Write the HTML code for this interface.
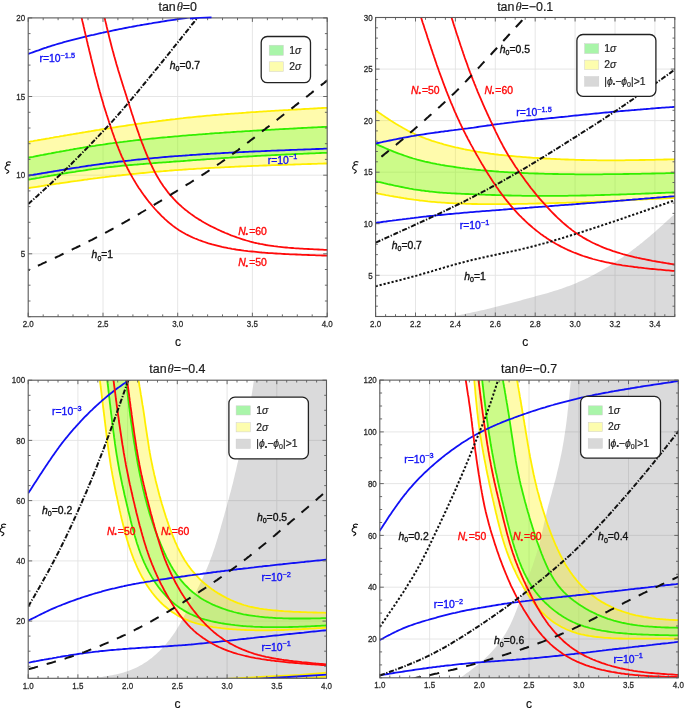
<!DOCTYPE html>
<html><head><meta charset="utf-8"><title>plot</title><style>
html,body{margin:0;padding:0;background:#fff;}
body{width:685px;height:708px;overflow:hidden;}
svg{display:block;filter:blur(0.35px);}
text{font-family:"Liberation Sans",sans-serif;}
.tk{font-size:9.3px;fill:#2a2a2a;}
.ti{font-size:12.4px;fill:#1a1a1a;stroke:#1a1a1a;stroke-width:0.2px;}
.th{font-family:"Liberation Serif",serif;font-style:italic;font-size:12.5px;}
.ax{font-size:12px;fill:#111;stroke:#111;stroke-width:0.2px;}
.xi{font-family:"Liberation Serif",serif;font-style:italic;font-size:14.5px;fill:#111;stroke:#111;stroke-width:0.25px;}
.pl{font-size:10.4px;}
.lg{font-size:10.4px;fill:#222;stroke:#222;stroke-width:0.2px;}
.it{font-style:italic;}
.sb{font-size:7px;}
.sp{font-size:7.3px;}
.st{font-size:7px;}
text{stroke-width:0.35px;paint-order:stroke;}
.tk{stroke:#2a2a2a;stroke-width:0.3px;}
</style></head>
<body><svg width="685" height="708" viewBox="0 0 685 708">
<defs><clipPath id="clip1"><rect x="28.2" y="17.9" width="299" height="298.8"/></clipPath>
<clipPath id="clip2"><rect x="375.6" y="17.5" width="299.2" height="299"/></clipPath>
<clipPath id="clip3"><rect x="28.2" y="380.2" width="298.3" height="298.1"/></clipPath>
<clipPath id="gcl1"><path d="M254.4,377 L254.1,379 L253.8,381 L253.5,383 L253.2,385 L252.9,387 L252.6,389 L252.3,390.9 L252,392.9 L251.7,394.9 L251.3,396.9 L251,398.9 L250.6,400.9 L250.3,402.8 L249.9,404.8 L249.6,406.8 L249.2,408.8 L248.8,410.7 L248.5,412.7 L248.1,414.7 L247.7,416.7 L247.3,418.6 L246.9,420.6 L246.5,422.6 L246.1,424.5 L245.7,426.5 L245.3,428.5 L244.9,430.4 L244.4,432.4 L244,434.4 L243.6,436.3 L243.2,438.3 L242.7,440.3 L242.3,442.2 L241.9,444.2 L241.4,446.2 L241,448.1 L240.5,450.1 L240.1,452.1 L239.7,454 L239.2,456 L238.8,457.9 L238.3,459.9 L237.9,461.9 L237.4,463.8 L237,465.8 L236.5,467.7 L236.1,469.7 L235.6,471.7 L235.1,473.6 L234.7,475.6 L234.2,477.5 L233.7,479.5 L233.3,481.4 L232.8,483.4 L232.3,485.3 L231.8,487.3 L231.3,489.2 L230.8,491.2 L230.3,493.1 L229.7,495.1 L229.2,497 L228.7,498.9 L228.2,500.9 L227.6,502.8 L227.1,504.8 L226.6,506.7 L226,508.6 L225.5,510.6 L224.9,512.5 L224.4,514.5 L223.9,516.4 L223.3,518.3 L222.8,520.3 L222.2,522.2 L221.7,524.1 L221.1,526.1 L220.6,528 L220,529.9 L219.5,531.9 L218.9,533.8 L218.3,535.7 L217.8,537.7 L217.2,539.6 L216.6,541.5 L216,543.4 L215.4,545.3 L214.8,547.3 L214.1,549.2 L213.5,551.1 L212.8,553 L212.2,554.9 L211.5,556.7 L210.8,558.6 L210.1,560.5 L209.4,562.4 L208.6,564.2 L207.9,566.1 L207.1,568 L206.3,569.8 L205.5,571.7 L204.7,573.5 L203.9,575.3 L203.1,577.2 L202.3,579 L201.4,580.8 L200.5,582.6 L199.7,584.5 L198.8,586.3 L197.9,588.1 L197,589.9 L196.2,591.7 L195.3,593.5 L194.4,595.3 L193.5,597.1 L192.6,598.9 L191.7,600.7 L190.8,602.5 L190,604.4 L189.1,606.2 L188.2,608 L187.3,609.8 L186.4,611.6 L185.5,613.4 L184.6,615.2 L183.7,617 L182.7,618.8 L181.8,620.6 L180.8,622.3 L179.9,624.1 L178.9,625.8 L177.8,627.6 L176.8,629.3 L175.7,631 L174.6,632.7 L173.5,634.3 L172.3,636 L171.1,637.6 L169.9,639.2 L168.7,640.8 L167.4,642.3 L166.1,643.9 L164.8,645.4 L163.4,646.9 L162.1,648.4 L160.7,649.8 L159.3,651.2 L157.8,652.6 L156.3,654 L154.8,655.3 L153.3,656.6 L151.8,657.9 L150.2,659.1 L148.6,660.3 L147,661.5 L145.3,662.6 L143.6,663.6 L141.9,664.7 L140.2,665.6 L138.5,666.6 L136.7,667.5 L134.9,668.3 L133.1,669.1 L131.3,669.8 L129.4,670.5 L127.5,671.2 L125.6,671.8 L123.7,672.4 L121.8,673 L119.9,673.5 L117.9,674 L115.9,674.4 L114,674.8 L112,675.2 L110,675.6 L108,676 L106,676.3 L104,676.6 L102.1,676.9 L100,677.2 L98,677.5 L96,677.8 L94,678.1 L92,678.3 L90,678.6 L88,678.8 L86,679.1 L84,679.4 L82,679.6 L80,679.9 L330,680 L330,377 Z"/></clipPath>
<clipPath id="clip4"><rect x="379.8" y="380.1" width="298.5" height="297.7"/></clipPath>
<clipPath id="gcl2"><path d="M571.1,377 L570.9,379 L570.8,381 L570.6,383 L570.4,385 L570.2,387 L570,389 L569.8,391 L569.6,393.1 L569.4,395.1 L569.2,397.1 L569,399.1 L568.8,401.1 L568.6,403.1 L568.4,405.1 L568.2,407.1 L568,409.1 L567.7,411.1 L567.5,413.1 L567.3,415.1 L567.1,417.1 L566.8,419.1 L566.6,421.1 L566.3,423.1 L566.1,425.1 L565.8,427.1 L565.5,429.1 L565.2,431.1 L564.9,433.1 L564.6,435.1 L564.3,437.1 L564,439 L563.7,441 L563.3,443 L563,445 L562.6,447 L562.3,448.9 L561.9,450.9 L561.5,452.9 L561.1,454.9 L560.7,456.8 L560.3,458.8 L559.9,460.8 L559.4,462.7 L559,464.7 L558.5,466.7 L558.1,468.6 L557.6,470.6 L557.1,472.5 L556.7,474.5 L556.2,476.5 L555.7,478.4 L555.2,480.4 L554.6,482.3 L554.1,484.2 L553.6,486.2 L553.1,488.1 L552.5,490.1 L552,492 L551.5,494 L550.9,495.9 L550.4,497.8 L549.9,499.8 L549.4,501.7 L548.8,503.7 L548.3,505.6 L547.8,507.6 L547.3,509.5 L546.8,511.5 L546.4,513.4 L545.9,515.4 L545.4,517.3 L545,519.3 L544.6,521.3 L544.1,523.2 L543.7,525.2 L543.3,527.2 L542.8,529.1 L542.4,531.1 L541.9,533.1 L541.5,535 L541,537 L540.6,538.9 L540.1,540.9 L539.6,542.8 L539.1,544.8 L538.6,546.7 L538.1,548.6 L537.5,550.6 L536.9,552.5 L536.4,554.4 L535.8,556.3 L535.1,558.2 L534.5,560.1 L533.9,562.1 L533.2,564 L532.6,565.9 L531.9,567.8 L531.2,569.7 L530.5,571.6 L529.9,573.5 L529.2,575.4 L528.5,577.2 L527.8,579.1 L527.1,581 L526.4,582.9 L525.8,584.8 L525.1,586.7 L524.4,588.6 L523.7,590.5 L523,592.4 L522.3,594.4 L521.6,596.3 L520.9,598.2 L520.2,600.1 L519.5,602 L518.8,603.9 L518.1,605.8 L517.4,607.7 L516.7,609.5 L516,611.4 L515.2,613.3 L514.5,615.2 L513.7,617 L512.9,618.9 L512.1,620.7 L511.3,622.5 L510.4,624.4 L509.5,626.2 L508.6,627.9 L507.7,629.7 L506.7,631.4 L505.7,633.2 L504.6,634.9 L503.6,636.6 L502.5,638.2 L501.3,639.9 L500.2,641.5 L499,643.1 L497.8,644.7 L496.5,646.2 L495.3,647.8 L494,649.3 L492.6,650.8 L491.3,652.3 L489.9,653.7 L488.5,655.2 L487.1,656.6 L485.6,657.9 L484.2,659.3 L482.7,660.6 L481.2,662 L479.6,663.3 L478.1,664.5 L476.5,665.8 L474.9,667.1 L473.3,668.3 L471.7,669.5 L470.1,670.7 L468.5,671.9 L466.8,673.1 L465.2,674.3 L463.6,675.5 L461.9,676.7 L460.2,677.8 L458.6,679 L456.9,680.2 L455.2,681.3 L682,681 L682,377 Z"/></clipPath></defs>
<rect x="0" y="0" width="685" height="708" fill="#fff"/>
<line x1="103" y1="17.9" x2="103" y2="316.7" stroke="#e3e3e3" stroke-width="0.9"/>
<line x1="177.7" y1="17.9" x2="177.7" y2="316.7" stroke="#e3e3e3" stroke-width="0.9"/>
<line x1="252.4" y1="17.9" x2="252.4" y2="316.7" stroke="#e3e3e3" stroke-width="0.9"/>
<line x1="28.2" y1="253.8" x2="327.2" y2="253.8" stroke="#e3e3e3" stroke-width="0.9"/>
<line x1="28.2" y1="175.2" x2="327.2" y2="175.2" stroke="#e3e3e3" stroke-width="0.9"/>
<line x1="28.2" y1="96.5" x2="327.2" y2="96.5" stroke="#e3e3e3" stroke-width="0.9"/>
<g clip-path="url(#clip1)">
<path d="M27,142.1 L29,141.8 L31,141.4 L33,141.1 L35,140.7 L37,140.4 L39,140 L41,139.7 L43,139.3 L45,139 L46.9,138.6 L48.9,138.3 L50.9,137.9 L52.9,137.6 L54.9,137.2 L56.9,136.9 L58.9,136.6 L60.9,136.2 L62.9,135.9 L64.9,135.5 L66.9,135.2 L68.9,134.8 L70.9,134.5 L72.9,134.2 L74.9,133.8 L76.9,133.5 L78.9,133.2 L80.9,132.8 L82.9,132.5 L84.9,132.2 L86.9,131.8 L88.9,131.5 L90.9,131.2 L92.9,130.8 L94.9,130.5 L96.9,130.2 L98.9,129.9 L100.9,129.5 L102.9,129.2 L104.9,128.9 L106.9,128.6 L108.9,128.3 L110.9,127.9 L112.9,127.6 L114.9,127.3 L116.9,127 L118.9,126.7 L120.9,126.4 L122.9,126.1 L124.9,125.8 L126.9,125.5 L128.9,125.2 L130.9,124.9 L132.9,124.6 L134.9,124.3 L136.9,124 L138.9,123.7 L140.9,123.5 L142.9,123.2 L144.9,122.9 L146.9,122.6 L148.9,122.4 L150.9,122.1 L152.9,121.8 L155,121.6 L157,121.3 L159,121 L161,120.8 L163,120.5 L165,120.3 L167,120 L169,119.8 L171,119.5 L173,119.3 L175,119.1 L177.1,118.8 L179.1,118.6 L181.1,118.4 L183.1,118.2 L185.1,117.9 L187.1,117.7 L189.1,117.5 L191.1,117.3 L193.2,117.1 L195.2,116.9 L197.2,116.7 L199.2,116.5 L201.2,116.3 L203.2,116.1 L205.3,115.9 L207.3,115.7 L209.3,115.6 L211.3,115.4 L213.3,115.2 L215.3,115 L217.4,114.9 L219.4,114.7 L221.4,114.5 L223.4,114.4 L225.4,114.2 L227.5,114 L229.5,113.9 L231.5,113.7 L233.5,113.6 L235.5,113.4 L237.5,113.3 L239.6,113.1 L241.6,113 L243.6,112.8 L245.6,112.7 L247.6,112.5 L249.7,112.4 L251.7,112.2 L253.7,112.1 L255.7,112 L257.7,111.8 L259.8,111.7 L261.8,111.6 L263.8,111.4 L265.8,111.3 L267.9,111.2 L269.9,111.1 L271.9,110.9 L273.9,110.8 L275.9,110.7 L278,110.6 L280,110.4 L282,110.3 L284,110.2 L286,110.1 L288.1,110 L290.1,109.8 L292.1,109.7 L294.1,109.6 L296.2,109.5 L298.2,109.4 L300.2,109.3 L302.2,109.1 L304.2,109 L306.3,108.9 L308.3,108.8 L310.3,108.7 L312.3,108.6 L314.3,108.5 L316.4,108.4 L318.4,108.2 L320.4,108.1 L322.4,108 L324.5,107.9 L326.5,107.8 L328.5,107.7 L328.5,163.4 L326.5,163.5 L324.5,163.5 L322.4,163.6 L320.4,163.6 L318.4,163.7 L316.4,163.8 L314.4,163.8 L312.4,163.9 L310.3,164 L308.3,164 L306.3,164.1 L304.3,164.2 L302.3,164.2 L300.3,164.3 L298.2,164.4 L296.2,164.4 L294.2,164.5 L292.2,164.6 L290.2,164.6 L288.1,164.7 L286.1,164.8 L284.1,164.8 L282.1,164.9 L280.1,165 L278.1,165 L276,165.1 L274,165.2 L272,165.2 L270,165.3 L268,165.4 L266,165.5 L263.9,165.5 L261.9,165.6 L259.9,165.7 L257.9,165.8 L255.9,165.9 L253.9,165.9 L251.8,166 L249.8,166.1 L247.8,166.2 L245.8,166.3 L243.8,166.3 L241.8,166.4 L239.7,166.5 L237.7,166.6 L235.7,166.7 L233.7,166.8 L231.7,166.9 L229.7,167 L227.6,167.1 L225.6,167.2 L223.6,167.3 L221.6,167.4 L219.6,167.5 L217.6,167.6 L215.5,167.7 L213.5,167.8 L211.5,167.9 L209.5,168 L207.5,168.1 L205.5,168.2 L203.4,168.3 L201.4,168.5 L199.4,168.6 L197.4,168.7 L195.4,168.8 L193.4,169 L191.4,169.1 L189.3,169.2 L187.3,169.4 L185.3,169.5 L183.3,169.6 L181.3,169.8 L179.3,169.9 L177.3,170.1 L175.2,170.2 L173.2,170.4 L171.2,170.5 L169.2,170.7 L167.2,170.8 L165.2,171 L163.2,171.2 L161.2,171.3 L159.1,171.5 L157.1,171.7 L155.1,171.9 L153.1,172 L151.1,172.2 L149.1,172.4 L147.1,172.6 L145.1,172.8 L143.1,173 L141.1,173.2 L139,173.4 L137,173.6 L135,173.8 L133,174 L131,174.2 L129,174.4 L127,174.6 L125,174.8 L123,175 L121,175.3 L119,175.5 L117,175.7 L115,176 L112.9,176.2 L110.9,176.4 L108.9,176.7 L106.9,176.9 L104.9,177.2 L102.9,177.4 L100.9,177.6 L98.9,177.9 L96.9,178.2 L94.9,178.4 L92.9,178.7 L90.9,178.9 L88.9,179.2 L86.9,179.5 L84.9,179.7 L82.9,180 L80.9,180.3 L78.9,180.6 L76.9,180.9 L74.9,181.1 L72.9,181.4 L70.9,181.7 L68.9,182 L66.9,182.3 L64.9,182.6 L62.9,182.9 L60.9,183.2 L58.9,183.5 L56.9,183.7 L54.9,184 L52.9,184.3 L50.9,184.6 L49,184.9 L47,185.2 L45,185.5 L43,185.8 L41,186.2 L39,186.5 L37,186.8 L35,187.1 L33,187.4 L31,187.7 L29,188 L27,188.3 Z" fill="rgba(255,243,0,0.325)" stroke="none"/>
<path d="M27,157.9 L29,157.5 L31,157.1 L33,156.8 L35,156.4 L36.9,156 L38.9,155.6 L40.9,155.2 L42.9,154.9 L44.9,154.5 L46.9,154.1 L48.9,153.7 L50.9,153.4 L52.8,153 L54.8,152.6 L56.8,152.2 L58.8,151.9 L60.8,151.5 L62.8,151.2 L64.8,150.8 L66.8,150.4 L68.8,150.1 L70.8,149.7 L72.8,149.4 L74.7,149 L76.7,148.7 L78.7,148.3 L80.7,148 L82.7,147.7 L84.7,147.3 L86.7,147 L88.7,146.7 L90.7,146.4 L92.7,146.1 L94.7,145.8 L96.7,145.4 L98.7,145.1 L100.7,144.8 L102.7,144.6 L104.7,144.3 L106.7,144 L108.7,143.7 L110.7,143.4 L112.7,143.2 L114.7,142.9 L116.7,142.6 L118.7,142.4 L120.7,142.1 L122.7,141.9 L124.8,141.6 L126.8,141.4 L128.8,141.1 L130.8,140.9 L132.8,140.7 L134.8,140.4 L136.8,140.2 L138.8,140 L140.8,139.8 L142.8,139.6 L144.9,139.3 L146.9,139.1 L148.9,138.9 L150.9,138.7 L152.9,138.5 L154.9,138.3 L156.9,138.1 L158.9,137.9 L161,137.7 L163,137.5 L165,137.3 L167,137.2 L169,137 L171,136.8 L173.1,136.6 L175.1,136.4 L177.1,136.3 L179.1,136.1 L181.1,135.9 L183.1,135.7 L185.2,135.6 L187.2,135.4 L189.2,135.2 L191.2,135.1 L193.2,134.9 L195.2,134.8 L197.3,134.6 L199.3,134.4 L201.3,134.3 L203.3,134.1 L205.3,134 L207.3,133.8 L209.4,133.7 L211.4,133.5 L213.4,133.4 L215.4,133.2 L217.4,133.1 L219.4,133 L221.5,132.8 L223.5,132.7 L225.5,132.5 L227.5,132.4 L229.5,132.3 L231.6,132.1 L233.6,132 L235.6,131.9 L237.6,131.7 L239.6,131.6 L241.6,131.5 L243.7,131.3 L245.7,131.2 L247.7,131.1 L249.7,131 L251.7,130.8 L253.8,130.7 L255.8,130.6 L257.8,130.5 L259.8,130.4 L261.8,130.2 L263.9,130.1 L265.9,130 L267.9,129.9 L269.9,129.8 L271.9,129.7 L274,129.6 L276,129.4 L278,129.3 L280,129.2 L282,129.1 L284.1,129 L286.1,128.9 L288.1,128.8 L290.1,128.7 L292.1,128.6 L294.2,128.5 L296.2,128.4 L298.2,128.2 L300.2,128.1 L302.2,128 L304.3,127.9 L306.3,127.8 L308.3,127.7 L310.3,127.6 L312.3,127.5 L314.4,127.4 L316.4,127.3 L318.4,127.2 L320.4,127.1 L322.4,127 L324.5,126.9 L326.5,126.8 L328.5,126.7 L328.5,152.7 L326.5,152.8 L324.5,152.9 L322.4,152.9 L320.4,153 L318.4,153.1 L316.4,153.2 L314.4,153.3 L312.4,153.3 L310.3,153.4 L308.3,153.5 L306.3,153.6 L304.3,153.7 L302.3,153.8 L300.2,153.9 L298.2,153.9 L296.2,154 L294.2,154.1 L292.2,154.2 L290.2,154.3 L288.1,154.4 L286.1,154.5 L284.1,154.6 L282.1,154.7 L280.1,154.8 L278,154.9 L276,155 L274,155.1 L272,155.2 L270,155.3 L268,155.4 L265.9,155.5 L263.9,155.6 L261.9,155.7 L259.9,155.8 L257.9,155.9 L255.9,156 L253.8,156.1 L251.8,156.3 L249.8,156.4 L247.8,156.5 L245.8,156.6 L243.8,156.7 L241.7,156.9 L239.7,157 L237.7,157.1 L235.7,157.3 L233.7,157.4 L231.7,157.5 L229.7,157.7 L227.6,157.8 L225.6,157.9 L223.6,158.1 L221.6,158.2 L219.6,158.3 L217.6,158.5 L215.5,158.6 L213.5,158.8 L211.5,158.9 L209.5,159.1 L207.5,159.2 L205.5,159.4 L203.5,159.5 L201.4,159.6 L199.4,159.8 L197.4,159.9 L195.4,160.1 L193.4,160.2 L191.4,160.4 L189.4,160.5 L187.3,160.7 L185.3,160.8 L183.3,161 L181.3,161.1 L179.3,161.3 L177.3,161.4 L175.2,161.5 L173.2,161.7 L171.2,161.8 L169.2,162 L167.2,162.1 L165.2,162.3 L163.2,162.4 L161.1,162.6 L159.1,162.7 L157.1,162.9 L155.1,163 L153.1,163.2 L151.1,163.3 L149,163.5 L147,163.6 L145,163.8 L143,164 L141,164.1 L139,164.3 L137,164.5 L134.9,164.6 L132.9,164.8 L130.9,165 L128.9,165.2 L126.9,165.4 L124.9,165.5 L122.9,165.7 L120.9,165.9 L118.9,166.1 L116.9,166.3 L114.8,166.5 L112.8,166.8 L110.8,167 L108.8,167.2 L106.8,167.4 L104.8,167.7 L102.8,167.9 L100.8,168.1 L98.8,168.4 L96.8,168.6 L94.8,168.9 L92.8,169.2 L90.8,169.4 L88.8,169.7 L86.8,170 L84.8,170.3 L82.8,170.6 L80.8,170.8 L78.8,171.1 L76.8,171.4 L74.8,171.8 L72.8,172.1 L70.8,172.4 L68.8,172.7 L66.8,173 L64.8,173.3 L62.8,173.7 L60.8,174 L58.9,174.3 L56.9,174.7 L54.9,175 L52.9,175.3 L50.9,175.7 L48.9,176 L46.9,176.4 L44.9,176.7 L42.9,177.1 L40.9,177.4 L38.9,177.8 L36.9,178.1 L35,178.5 L33,178.8 L31,179.2 L29,179.5 L27,179.9 Z" fill="rgba(0,255,0,0.2)" stroke="none"/>
<path d="M27,142.1 L29,141.8 L31,141.4 L33,141.1 L35,140.7 L37,140.4 L39,140 L41,139.7 L43,139.3 L45,139 L46.9,138.6 L48.9,138.3 L50.9,137.9 L52.9,137.6 L54.9,137.2 L56.9,136.9 L58.9,136.6 L60.9,136.2 L62.9,135.9 L64.9,135.5 L66.9,135.2 L68.9,134.8 L70.9,134.5 L72.9,134.2 L74.9,133.8 L76.9,133.5 L78.9,133.2 L80.9,132.8 L82.9,132.5 L84.9,132.2 L86.9,131.8 L88.9,131.5 L90.9,131.2 L92.9,130.8 L94.9,130.5 L96.9,130.2 L98.9,129.9 L100.9,129.5 L102.9,129.2 L104.9,128.9 L106.9,128.6 L108.9,128.3 L110.9,127.9 L112.9,127.6 L114.9,127.3 L116.9,127 L118.9,126.7 L120.9,126.4 L122.9,126.1 L124.9,125.8 L126.9,125.5 L128.9,125.2 L130.9,124.9 L132.9,124.6 L134.9,124.3 L136.9,124 L138.9,123.7 L140.9,123.5 L142.9,123.2 L144.9,122.9 L146.9,122.6 L148.9,122.4 L150.9,122.1 L152.9,121.8 L155,121.6 L157,121.3 L159,121 L161,120.8 L163,120.5 L165,120.3 L167,120 L169,119.8 L171,119.5 L173,119.3 L175,119.1 L177.1,118.8 L179.1,118.6 L181.1,118.4 L183.1,118.2 L185.1,117.9 L187.1,117.7 L189.1,117.5 L191.1,117.3 L193.2,117.1 L195.2,116.9 L197.2,116.7 L199.2,116.5 L201.2,116.3 L203.2,116.1 L205.3,115.9 L207.3,115.7 L209.3,115.6 L211.3,115.4 L213.3,115.2 L215.3,115 L217.4,114.9 L219.4,114.7 L221.4,114.5 L223.4,114.4 L225.4,114.2 L227.5,114 L229.5,113.9 L231.5,113.7 L233.5,113.6 L235.5,113.4 L237.5,113.3 L239.6,113.1 L241.6,113 L243.6,112.8 L245.6,112.7 L247.6,112.5 L249.7,112.4 L251.7,112.2 L253.7,112.1 L255.7,112 L257.7,111.8 L259.8,111.7 L261.8,111.6 L263.8,111.4 L265.8,111.3 L267.9,111.2 L269.9,111.1 L271.9,110.9 L273.9,110.8 L275.9,110.7 L278,110.6 L280,110.4 L282,110.3 L284,110.2 L286,110.1 L288.1,110 L290.1,109.8 L292.1,109.7 L294.1,109.6 L296.2,109.5 L298.2,109.4 L300.2,109.3 L302.2,109.1 L304.2,109 L306.3,108.9 L308.3,108.8 L310.3,108.7 L312.3,108.6 L314.3,108.5 L316.4,108.4 L318.4,108.2 L320.4,108.1 L322.4,108 L324.5,107.9 L326.5,107.8 L328.5,107.7" fill="none" stroke="#ffee00" stroke-width="1.8" stroke-linejoin="round"/>
<path d="M27,188.3 L29,188 L31,187.7 L33,187.4 L35,187.1 L37,186.8 L39,186.5 L41,186.2 L43,185.8 L45,185.5 L47,185.2 L49,184.9 L50.9,184.6 L52.9,184.3 L54.9,184 L56.9,183.7 L58.9,183.5 L60.9,183.2 L62.9,182.9 L64.9,182.6 L66.9,182.3 L68.9,182 L70.9,181.7 L72.9,181.4 L74.9,181.1 L76.9,180.9 L78.9,180.6 L80.9,180.3 L82.9,180 L84.9,179.7 L86.9,179.5 L88.9,179.2 L90.9,178.9 L92.9,178.7 L94.9,178.4 L96.9,178.2 L98.9,177.9 L100.9,177.6 L102.9,177.4 L104.9,177.2 L106.9,176.9 L108.9,176.7 L110.9,176.4 L112.9,176.2 L115,176 L117,175.7 L119,175.5 L121,175.3 L123,175 L125,174.8 L127,174.6 L129,174.4 L131,174.2 L133,174 L135,173.8 L137,173.6 L139,173.4 L141.1,173.2 L143.1,173 L145.1,172.8 L147.1,172.6 L149.1,172.4 L151.1,172.2 L153.1,172 L155.1,171.9 L157.1,171.7 L159.1,171.5 L161.2,171.3 L163.2,171.2 L165.2,171 L167.2,170.8 L169.2,170.7 L171.2,170.5 L173.2,170.4 L175.2,170.2 L177.3,170.1 L179.3,169.9 L181.3,169.8 L183.3,169.6 L185.3,169.5 L187.3,169.4 L189.3,169.2 L191.4,169.1 L193.4,169 L195.4,168.8 L197.4,168.7 L199.4,168.6 L201.4,168.5 L203.4,168.3 L205.5,168.2 L207.5,168.1 L209.5,168 L211.5,167.9 L213.5,167.8 L215.5,167.7 L217.6,167.6 L219.6,167.5 L221.6,167.4 L223.6,167.3 L225.6,167.2 L227.6,167.1 L229.7,167 L231.7,166.9 L233.7,166.8 L235.7,166.7 L237.7,166.6 L239.7,166.5 L241.8,166.4 L243.8,166.3 L245.8,166.3 L247.8,166.2 L249.8,166.1 L251.8,166 L253.9,165.9 L255.9,165.9 L257.9,165.8 L259.9,165.7 L261.9,165.6 L263.9,165.5 L266,165.5 L268,165.4 L270,165.3 L272,165.2 L274,165.2 L276,165.1 L278.1,165 L280.1,165 L282.1,164.9 L284.1,164.8 L286.1,164.8 L288.1,164.7 L290.2,164.6 L292.2,164.6 L294.2,164.5 L296.2,164.4 L298.2,164.4 L300.3,164.3 L302.3,164.2 L304.3,164.2 L306.3,164.1 L308.3,164 L310.3,164 L312.4,163.9 L314.4,163.8 L316.4,163.8 L318.4,163.7 L320.4,163.6 L322.4,163.6 L324.5,163.5 L326.5,163.5 L328.5,163.4" fill="none" stroke="#ffee00" stroke-width="1.8" stroke-linejoin="round"/>
<path d="M27,157.9 L29,157.5 L31,157.1 L33,156.8 L35,156.4 L36.9,156 L38.9,155.6 L40.9,155.2 L42.9,154.9 L44.9,154.5 L46.9,154.1 L48.9,153.7 L50.9,153.4 L52.8,153 L54.8,152.6 L56.8,152.2 L58.8,151.9 L60.8,151.5 L62.8,151.2 L64.8,150.8 L66.8,150.4 L68.8,150.1 L70.8,149.7 L72.8,149.4 L74.7,149 L76.7,148.7 L78.7,148.3 L80.7,148 L82.7,147.7 L84.7,147.3 L86.7,147 L88.7,146.7 L90.7,146.4 L92.7,146.1 L94.7,145.8 L96.7,145.4 L98.7,145.1 L100.7,144.8 L102.7,144.6 L104.7,144.3 L106.7,144 L108.7,143.7 L110.7,143.4 L112.7,143.2 L114.7,142.9 L116.7,142.6 L118.7,142.4 L120.7,142.1 L122.7,141.9 L124.8,141.6 L126.8,141.4 L128.8,141.1 L130.8,140.9 L132.8,140.7 L134.8,140.4 L136.8,140.2 L138.8,140 L140.8,139.8 L142.8,139.6 L144.9,139.3 L146.9,139.1 L148.9,138.9 L150.9,138.7 L152.9,138.5 L154.9,138.3 L156.9,138.1 L158.9,137.9 L161,137.7 L163,137.5 L165,137.3 L167,137.2 L169,137 L171,136.8 L173.1,136.6 L175.1,136.4 L177.1,136.3 L179.1,136.1 L181.1,135.9 L183.1,135.7 L185.2,135.6 L187.2,135.4 L189.2,135.2 L191.2,135.1 L193.2,134.9 L195.2,134.8 L197.3,134.6 L199.3,134.4 L201.3,134.3 L203.3,134.1 L205.3,134 L207.3,133.8 L209.4,133.7 L211.4,133.5 L213.4,133.4 L215.4,133.2 L217.4,133.1 L219.4,133 L221.5,132.8 L223.5,132.7 L225.5,132.5 L227.5,132.4 L229.5,132.3 L231.6,132.1 L233.6,132 L235.6,131.9 L237.6,131.7 L239.6,131.6 L241.6,131.5 L243.7,131.3 L245.7,131.2 L247.7,131.1 L249.7,131 L251.7,130.8 L253.8,130.7 L255.8,130.6 L257.8,130.5 L259.8,130.4 L261.8,130.2 L263.9,130.1 L265.9,130 L267.9,129.9 L269.9,129.8 L271.9,129.7 L274,129.6 L276,129.4 L278,129.3 L280,129.2 L282,129.1 L284.1,129 L286.1,128.9 L288.1,128.8 L290.1,128.7 L292.1,128.6 L294.2,128.5 L296.2,128.4 L298.2,128.2 L300.2,128.1 L302.2,128 L304.3,127.9 L306.3,127.8 L308.3,127.7 L310.3,127.6 L312.3,127.5 L314.4,127.4 L316.4,127.3 L318.4,127.2 L320.4,127.1 L322.4,127 L324.5,126.9 L326.5,126.8 L328.5,126.7" fill="none" stroke="#33ee00" stroke-width="1.8" stroke-linejoin="round"/>
<path d="M27,179.9 L29,179.5 L31,179.2 L33,178.8 L35,178.5 L36.9,178.1 L38.9,177.8 L40.9,177.4 L42.9,177.1 L44.9,176.7 L46.9,176.4 L48.9,176 L50.9,175.7 L52.9,175.3 L54.9,175 L56.9,174.7 L58.9,174.3 L60.8,174 L62.8,173.7 L64.8,173.3 L66.8,173 L68.8,172.7 L70.8,172.4 L72.8,172.1 L74.8,171.8 L76.8,171.4 L78.8,171.1 L80.8,170.8 L82.8,170.6 L84.8,170.3 L86.8,170 L88.8,169.7 L90.8,169.4 L92.8,169.2 L94.8,168.9 L96.8,168.6 L98.8,168.4 L100.8,168.1 L102.8,167.9 L104.8,167.7 L106.8,167.4 L108.8,167.2 L110.8,167 L112.8,166.8 L114.8,166.5 L116.9,166.3 L118.9,166.1 L120.9,165.9 L122.9,165.7 L124.9,165.5 L126.9,165.4 L128.9,165.2 L130.9,165 L132.9,164.8 L134.9,164.6 L137,164.5 L139,164.3 L141,164.1 L143,164 L145,163.8 L147,163.6 L149,163.5 L151.1,163.3 L153.1,163.2 L155.1,163 L157.1,162.9 L159.1,162.7 L161.1,162.6 L163.2,162.4 L165.2,162.3 L167.2,162.1 L169.2,162 L171.2,161.8 L173.2,161.7 L175.2,161.5 L177.3,161.4 L179.3,161.3 L181.3,161.1 L183.3,161 L185.3,160.8 L187.3,160.7 L189.4,160.5 L191.4,160.4 L193.4,160.2 L195.4,160.1 L197.4,159.9 L199.4,159.8 L201.4,159.6 L203.5,159.5 L205.5,159.4 L207.5,159.2 L209.5,159.1 L211.5,158.9 L213.5,158.8 L215.5,158.6 L217.6,158.5 L219.6,158.3 L221.6,158.2 L223.6,158.1 L225.6,157.9 L227.6,157.8 L229.7,157.7 L231.7,157.5 L233.7,157.4 L235.7,157.3 L237.7,157.1 L239.7,157 L241.7,156.9 L243.8,156.7 L245.8,156.6 L247.8,156.5 L249.8,156.4 L251.8,156.3 L253.8,156.1 L255.9,156 L257.9,155.9 L259.9,155.8 L261.9,155.7 L263.9,155.6 L265.9,155.5 L268,155.4 L270,155.3 L272,155.2 L274,155.1 L276,155 L278,154.9 L280.1,154.8 L282.1,154.7 L284.1,154.6 L286.1,154.5 L288.1,154.4 L290.2,154.3 L292.2,154.2 L294.2,154.1 L296.2,154 L298.2,153.9 L300.2,153.9 L302.3,153.8 L304.3,153.7 L306.3,153.6 L308.3,153.5 L310.3,153.4 L312.4,153.3 L314.4,153.3 L316.4,153.2 L318.4,153.1 L320.4,153 L322.4,152.9 L324.5,152.9 L326.5,152.8 L328.5,152.7" fill="none" stroke="#33ee00" stroke-width="1.8" stroke-linejoin="round"/>
<path d="M27,175.9 L29,175.5 L31,175.2 L33,174.9 L35,174.5 L37,174.2 L38.9,173.8 L40.9,173.5 L42.9,173.1 L44.9,172.8 L46.9,172.5 L48.9,172.1 L50.9,171.8 L52.9,171.5 L54.9,171.1 L56.9,170.8 L58.9,170.5 L60.9,170.1 L62.9,169.8 L64.9,169.5 L66.8,169.2 L68.8,168.8 L70.8,168.5 L72.8,168.2 L74.8,167.9 L76.8,167.6 L78.8,167.3 L80.8,166.9 L82.8,166.6 L84.8,166.3 L86.8,166 L88.8,165.7 L90.8,165.5 L92.8,165.2 L94.8,164.9 L96.8,164.6 L98.8,164.3 L100.8,164 L102.8,163.8 L104.8,163.5 L106.8,163.2 L108.8,163 L110.8,162.7 L112.8,162.5 L114.8,162.2 L116.8,162 L118.8,161.7 L120.8,161.5 L122.9,161.3 L124.9,161 L126.9,160.8 L128.9,160.6 L130.9,160.4 L132.9,160.1 L134.9,159.9 L136.9,159.7 L138.9,159.5 L140.9,159.3 L142.9,159.1 L145,158.9 L147,158.7 L149,158.5 L151,158.3 L153,158.1 L155,157.9 L157,157.8 L159,157.6 L161.1,157.4 L163.1,157.2 L165.1,157 L167.1,156.9 L169.1,156.7 L171.1,156.5 L173.1,156.4 L175.1,156.2 L177.2,156.1 L179.2,155.9 L181.2,155.8 L183.2,155.6 L185.2,155.5 L187.2,155.3 L189.3,155.2 L191.3,155 L193.3,154.9 L195.3,154.8 L197.3,154.6 L199.3,154.5 L201.3,154.4 L203.4,154.2 L205.4,154.1 L207.4,154 L209.4,153.9 L211.4,153.7 L213.4,153.6 L215.5,153.5 L217.5,153.4 L219.5,153.3 L221.5,153.1 L223.5,153 L225.6,152.9 L227.6,152.8 L229.6,152.7 L231.6,152.6 L233.6,152.5 L235.6,152.4 L237.7,152.3 L239.7,152.2 L241.7,152.1 L243.7,152 L245.7,151.9 L247.7,151.8 L249.8,151.7 L251.8,151.6 L253.8,151.5 L255.8,151.4 L257.8,151.4 L259.9,151.3 L261.9,151.2 L263.9,151.1 L265.9,151 L267.9,150.9 L270,150.8 L272,150.7 L274,150.7 L276,150.6 L278,150.5 L280,150.4 L282.1,150.3 L284.1,150.3 L286.1,150.2 L288.1,150.1 L290.1,150 L292.2,149.9 L294.2,149.9 L296.2,149.8 L298.2,149.7 L300.2,149.6 L302.3,149.6 L304.3,149.5 L306.3,149.4 L308.3,149.3 L310.3,149.3 L312.3,149.2 L314.4,149.1 L316.4,149 L318.4,149 L320.4,148.9 L322.4,148.8 L324.5,148.7 L326.5,148.7 L328.5,148.6" fill="none" stroke="#1010f5" stroke-width="1.8" stroke-linejoin="round"/>
<path d="M27,54.4 L28.9,53.7 L30.8,53 L32.7,52.3 L34.6,51.6 L36.6,50.9 L38.5,50.3 L40.4,49.6 L42.3,48.9 L44.3,48.2 L46.2,47.6 L48.1,46.9 L50.1,46.3 L52,45.7 L54,45.1 L55.9,44.5 L57.9,43.9 L59.8,43.3 L61.8,42.8 L63.8,42.2 L65.7,41.7 L67.7,41.1 L69.7,40.6 L71.6,40.1 L73.6,39.6 L75.6,39.1 L77.6,38.6 L79.6,38.1 L81.5,37.6 L83.5,37.1 L85.5,36.6 L87.5,36.2 L89.5,35.7 L91.5,35.2 L93.5,34.8 L95.5,34.3 L97.4,33.9 L99.4,33.4 L101.4,33 L103.4,32.5 L105.4,32.1 L107.4,31.7 L109.4,31.3 L111.4,30.8 L113.4,30.4 L115.4,30 L117.4,29.6 L119.4,29.2 L121.4,28.8 L123.4,28.4 L125.4,28 L127.4,27.6 L129.4,27.2 L131.4,26.9 L133.4,26.5 L135.5,26.1 L137.5,25.7 L139.5,25.4 L141.5,25 L143.5,24.7 L145.5,24.3 L147.5,24 L149.5,23.6 L151.5,23.3 L153.6,22.9 L155.6,22.6 L157.6,22.3 L159.6,22 L161.6,21.6 L163.6,21.3 L165.7,21 L167.7,20.7 L169.7,20.4 L171.7,20.1 L173.7,19.8 L175.7,19.5 L177.8,19.2 L179.8,18.9 L181.8,18.6 L183.8,18.3 L185.8,18 L187.9,17.7 L189.9,17.4 L191.9,17.1 L193.9,16.8 L195.9,16.5 L198,16.2 L200,16" fill="none" stroke="#1010f5" stroke-width="1.8" stroke-linejoin="round"/>
<path d="M81,15 L81.4,17 L81.9,18.9 L82.3,20.9 L82.8,22.9 L83.3,24.8 L83.7,26.8 L84.2,28.8 L84.6,30.7 L85.1,32.7 L85.5,34.6 L86,36.6 L86.5,38.6 L86.9,40.5 L87.4,42.5 L87.8,44.5 L88.3,46.4 L88.8,48.4 L89.2,50.3 L89.7,52.3 L90.2,54.3 L90.7,56.2 L91.1,58.2 L91.6,60.1 L92.1,62.1 L92.6,64.1 L93.1,66 L93.6,68 L94.1,69.9 L94.5,71.9 L95,73.8 L95.5,75.8 L96.1,77.7 L96.6,79.7 L97.1,81.6 L97.6,83.6 L98.1,85.5 L98.6,87.5 L99.2,89.4 L99.7,91.4 L100.3,93.3 L100.8,95.2 L101.4,97.2 L101.9,99.1 L102.5,101.1 L103.1,103 L103.6,104.9 L104.2,106.9 L104.8,108.8 L105.4,110.7 L106,112.6 L106.6,114.6 L107.3,116.5 L107.9,118.4 L108.5,120.3 L109.1,122.2 L109.8,124.1 L110.4,126.1 L111,128 L111.7,129.9 L112.3,131.8 L113,133.7 L113.7,135.6 L114.3,137.5 L115,139.4 L115.7,141.3 L116.4,143.2 L117.1,145.1 L117.9,146.9 L118.6,148.8 L119.4,150.7 L120.1,152.5 L120.9,154.4 L121.7,156.3 L122.6,158.1 L123.4,159.9 L124.2,161.8 L125.1,163.6 L126,165.4 L126.9,167.2 L127.8,169 L128.8,170.8 L129.7,172.6 L130.7,174.3 L131.7,176.1 L132.7,177.9 L133.7,179.6 L134.7,181.3 L135.8,183.1 L136.8,184.8 L137.9,186.5 L139,188.2 L140.2,189.8 L141.3,191.5 L142.5,193.2 L143.6,194.8 L144.8,196.4 L146.1,198.1 L147.3,199.7 L148.5,201.3 L149.8,202.8 L151.1,204.4 L152.4,206 L153.7,207.5 L155,209 L156.4,210.5 L157.8,212 L159.2,213.4 L160.6,214.9 L162,216.3 L163.5,217.7 L164.9,219.1 L166.4,220.4 L167.9,221.8 L169.5,223.1 L171,224.3 L172.6,225.6 L174.2,226.8 L175.8,227.9 L177.4,229.1 L179.1,230.2 L180.8,231.2 L182.5,232.3 L184.3,233.3 L186,234.2 L187.8,235.1 L189.6,236 L191.4,236.9 L193.2,237.7 L195.1,238.5 L197,239.2 L198.8,240 L200.7,240.7 L202.6,241.4 L204.5,242 L206.4,242.7 L208.4,243.3 L210.3,243.8 L212.2,244.4 L214.2,244.9 L216.1,245.4 L218.1,245.9 L220.1,246.4 L222,246.9 L224,247.3 L226,247.7 L228,248.1 L229.9,248.4 L231.9,248.8 L233.9,249.1 L235.9,249.5 L237.9,249.8 L239.9,250 L241.9,250.3 L243.9,250.6 L245.9,250.8 L247.9,251.1 L250,251.3 L252,251.5 L254,251.7 L256,251.9 L258,252.1 L260,252.3 L262,252.5 L264,252.6 L266,252.8 L268.1,253 L270.1,253.1 L272.1,253.2 L274.1,253.4 L276.1,253.5 L278.1,253.6 L280.1,253.7 L282.2,253.9 L284.2,254 L286.2,254.1 L288.2,254.2 L290.2,254.3 L292.2,254.4 L294.2,254.4 L296.3,254.5 L298.3,254.6 L300.3,254.7 L302.3,254.8 L304.3,254.8 L306.3,254.9 L308.3,255 L310.4,255.1 L312.4,255.1 L314.4,255.2 L316.4,255.3 L318.4,255.3 L320.4,255.4 L322.5,255.5 L324.5,255.5 L326.5,255.6 L328.5,255.6" fill="none" stroke="#ff0a0a" stroke-width="1.8" stroke-linejoin="round"/>
<path d="M103.9,15 L104.4,17 L104.9,19 L105.3,20.9 L105.8,22.9 L106.3,24.8 L106.7,26.8 L107.2,28.8 L107.7,30.7 L108.2,32.7 L108.7,34.7 L109.1,36.6 L109.6,38.6 L110.1,40.5 L110.6,42.5 L111.1,44.5 L111.6,46.4 L112.1,48.4 L112.6,50.3 L113.2,52.3 L113.7,54.2 L114.2,56.2 L114.8,58.1 L115.3,60.1 L115.9,62 L116.4,64 L117,65.9 L117.6,67.8 L118.1,69.8 L118.7,71.7 L119.3,73.6 L119.9,75.6 L120.5,77.5 L121.1,79.4 L121.7,81.3 L122.3,83.3 L122.9,85.2 L123.5,87.1 L124.1,89 L124.8,91 L125.4,92.9 L126,94.8 L126.6,96.7 L127.2,98.7 L127.8,100.6 L128.5,102.5 L129.1,104.5 L129.7,106.4 L130.3,108.3 L130.9,110.2 L131.5,112.2 L132.1,114.1 L132.8,116 L133.4,117.9 L134,119.9 L134.6,121.8 L135.3,123.7 L135.9,125.6 L136.6,127.5 L137.2,129.4 L137.9,131.4 L138.6,133.3 L139.2,135.2 L139.9,137.1 L140.6,139 L141.3,140.9 L142,142.8 L142.8,144.7 L143.5,146.5 L144.2,148.4 L145,150.3 L145.7,152.2 L146.5,154.1 L147.3,155.9 L148.1,157.8 L148.9,159.7 L149.7,161.5 L150.5,163.4 L151.4,165.2 L152.3,167 L153.2,168.8 L154.1,170.6 L155,172.4 L156,174.2 L157,176 L158,177.7 L159,179.4 L160.1,181.2 L161.1,182.8 L162.3,184.5 L163.4,186.2 L164.6,187.8 L165.8,189.4 L167,191 L168.2,192.6 L169.5,194.2 L170.8,195.7 L172.2,197.2 L173.5,198.7 L174.9,200.1 L176.3,201.6 L177.7,203 L179.2,204.4 L180.7,205.7 L182.2,207.1 L183.7,208.4 L185.3,209.7 L186.9,210.9 L188.5,212.2 L190.1,213.4 L191.7,214.6 L193.4,215.7 L195,216.9 L196.7,218 L198.4,219.1 L200.2,220.1 L201.9,221.2 L203.6,222.2 L205.4,223.2 L207.2,224.2 L209,225.2 L210.7,226.1 L212.6,227 L214.4,227.9 L216.2,228.8 L218,229.7 L219.9,230.5 L221.7,231.4 L223.6,232.2 L225.4,233 L227.3,233.7 L229.2,234.5 L231.1,235.3 L233,236 L234.9,236.7 L236.8,237.4 L238.7,238 L240.6,238.7 L242.5,239.3 L244.4,239.9 L246.4,240.5 L248.3,241 L250.3,241.6 L252.2,242.1 L254.2,242.6 L256.1,243 L258.1,243.5 L260.1,243.9 L262,244.2 L264,244.6 L266,245 L268,245.3 L270,245.6 L272,245.9 L274,246.2 L276,246.4 L278,246.7 L280,246.9 L282,247.1 L284.1,247.3 L286.1,247.5 L288.1,247.7 L290.1,247.8 L292.1,248 L294.1,248.2 L296.2,248.3 L298.2,248.4 L300.2,248.6 L302.2,248.7 L304.2,248.8 L306.3,248.9 L308.3,249 L310.3,249.1 L312.3,249.2 L314.3,249.3 L316.4,249.4 L318.4,249.5 L320.4,249.6 L322.4,249.7 L324.4,249.8 L326.5,249.8 L328.5,249.9" fill="none" stroke="#ff0a0a" stroke-width="1.8" stroke-linejoin="round"/>
<path d="M28.2,204 L29.7,202.7 L31.3,201.3 L32.8,200 L34.3,198.6 L35.8,197.2 L37.3,195.9 L38.8,194.5 L40.3,193.2 L41.8,191.8 L43.3,190.4 L44.8,189.1 L46.3,187.7 L47.8,186.3 L49.3,184.9 L50.8,183.6 L52.2,182.2 L53.7,180.8 L55.2,179.4 L56.7,178 L58.2,176.6 L59.6,175.3 L61.1,173.9 L62.6,172.5 L64,171.1 L65.5,169.6 L67,168.2 L68.4,166.8 L69.9,165.4 L71.3,164 L72.7,162.5 L74.2,161.1 L75.6,159.7 L77,158.2 L78.5,156.8 L79.9,155.3 L81.3,153.9 L82.7,152.4 L84.1,151 L85.6,149.5 L87,148.1 L88.4,146.6 L89.8,145.2 L91.2,143.7 L92.6,142.2 L94,140.8 L95.4,139.3 L96.8,137.8 L98.2,136.4 L99.6,134.9 L101,133.4 L102.4,132 L103.8,130.5 L105.2,129 L106.6,127.5 L107.9,126.1 L109.3,124.6 L110.7,123.1 L112.1,121.6 L113.4,120.1 L114.8,118.6 L116.1,117 L117.5,115.5 L118.8,114 L120.1,112.5 L121.4,110.9 L122.8,109.4 L124.1,107.9 L125.4,106.3 L126.7,104.8 L128,103.2 L129.3,101.7 L130.7,100.1 L132,98.6 L133.3,97 L134.6,95.5 L135.9,93.9 L137.2,92.4 L138.5,90.8 L139.8,89.2 L141.1,87.7 L142.4,86.1 L143.6,84.5 L144.9,83 L146.2,81.4 L147.5,79.8 L148.8,78.3 L150.1,76.7 L151.4,75.1 L152.6,73.6 L153.9,72 L155.2,70.4 L156.5,68.8 L157.8,67.3 L159,65.7 L160.3,64.1 L161.6,62.5 L162.9,61 L164.1,59.4 L165.4,57.8 L166.7,56.2 L168,54.6 L169.2,53.1 L170.5,51.5 L171.8,49.9 L173,48.3 L174.3,46.7 L175.6,45.1 L176.8,43.6 L178.1,42 L179.4,40.4 L180.7,38.8 L181.9,37.2 L183.2,35.6 L184.5,34.1 L185.7,32.5 L187,30.9 L188.3,29.3 L189.5,27.7 L190.8,26.1 L192,24.5 L193.3,23 L194.6,21.4 L195.8,19.8 L197.1,18.2 L198.4,16.6 L199.6,15" fill="none" stroke="#111111" stroke-width="2.0" stroke-linejoin="round" stroke-dasharray="5.2 1.6 1.3 1.6" stroke-dashoffset="0"/>
<path d="M28.2,270.2 L30,269.3 L31.9,268.5 L33.7,267.7 L35.5,266.8 L37.4,266 L39.2,265.1 L41,264.3 L42.8,263.4 L44.7,262.6 L46.5,261.7 L48.3,260.9 L50.2,260 L52,259.2 L53.8,258.3 L55.7,257.5 L57.5,256.6 L59.3,255.8 L61.1,254.9 L62.9,254 L64.8,253.2 L66.6,252.3 L68.4,251.4 L70.2,250.5 L72,249.6 L73.8,248.7 L75.6,247.9 L77.4,247 L79.3,246.1 L81.1,245.2 L82.9,244.3 L84.7,243.4 L86.5,242.5 L88.3,241.6 L90.1,240.7 L91.9,239.8 L93.7,238.8 L95.5,237.9 L97.3,237 L99.1,236.1 L100.9,235.2 L102.6,234.2 L104.4,233.3 L106.2,232.3 L108,231.4 L109.8,230.4 L111.5,229.5 L113.3,228.5 L115.1,227.5 L116.8,226.6 L118.6,225.6 L120.4,224.6 L122.1,223.6 L123.9,222.6 L125.6,221.6 L127.4,220.6 L129.1,219.6 L130.9,218.6 L132.6,217.6 L134.4,216.6 L136.1,215.6 L137.9,214.6 L139.6,213.6 L141.3,212.5 L143.1,211.5 L144.8,210.5 L146.5,209.4 L148.3,208.4 L150,207.4 L151.7,206.3 L153.5,205.3 L155.2,204.2 L156.9,203.2 L158.6,202.1 L160.4,201.1 L162.1,200 L163.8,199 L165.5,197.9 L167.2,196.9 L169,195.8 L170.7,194.8 L172.4,193.7 L174.1,192.6 L175.8,191.6 L177.5,190.5 L179.3,189.4 L181,188.4 L182.7,187.3 L184.4,186.3 L186.1,185.2 L187.8,184.1 L189.6,183.1 L191.3,182 L193,180.9 L194.7,179.8 L196.4,178.8 L198.1,177.7 L199.8,176.6 L201.5,175.5 L203.2,174.4 L204.9,173.3 L206.6,172.2 L208.2,171.1 L209.9,170 L211.6,168.9 L213.3,167.7 L214.9,166.6 L216.6,165.5 L218.3,164.3 L219.9,163.2 L221.6,162 L223.2,160.9 L224.9,159.7 L226.5,158.5 L228.1,157.3 L229.8,156.2 L231.4,155 L233,153.8 L234.6,152.6 L236.2,151.4 L237.9,150.2 L239.5,148.9 L241.1,147.7 L242.7,146.5 L244.3,145.3 L245.9,144 L247.5,142.8 L249.1,141.6 L250.7,140.3 L252.3,139.1 L253.9,137.9 L255.5,136.6 L257.1,135.4 L258.6,134.2 L260.2,132.9 L261.8,131.7 L263.4,130.4 L265,129.2 L266.6,127.9 L268.2,126.7 L269.8,125.5 L271.4,124.2 L273,123 L274.6,121.7 L276.1,120.5 L277.7,119.3 L279.3,118 L280.9,116.8 L282.5,115.5 L284.1,114.3 L285.7,113.1 L287.3,111.8 L288.9,110.6 L290.5,109.4 L292.1,108.1 L293.7,106.9 L295.2,105.6 L296.8,104.4 L298.4,103.1 L300,101.9 L301.6,100.7 L303.2,99.4 L304.8,98.2 L306.4,96.9 L308,95.7 L309.5,94.4 L311.1,93.2 L312.7,91.9 L314.3,90.7 L315.9,89.4 L317.5,88.2 L319,86.9 L320.6,85.7 L322.2,84.4 L323.8,83.2 L325.4,81.9 L326.9,80.7 L328.5,79.4" fill="none" stroke="#111111" stroke-width="2.0" stroke-linejoin="round" stroke-dasharray="9.6 9.1" stroke-dashoffset="8.0"/>
</g>
<text x="39.5" y="61.9" class="pl" style="fill:#1010f5;stroke:#1010f5">r=10<tspan class="sp" dy="-4.2">&#8722;1.5</tspan></text>
<text x="169.8" y="68.5" class="pl" style="fill:#111111;stroke:#111111"><tspan class="it">h</tspan><tspan class="sb" dy="2.2">0</tspan><tspan dy="-2.2">=0.7</tspan></text>
<text x="267.8" y="163.6" class="pl" style="fill:#1010f5;stroke:#1010f5">r=10<tspan class="sp" dy="-4.2">&#8722;1</tspan></text>
<text x="238.3" y="234.8" class="pl" style="fill:#ff0a0a;stroke:#ff0a0a"><tspan class="it">N</tspan><tspan class="st" dx="-0.2" dy="1.6">&#8226;</tspan><tspan dx="1.1" dy="-1.6">=60</tspan></text>
<text x="238.3" y="266" class="pl" style="fill:#ff0a0a;stroke:#ff0a0a"><tspan class="it">N</tspan><tspan class="st" dx="-0.2" dy="1.6">&#8226;</tspan><tspan dx="1.1" dy="-1.6">=50</tspan></text>
<text x="91.6" y="258.3" class="pl" style="fill:#111111;stroke:#111111"><tspan class="it">h</tspan><tspan class="sb" dy="2.2">0</tspan><tspan dy="-2.2">=1</tspan></text>
<rect x="261.2" y="36.5" width="49.3" height="46.2" rx="6" ry="6" fill="#fff" stroke="#222" stroke-width="1.3"/>
<rect x="269.2" y="45.2" width="14.2" height="10.2" fill="#a9f5a9" stroke="#cfcfcf" stroke-width="0.5"/>
<text x="289.2" y="53.5" class="lg">1<tspan class="it">&#963;</tspan></text>
<rect x="269.2" y="61.8" width="14.2" height="9.8" fill="#fdfdae" stroke="#cfcfcf" stroke-width="0.5"/>
<text x="289.2" y="69.9" class="lg">2<tspan class="it">&#963;</tspan></text>
<rect x="28.2" y="17.9" width="299" height="298.8" fill="none" stroke="#5a5a5a" stroke-width="1.1"/>
<path d="M28.2,316.7 v-4 M28.2,17.9 v4 M103,316.7 v-4 M103,17.9 v4 M177.7,316.7 v-4 M177.7,17.9 v4 M252.4,316.7 v-4 M252.4,17.9 v4 M327.2,316.7 v-4 M327.2,17.9 v4 M43.2,316.7 v-2.3 M43.2,17.9 v2.3 M58.1,316.7 v-2.3 M58.1,17.9 v2.3 M73,316.7 v-2.3 M73,17.9 v2.3 M88,316.7 v-2.3 M88,17.9 v2.3 M117.9,316.7 v-2.3 M117.9,17.9 v2.3 M132.9,316.7 v-2.3 M132.9,17.9 v2.3 M147.8,316.7 v-2.3 M147.8,17.9 v2.3 M162.7,316.7 v-2.3 M162.7,17.9 v2.3 M192.7,316.7 v-2.3 M192.7,17.9 v2.3 M207.6,316.7 v-2.3 M207.6,17.9 v2.3 M222.5,316.7 v-2.3 M222.5,17.9 v2.3 M237.5,316.7 v-2.3 M237.5,17.9 v2.3 M267.4,316.7 v-2.3 M267.4,17.9 v2.3 M282.4,316.7 v-2.3 M282.4,17.9 v2.3 M297.3,316.7 v-2.3 M297.3,17.9 v2.3 M312.2,316.7 v-2.3 M312.2,17.9 v2.3 M28.2,253.8 h4 M327.2,253.8 h-4 M28.2,175.2 h4 M327.2,175.2 h-4 M28.2,96.5 h4 M327.2,96.5 h-4 M28.2,17.9 h4 M327.2,17.9 h-4 M28.2,316.7 h2.3 M327.2,316.7 h-2.3 M28.2,301 h2.3 M327.2,301 h-2.3 M28.2,285.2 h2.3 M327.2,285.2 h-2.3 M28.2,269.5 h2.3 M327.2,269.5 h-2.3 M28.2,238.1 h2.3 M327.2,238.1 h-2.3 M28.2,222.3 h2.3 M327.2,222.3 h-2.3 M28.2,206.6 h2.3 M327.2,206.6 h-2.3 M28.2,190.9 h2.3 M327.2,190.9 h-2.3 M28.2,159.4 h2.3 M327.2,159.4 h-2.3 M28.2,143.7 h2.3 M327.2,143.7 h-2.3 M28.2,128 h2.3 M327.2,128 h-2.3 M28.2,112.3 h2.3 M327.2,112.3 h-2.3 M28.2,80.8 h2.3 M327.2,80.8 h-2.3 M28.2,65.1 h2.3 M327.2,65.1 h-2.3 M28.2,49.4 h2.3 M327.2,49.4 h-2.3 M28.2,33.6 h2.3 M327.2,33.6 h-2.3" stroke="#5a5a5a" stroke-width="0.9" fill="none"/>
<text transform="translate(28.2,327.1) scale(0.86,1)" class="tk" text-anchor="middle">2.0</text>
<text transform="translate(103,327.1) scale(0.86,1)" class="tk" text-anchor="middle">2.5</text>
<text transform="translate(177.7,327.1) scale(0.86,1)" class="tk" text-anchor="middle">3.0</text>
<text transform="translate(252.4,327.1) scale(0.86,1)" class="tk" text-anchor="middle">3.5</text>
<text transform="translate(327.2,327.1) scale(0.86,1)" class="tk" text-anchor="middle">4.0</text>
<text transform="translate(25.2,257) scale(0.86,1)" class="tk" text-anchor="end">5</text>
<text transform="translate(25.2,178.4) scale(0.86,1)" class="tk" text-anchor="end">10</text>
<text transform="translate(25.2,99.7) scale(0.86,1)" class="tk" text-anchor="end">15</text>
<text transform="translate(25.2,21.1) scale(0.86,1)" class="tk" text-anchor="end">20</text>
<path d="M190,18.6 Q200,17.4 211.5,17.3" fill="none" stroke="#1010f5" stroke-width="1.7"/>
<line x1="415.5" y1="17.5" x2="415.5" y2="316.5" stroke="#e3e3e3" stroke-width="0.9"/>
<line x1="455.4" y1="17.5" x2="455.4" y2="316.5" stroke="#e3e3e3" stroke-width="0.9"/>
<line x1="495.3" y1="17.5" x2="495.3" y2="316.5" stroke="#e3e3e3" stroke-width="0.9"/>
<line x1="535.2" y1="17.5" x2="535.2" y2="316.5" stroke="#e3e3e3" stroke-width="0.9"/>
<line x1="575.1" y1="17.5" x2="575.1" y2="316.5" stroke="#e3e3e3" stroke-width="0.9"/>
<line x1="615" y1="17.5" x2="615" y2="316.5" stroke="#e3e3e3" stroke-width="0.9"/>
<line x1="654.9" y1="17.5" x2="654.9" y2="316.5" stroke="#e3e3e3" stroke-width="0.9"/>
<line x1="375.6" y1="275.3" x2="674.8" y2="275.3" stroke="#e3e3e3" stroke-width="0.9"/>
<line x1="375.6" y1="223.7" x2="674.8" y2="223.7" stroke="#e3e3e3" stroke-width="0.9"/>
<line x1="375.6" y1="172.2" x2="674.8" y2="172.2" stroke="#e3e3e3" stroke-width="0.9"/>
<line x1="375.6" y1="120.6" x2="674.8" y2="120.6" stroke="#e3e3e3" stroke-width="0.9"/>
<line x1="375.6" y1="69.1" x2="674.8" y2="69.1" stroke="#e3e3e3" stroke-width="0.9"/>
<g clip-path="url(#clip2)">
<path d="M440,318.6 L442,318.3 L444,317.9 L446,317.6 L448,317.2 L450,316.8 L451.9,316.5 L453.9,316.1 L455.9,315.7 L457.9,315.3 L459.9,314.9 L461.9,314.5 L463.8,314.2 L465.8,313.8 L467.8,313.3 L469.8,312.9 L471.7,312.5 L473.7,312.1 L475.7,311.7 L477.7,311.2 L479.6,310.8 L481.6,310.3 L483.6,309.9 L485.5,309.4 L487.5,309 L489.5,308.5 L491.4,308 L493.4,307.5 L495.3,307 L497.3,306.5 L499.3,306 L501.2,305.5 L503.2,305 L505.1,304.5 L507.1,304 L509,303.5 L511,303 L512.9,302.5 L514.9,301.9 L516.8,301.4 L518.8,300.9 L520.7,300.4 L522.7,299.8 L524.6,299.3 L526.6,298.8 L528.5,298.2 L530.5,297.7 L532.4,297.2 L534.4,296.7 L536.3,296.1 L538.3,295.6 L540.3,295.1 L542.2,294.5 L544.1,294 L546.1,293.4 L548,292.9 L550,292.3 L551.9,291.7 L553.8,291.1 L555.8,290.5 L557.7,289.9 L559.6,289.3 L561.5,288.7 L563.4,288 L565.3,287.3 L567.2,286.6 L569.1,285.9 L571,285.2 L572.9,284.5 L574.7,283.7 L576.6,282.9 L578.4,282.1 L580.3,281.3 L582.1,280.5 L584,279.7 L585.8,278.8 L587.6,277.9 L589.4,277 L591.2,276.1 L593,275.2 L594.8,274.2 L596.6,273.3 L598.3,272.3 L600.1,271.3 L601.9,270.3 L603.6,269.3 L605.3,268.3 L607.1,267.2 L608.8,266.2 L610.5,265.1 L612.2,264.1 L613.9,263 L615.6,261.9 L617.3,260.8 L619,259.6 L620.7,258.5 L622.4,257.4 L624,256.2 L625.7,255 L627.3,253.9 L629,252.7 L630.6,251.5 L632.2,250.3 L633.8,249.1 L635.4,247.9 L637,246.6 L638.6,245.4 L640.2,244.1 L641.8,242.9 L643.4,241.6 L644.9,240.3 L646.5,239 L648,237.8 L649.6,236.5 L651.1,235.1 L652.7,233.8 L654.2,232.5 L655.7,231.2 L657.2,229.8 L658.7,228.5 L660.2,227.1 L661.7,225.8 L663.2,224.4 L664.7,223.1 L666.2,221.7 L667.7,220.3 L669.2,219 L670.7,217.6 L672.1,216.2 L673.6,214.9 L675.1,213.5 L676.6,212.1 L680,212 L680,320 Z" fill="rgba(100,102,104,0.24)" stroke="none"/>
<path d="M373.9,109.2 L375.6,110.4 L377.3,111.5 L378.9,112.7 L380.6,113.8 L382.3,114.9 L383.9,116.1 L385.6,117.2 L387.3,118.3 L389,119.4 L390.6,120.5 L392.3,121.6 L394.1,122.7 L395.8,123.8 L397.5,124.8 L399.2,125.8 L401,126.8 L402.7,127.8 L404.5,128.8 L406.3,129.7 L408,130.7 L409.8,131.6 L411.6,132.5 L413.4,133.3 L415.3,134.2 L417.1,135 L418.9,135.8 L420.8,136.6 L422.7,137.3 L424.5,138 L426.4,138.8 L428.3,139.4 L430.2,140.1 L432.1,140.8 L434,141.4 L436,142 L437.9,142.6 L439.8,143.2 L441.8,143.7 L443.7,144.3 L445.7,144.8 L447.6,145.3 L449.6,145.8 L451.5,146.3 L453.5,146.8 L455.5,147.3 L457.4,147.7 L459.4,148.2 L461.4,148.6 L463.3,149 L465.3,149.5 L467.3,149.8 L469.3,150.2 L471.3,150.6 L473.3,151 L475.2,151.3 L477.2,151.7 L479.2,152 L481.2,152.3 L483.2,152.6 L485.2,152.9 L487.2,153.2 L489.2,153.5 L491.2,153.8 L493.2,154 L495.2,154.3 L497.2,154.5 L499.2,154.8 L501.2,155 L503.2,155.2 L505.2,155.4 L507.2,155.6 L509.2,155.8 L511.2,156 L513.2,156.2 L515.3,156.4 L517.3,156.6 L519.3,156.7 L521.3,156.9 L523.3,157.1 L525.3,157.2 L527.3,157.4 L529.3,157.5 L531.3,157.6 L533.4,157.8 L535.4,157.9 L537.4,158 L539.4,158.1 L541.4,158.3 L543.4,158.4 L545.4,158.5 L547.5,158.6 L549.5,158.7 L551.5,158.8 L553.5,158.9 L555.5,159 L557.5,159.1 L559.5,159.2 L561.6,159.3 L563.6,159.4 L565.6,159.5 L567.6,159.5 L569.6,159.6 L571.6,159.7 L573.7,159.7 L575.7,159.8 L577.7,159.9 L579.7,159.9 L581.7,160 L583.7,160 L585.8,160.1 L587.8,160.1 L589.8,160.2 L591.8,160.2 L593.8,160.2 L595.8,160.2 L597.9,160.3 L599.9,160.3 L601.9,160.3 L603.9,160.3 L605.9,160.3 L607.9,160.3 L610,160.3 L612,160.3 L614,160.3 L616,160.3 L618,160.3 L620,160.3 L622.1,160.3 L624.1,160.3 L626.1,160.2 L628.1,160.2 L630.1,160.2 L632.1,160.2 L634.2,160.1 L636.2,160.1 L638.2,160.1 L640.2,160 L642.2,160 L644.2,160 L646.3,159.9 L648.3,159.9 L650.3,159.8 L652.3,159.8 L654.3,159.8 L656.3,159.7 L658.4,159.7 L660.4,159.6 L662.4,159.6 L664.4,159.5 L666.4,159.5 L668.4,159.4 L670.5,159.4 L672.5,159.3 L674.5,159.3 L676.5,159.2 L676.5,197.8 L674.5,197.9 L672.5,198 L670.4,198.1 L668.4,198.2 L666.4,198.3 L664.4,198.4 L662.4,198.5 L660.3,198.6 L658.3,198.7 L656.3,198.8 L654.3,198.9 L652.3,199 L650.2,199.1 L648.2,199.2 L646.2,199.3 L644.2,199.4 L642.2,199.5 L640.1,199.6 L638.1,199.7 L636.1,199.8 L634.1,199.9 L632.1,200 L630,200.1 L628,200.2 L626,200.3 L624,200.4 L622,200.5 L619.9,200.6 L617.9,200.7 L615.9,200.8 L613.9,200.9 L611.9,201 L609.8,201 L607.8,201.1 L605.8,201.2 L603.8,201.3 L601.7,201.4 L599.7,201.5 L597.7,201.6 L595.7,201.6 L593.7,201.7 L591.6,201.8 L589.6,201.9 L587.6,202 L585.6,202 L583.6,202.1 L581.5,202.2 L579.5,202.3 L577.5,202.3 L575.5,202.4 L573.5,202.5 L571.4,202.6 L569.4,202.6 L567.4,202.7 L565.4,202.8 L563.3,202.8 L561.3,202.9 L559.3,202.9 L557.3,203 L555.3,203.1 L553.2,203.1 L551.2,203.2 L549.2,203.2 L547.2,203.3 L545.2,203.3 L543.1,203.4 L541.1,203.4 L539.1,203.5 L537.1,203.5 L535,203.6 L533,203.6 L531,203.7 L529,203.7 L526.9,203.8 L524.9,203.8 L522.9,203.8 L520.9,203.9 L518.9,203.9 L516.8,203.9 L514.8,204 L512.8,204 L510.8,204 L508.7,204.1 L506.7,204.1 L504.7,204.1 L502.7,204.1 L500.6,204.1 L498.6,204.1 L496.6,204.2 L494.6,204.2 L492.5,204.2 L490.5,204.2 L488.5,204.2 L486.5,204.1 L484.5,204.1 L482.4,204.1 L480.4,204.1 L478.4,204.1 L476.4,204 L474.3,204 L472.3,204 L470.3,203.9 L468.3,203.9 L466.2,203.8 L464.2,203.7 L462.2,203.7 L460.2,203.6 L458.2,203.5 L456.1,203.4 L454.1,203.3 L452.1,203.2 L450.1,203.1 L448.1,203 L446,202.9 L444,202.7 L442,202.6 L440,202.4 L438,202.3 L436,202.1 L434,201.9 L431.9,201.8 L429.9,201.6 L427.9,201.4 L425.9,201.1 L423.9,200.9 L421.9,200.7 L419.9,200.5 L417.9,200.2 L415.9,199.9 L413.9,199.7 L411.9,199.4 L409.9,199.1 L407.9,198.8 L405.9,198.5 L403.9,198.2 L401.9,197.8 L399.9,197.5 L397.9,197.2 L395.9,196.8 L393.9,196.5 L391.9,196.1 L389.9,195.8 L387.9,195.4 L385.9,195.1 L383.9,194.7 L382,194.3 L380,193.9 L378,193.6 L376,193.2 L374,192.8 Z" fill="rgba(255,243,0,0.325)" stroke="none"/>
<path d="M373.9,143.1 L375.8,143.9 L377.6,144.7 L379.5,145.6 L381.3,146.4 L383.2,147.2 L385,148 L386.9,148.8 L388.7,149.6 L390.6,150.3 L392.4,151.1 L394.3,151.9 L396.2,152.6 L398.1,153.3 L400,154 L401.9,154.7 L403.8,155.4 L405.7,156 L407.6,156.7 L409.5,157.3 L411.4,157.9 L413.3,158.5 L415.3,159 L417.2,159.6 L419.2,160.1 L421.1,160.6 L423.1,161.1 L425,161.6 L427,162 L429,162.4 L430.9,162.9 L432.9,163.3 L434.9,163.7 L436.9,164.1 L438.8,164.4 L440.8,164.8 L442.8,165.1 L444.8,165.5 L446.8,165.8 L448.8,166.1 L450.8,166.4 L452.8,166.7 L454.8,167 L456.8,167.3 L458.8,167.6 L460.8,167.9 L462.8,168.1 L464.8,168.4 L466.8,168.6 L468.8,168.9 L470.8,169.1 L472.8,169.3 L474.8,169.5 L476.8,169.8 L478.9,170 L480.9,170.2 L482.9,170.3 L484.9,170.5 L486.9,170.7 L488.9,170.9 L490.9,171 L492.9,171.2 L494.9,171.4 L497,171.5 L499,171.7 L501,171.8 L503,171.9 L505,172.1 L507,172.2 L509,172.3 L511.1,172.4 L513.1,172.5 L515.1,172.6 L517.1,172.7 L519.1,172.8 L521.1,172.9 L523.1,173 L525.2,173.1 L527.2,173.2 L529.2,173.3 L531.2,173.3 L533.2,173.4 L535.2,173.5 L537.3,173.5 L539.3,173.6 L541.3,173.7 L543.3,173.7 L545.3,173.8 L547.4,173.8 L549.4,173.9 L551.4,173.9 L553.4,174 L555.4,174 L557.4,174 L559.5,174.1 L561.5,174.1 L563.5,174.1 L565.5,174.2 L567.5,174.2 L569.6,174.2 L571.6,174.2 L573.6,174.2 L575.6,174.3 L577.6,174.3 L579.6,174.3 L581.7,174.3 L583.7,174.3 L585.7,174.3 L587.7,174.3 L589.7,174.3 L591.7,174.3 L593.8,174.3 L595.8,174.3 L597.8,174.3 L599.8,174.3 L601.8,174.3 L603.9,174.2 L605.9,174.2 L607.9,174.2 L609.9,174.2 L611.9,174.2 L613.9,174.2 L616,174.1 L618,174.1 L620,174.1 L622,174.1 L624,174 L626.1,174 L628.1,174 L630.1,173.9 L632.1,173.9 L634.1,173.9 L636.1,173.8 L638.2,173.8 L640.2,173.8 L642.2,173.7 L644.2,173.7 L646.2,173.7 L648.3,173.6 L650.3,173.6 L652.3,173.5 L654.3,173.5 L656.3,173.4 L658.3,173.4 L660.4,173.4 L662.4,173.3 L664.4,173.3 L666.4,173.2 L668.4,173.2 L670.4,173.1 L672.5,173.1 L674.5,173.1 L676.5,173 L676.5,192.3 L674.5,192.4 L672.5,192.5 L670.4,192.6 L668.4,192.6 L666.4,192.7 L664.4,192.8 L662.3,192.9 L660.3,193 L658.3,193 L656.3,193.1 L654.2,193.2 L652.2,193.3 L650.2,193.4 L648.2,193.5 L646.1,193.5 L644.1,193.6 L642.1,193.7 L640.1,193.8 L638.1,193.8 L636,193.9 L634,194 L632,194.1 L630,194.1 L627.9,194.2 L625.9,194.3 L623.9,194.3 L621.9,194.4 L619.8,194.5 L617.8,194.6 L615.8,194.6 L613.8,194.7 L611.7,194.7 L609.7,194.8 L607.7,194.9 L605.7,194.9 L603.6,195 L601.6,195 L599.6,195.1 L597.6,195.2 L595.6,195.2 L593.5,195.3 L591.5,195.3 L589.5,195.4 L587.5,195.4 L585.4,195.5 L583.4,195.5 L581.4,195.5 L579.4,195.6 L577.3,195.6 L575.3,195.7 L573.3,195.7 L571.3,195.7 L569.2,195.7 L567.2,195.8 L565.2,195.8 L563.2,195.8 L561.1,195.8 L559.1,195.9 L557.1,195.9 L555.1,195.9 L553,195.9 L551,195.9 L549,195.9 L547,195.9 L544.9,195.9 L542.9,195.9 L540.9,195.9 L538.9,195.9 L536.8,195.9 L534.8,195.9 L532.8,195.9 L530.8,195.9 L528.7,195.8 L526.7,195.8 L524.7,195.8 L522.7,195.8 L520.6,195.7 L518.6,195.7 L516.6,195.7 L514.6,195.6 L512.5,195.6 L510.5,195.5 L508.5,195.5 L506.5,195.4 L504.4,195.4 L502.4,195.3 L500.4,195.2 L498.4,195.2 L496.3,195.1 L494.3,195 L492.3,195 L490.3,194.9 L488.2,194.8 L486.2,194.8 L484.2,194.7 L482.2,194.6 L480.1,194.5 L478.1,194.4 L476.1,194.4 L474.1,194.3 L472,194.2 L470,194.1 L468,194 L466,194 L464,193.9 L461.9,193.8 L459.9,193.7 L457.9,193.6 L455.9,193.5 L453.8,193.4 L451.8,193.3 L449.8,193.2 L447.8,193.1 L445.7,192.9 L443.7,192.8 L441.7,192.6 L439.7,192.5 L437.7,192.3 L435.7,192.1 L433.6,191.9 L431.6,191.7 L429.6,191.5 L427.6,191.2 L425.6,191 L423.6,190.7 L421.6,190.5 L419.6,190.2 L417.6,189.9 L415.6,189.6 L413.6,189.3 L411.6,188.9 L409.6,188.6 L407.6,188.2 L405.6,187.8 L403.6,187.4 L401.7,187 L399.7,186.6 L397.7,186.2 L395.7,185.8 L393.7,185.4 L391.8,184.9 L389.8,184.5 L387.8,184.1 L385.8,183.6 L383.9,183.2 L381.9,182.7 L379.9,182.2 L377.9,181.8 L376,181.3 L374,180.9 Z" fill="rgba(0,255,0,0.2)" stroke="none"/>
<path d="M373.9,109.2 L375.6,110.4 L377.3,111.5 L378.9,112.7 L380.6,113.8 L382.3,114.9 L383.9,116.1 L385.6,117.2 L387.3,118.3 L389,119.4 L390.6,120.5 L392.3,121.6 L394.1,122.7 L395.8,123.8 L397.5,124.8 L399.2,125.8 L401,126.8 L402.7,127.8 L404.5,128.8 L406.3,129.7 L408,130.7 L409.8,131.6 L411.6,132.5 L413.4,133.3 L415.3,134.2 L417.1,135 L418.9,135.8 L420.8,136.6 L422.7,137.3 L424.5,138 L426.4,138.8 L428.3,139.4 L430.2,140.1 L432.1,140.8 L434,141.4 L436,142 L437.9,142.6 L439.8,143.2 L441.8,143.7 L443.7,144.3 L445.7,144.8 L447.6,145.3 L449.6,145.8 L451.5,146.3 L453.5,146.8 L455.5,147.3 L457.4,147.7 L459.4,148.2 L461.4,148.6 L463.3,149 L465.3,149.5 L467.3,149.8 L469.3,150.2 L471.3,150.6 L473.3,151 L475.2,151.3 L477.2,151.7 L479.2,152 L481.2,152.3 L483.2,152.6 L485.2,152.9 L487.2,153.2 L489.2,153.5 L491.2,153.8 L493.2,154 L495.2,154.3 L497.2,154.5 L499.2,154.8 L501.2,155 L503.2,155.2 L505.2,155.4 L507.2,155.6 L509.2,155.8 L511.2,156 L513.2,156.2 L515.3,156.4 L517.3,156.6 L519.3,156.7 L521.3,156.9 L523.3,157.1 L525.3,157.2 L527.3,157.4 L529.3,157.5 L531.3,157.6 L533.4,157.8 L535.4,157.9 L537.4,158 L539.4,158.1 L541.4,158.3 L543.4,158.4 L545.4,158.5 L547.5,158.6 L549.5,158.7 L551.5,158.8 L553.5,158.9 L555.5,159 L557.5,159.1 L559.5,159.2 L561.6,159.3 L563.6,159.4 L565.6,159.5 L567.6,159.5 L569.6,159.6 L571.6,159.7 L573.7,159.7 L575.7,159.8 L577.7,159.9 L579.7,159.9 L581.7,160 L583.7,160 L585.8,160.1 L587.8,160.1 L589.8,160.2 L591.8,160.2 L593.8,160.2 L595.8,160.2 L597.9,160.3 L599.9,160.3 L601.9,160.3 L603.9,160.3 L605.9,160.3 L607.9,160.3 L610,160.3 L612,160.3 L614,160.3 L616,160.3 L618,160.3 L620,160.3 L622.1,160.3 L624.1,160.3 L626.1,160.2 L628.1,160.2 L630.1,160.2 L632.1,160.2 L634.2,160.1 L636.2,160.1 L638.2,160.1 L640.2,160 L642.2,160 L644.2,160 L646.3,159.9 L648.3,159.9 L650.3,159.8 L652.3,159.8 L654.3,159.8 L656.3,159.7 L658.4,159.7 L660.4,159.6 L662.4,159.6 L664.4,159.5 L666.4,159.5 L668.4,159.4 L670.5,159.4 L672.5,159.3 L674.5,159.3 L676.5,159.2" fill="none" stroke="#ffee00" stroke-width="1.8" stroke-linejoin="round"/>
<path d="M374,192.8 L376,193.2 L378,193.6 L380,193.9 L382,194.3 L383.9,194.7 L385.9,195.1 L387.9,195.4 L389.9,195.8 L391.9,196.1 L393.9,196.5 L395.9,196.8 L397.9,197.2 L399.9,197.5 L401.9,197.8 L403.9,198.2 L405.9,198.5 L407.9,198.8 L409.9,199.1 L411.9,199.4 L413.9,199.7 L415.9,199.9 L417.9,200.2 L419.9,200.5 L421.9,200.7 L423.9,200.9 L425.9,201.1 L427.9,201.4 L429.9,201.6 L431.9,201.8 L434,201.9 L436,202.1 L438,202.3 L440,202.4 L442,202.6 L444,202.7 L446,202.9 L448.1,203 L450.1,203.1 L452.1,203.2 L454.1,203.3 L456.1,203.4 L458.2,203.5 L460.2,203.6 L462.2,203.7 L464.2,203.7 L466.2,203.8 L468.3,203.9 L470.3,203.9 L472.3,204 L474.3,204 L476.4,204 L478.4,204.1 L480.4,204.1 L482.4,204.1 L484.5,204.1 L486.5,204.1 L488.5,204.2 L490.5,204.2 L492.5,204.2 L494.6,204.2 L496.6,204.2 L498.6,204.1 L500.6,204.1 L502.7,204.1 L504.7,204.1 L506.7,204.1 L508.7,204.1 L510.8,204 L512.8,204 L514.8,204 L516.8,203.9 L518.9,203.9 L520.9,203.9 L522.9,203.8 L524.9,203.8 L526.9,203.8 L529,203.7 L531,203.7 L533,203.6 L535,203.6 L537.1,203.5 L539.1,203.5 L541.1,203.4 L543.1,203.4 L545.2,203.3 L547.2,203.3 L549.2,203.2 L551.2,203.2 L553.2,203.1 L555.3,203.1 L557.3,203 L559.3,202.9 L561.3,202.9 L563.3,202.8 L565.4,202.8 L567.4,202.7 L569.4,202.6 L571.4,202.6 L573.5,202.5 L575.5,202.4 L577.5,202.3 L579.5,202.3 L581.5,202.2 L583.6,202.1 L585.6,202 L587.6,202 L589.6,201.9 L591.6,201.8 L593.7,201.7 L595.7,201.6 L597.7,201.6 L599.7,201.5 L601.7,201.4 L603.8,201.3 L605.8,201.2 L607.8,201.1 L609.8,201 L611.9,201 L613.9,200.9 L615.9,200.8 L617.9,200.7 L619.9,200.6 L622,200.5 L624,200.4 L626,200.3 L628,200.2 L630,200.1 L632.1,200 L634.1,199.9 L636.1,199.8 L638.1,199.7 L640.1,199.6 L642.2,199.5 L644.2,199.4 L646.2,199.3 L648.2,199.2 L650.2,199.1 L652.3,199 L654.3,198.9 L656.3,198.8 L658.3,198.7 L660.3,198.6 L662.4,198.5 L664.4,198.4 L666.4,198.3 L668.4,198.2 L670.4,198.1 L672.5,198 L674.5,197.9 L676.5,197.8" fill="none" stroke="#ffee00" stroke-width="1.8" stroke-linejoin="round"/>
<path d="M373.9,143.1 L375.8,143.9 L377.6,144.7 L379.5,145.6 L381.3,146.4 L383.2,147.2 L385,148 L386.9,148.8 L388.7,149.6 L390.6,150.3 L392.4,151.1 L394.3,151.9 L396.2,152.6 L398.1,153.3 L400,154 L401.9,154.7 L403.8,155.4 L405.7,156 L407.6,156.7 L409.5,157.3 L411.4,157.9 L413.3,158.5 L415.3,159 L417.2,159.6 L419.2,160.1 L421.1,160.6 L423.1,161.1 L425,161.6 L427,162 L429,162.4 L430.9,162.9 L432.9,163.3 L434.9,163.7 L436.9,164.1 L438.8,164.4 L440.8,164.8 L442.8,165.1 L444.8,165.5 L446.8,165.8 L448.8,166.1 L450.8,166.4 L452.8,166.7 L454.8,167 L456.8,167.3 L458.8,167.6 L460.8,167.9 L462.8,168.1 L464.8,168.4 L466.8,168.6 L468.8,168.9 L470.8,169.1 L472.8,169.3 L474.8,169.5 L476.8,169.8 L478.9,170 L480.9,170.2 L482.9,170.3 L484.9,170.5 L486.9,170.7 L488.9,170.9 L490.9,171 L492.9,171.2 L494.9,171.4 L497,171.5 L499,171.7 L501,171.8 L503,171.9 L505,172.1 L507,172.2 L509,172.3 L511.1,172.4 L513.1,172.5 L515.1,172.6 L517.1,172.7 L519.1,172.8 L521.1,172.9 L523.1,173 L525.2,173.1 L527.2,173.2 L529.2,173.3 L531.2,173.3 L533.2,173.4 L535.2,173.5 L537.3,173.5 L539.3,173.6 L541.3,173.7 L543.3,173.7 L545.3,173.8 L547.4,173.8 L549.4,173.9 L551.4,173.9 L553.4,174 L555.4,174 L557.4,174 L559.5,174.1 L561.5,174.1 L563.5,174.1 L565.5,174.2 L567.5,174.2 L569.6,174.2 L571.6,174.2 L573.6,174.2 L575.6,174.3 L577.6,174.3 L579.6,174.3 L581.7,174.3 L583.7,174.3 L585.7,174.3 L587.7,174.3 L589.7,174.3 L591.7,174.3 L593.8,174.3 L595.8,174.3 L597.8,174.3 L599.8,174.3 L601.8,174.3 L603.9,174.2 L605.9,174.2 L607.9,174.2 L609.9,174.2 L611.9,174.2 L613.9,174.2 L616,174.1 L618,174.1 L620,174.1 L622,174.1 L624,174 L626.1,174 L628.1,174 L630.1,173.9 L632.1,173.9 L634.1,173.9 L636.1,173.8 L638.2,173.8 L640.2,173.8 L642.2,173.7 L644.2,173.7 L646.2,173.7 L648.3,173.6 L650.3,173.6 L652.3,173.5 L654.3,173.5 L656.3,173.4 L658.3,173.4 L660.4,173.4 L662.4,173.3 L664.4,173.3 L666.4,173.2 L668.4,173.2 L670.4,173.1 L672.5,173.1 L674.5,173.1 L676.5,173" fill="none" stroke="#33ee00" stroke-width="1.8" stroke-linejoin="round"/>
<path d="M374,180.9 L376,181.3 L377.9,181.8 L379.9,182.2 L381.9,182.7 L383.9,183.2 L385.8,183.6 L387.8,184.1 L389.8,184.5 L391.8,184.9 L393.7,185.4 L395.7,185.8 L397.7,186.2 L399.7,186.6 L401.7,187 L403.6,187.4 L405.6,187.8 L407.6,188.2 L409.6,188.6 L411.6,188.9 L413.6,189.3 L415.6,189.6 L417.6,189.9 L419.6,190.2 L421.6,190.5 L423.6,190.7 L425.6,191 L427.6,191.2 L429.6,191.5 L431.6,191.7 L433.6,191.9 L435.7,192.1 L437.7,192.3 L439.7,192.5 L441.7,192.6 L443.7,192.8 L445.7,192.9 L447.8,193.1 L449.8,193.2 L451.8,193.3 L453.8,193.4 L455.9,193.5 L457.9,193.6 L459.9,193.7 L461.9,193.8 L464,193.9 L466,194 L468,194 L470,194.1 L472,194.2 L474.1,194.3 L476.1,194.4 L478.1,194.4 L480.1,194.5 L482.2,194.6 L484.2,194.7 L486.2,194.8 L488.2,194.8 L490.3,194.9 L492.3,195 L494.3,195 L496.3,195.1 L498.4,195.2 L500.4,195.2 L502.4,195.3 L504.4,195.4 L506.5,195.4 L508.5,195.5 L510.5,195.5 L512.5,195.6 L514.6,195.6 L516.6,195.7 L518.6,195.7 L520.6,195.7 L522.7,195.8 L524.7,195.8 L526.7,195.8 L528.7,195.8 L530.8,195.9 L532.8,195.9 L534.8,195.9 L536.8,195.9 L538.9,195.9 L540.9,195.9 L542.9,195.9 L544.9,195.9 L547,195.9 L549,195.9 L551,195.9 L553,195.9 L555.1,195.9 L557.1,195.9 L559.1,195.9 L561.1,195.8 L563.2,195.8 L565.2,195.8 L567.2,195.8 L569.2,195.7 L571.3,195.7 L573.3,195.7 L575.3,195.7 L577.3,195.6 L579.4,195.6 L581.4,195.5 L583.4,195.5 L585.4,195.5 L587.5,195.4 L589.5,195.4 L591.5,195.3 L593.5,195.3 L595.6,195.2 L597.6,195.2 L599.6,195.1 L601.6,195 L603.6,195 L605.7,194.9 L607.7,194.9 L609.7,194.8 L611.7,194.7 L613.8,194.7 L615.8,194.6 L617.8,194.6 L619.8,194.5 L621.9,194.4 L623.9,194.3 L625.9,194.3 L627.9,194.2 L630,194.1 L632,194.1 L634,194 L636,193.9 L638.1,193.8 L640.1,193.8 L642.1,193.7 L644.1,193.6 L646.1,193.5 L648.2,193.5 L650.2,193.4 L652.2,193.3 L654.2,193.2 L656.3,193.1 L658.3,193 L660.3,193 L662.3,192.9 L664.4,192.8 L666.4,192.7 L668.4,192.6 L670.4,192.6 L672.5,192.5 L674.5,192.4 L676.5,192.3" fill="none" stroke="#33ee00" stroke-width="1.8" stroke-linejoin="round"/>
<path d="M374,223.1 L376,222.8 L378,222.5 L380,222.3 L382,222 L384,221.7 L386,221.5 L388.1,221.2 L390.1,220.9 L392.1,220.7 L394.1,220.4 L396.1,220.2 L398.1,219.9 L400.1,219.6 L402.1,219.4 L404.1,219.1 L406.1,218.9 L408.1,218.6 L410.1,218.4 L412.2,218.1 L414.2,217.9 L416.2,217.6 L418.2,217.4 L420.2,217.1 L422.2,216.9 L424.2,216.7 L426.2,216.5 L428.2,216.2 L430.3,216 L432.3,215.8 L434.3,215.6 L436.3,215.4 L438.3,215.2 L440.3,215 L442.3,214.8 L444.4,214.6 L446.4,214.4 L448.4,214.2 L450.4,214 L452.4,213.8 L454.4,213.6 L456.5,213.4 L458.5,213.3 L460.5,213.1 L462.5,212.9 L464.5,212.7 L466.5,212.6 L468.6,212.4 L470.6,212.2 L472.6,212.1 L474.6,211.9 L476.6,211.7 L478.7,211.6 L480.7,211.4 L482.7,211.2 L484.7,211.1 L486.7,210.9 L488.7,210.8 L490.8,210.6 L492.8,210.4 L494.8,210.3 L496.8,210.1 L498.8,210 L500.9,209.8 L502.9,209.7 L504.9,209.5 L506.9,209.4 L508.9,209.2 L511,209 L513,208.9 L515,208.7 L517,208.6 L519,208.4 L521.1,208.3 L523.1,208.1 L525.1,208 L527.1,207.8 L529.1,207.7 L531.2,207.5 L533.2,207.4 L535.2,207.2 L537.2,207.1 L539.2,206.9 L541.2,206.8 L543.3,206.6 L545.3,206.5 L547.3,206.3 L549.3,206.2 L551.3,206 L553.4,205.9 L555.4,205.7 L557.4,205.6 L559.4,205.4 L561.4,205.2 L563.5,205.1 L565.5,204.9 L567.5,204.8 L569.5,204.6 L571.5,204.5 L573.6,204.3 L575.6,204.2 L577.6,204 L579.6,203.9 L581.6,203.7 L583.7,203.5 L585.7,203.4 L587.7,203.2 L589.7,203.1 L591.7,202.9 L593.7,202.8 L595.8,202.6 L597.8,202.4 L599.8,202.3 L601.8,202.1 L603.8,202 L605.9,201.8 L607.9,201.6 L609.9,201.5 L611.9,201.3 L613.9,201.1 L616,201 L618,200.8 L620,200.7 L622,200.5 L624,200.3 L626,200.2 L628.1,200 L630.1,199.8 L632.1,199.7 L634.1,199.5 L636.1,199.3 L638.2,199.2 L640.2,199 L642.2,198.8 L644.2,198.7 L646.2,198.5 L648.2,198.3 L650.3,198.2 L652.3,198 L654.3,197.8 L656.3,197.7 L658.3,197.5 L660.4,197.3 L662.4,197.2 L664.4,197 L666.4,196.8 L668.4,196.7 L670.4,196.5 L672.5,196.3 L674.5,196.2 L676.5,196" fill="none" stroke="#1010f5" stroke-width="1.8" stroke-linejoin="round"/>
<path d="M374,143.9 L376,143.4 L377.9,143 L379.9,142.6 L381.9,142.2 L383.9,141.7 L385.8,141.3 L387.8,140.9 L389.8,140.5 L391.8,140.1 L393.8,139.7 L395.7,139.3 L397.7,138.9 L399.7,138.5 L401.7,138.1 L403.7,137.7 L405.6,137.3 L407.6,137 L409.6,136.6 L411.6,136.2 L413.6,135.9 L415.6,135.5 L417.6,135.2 L419.6,134.9 L421.6,134.6 L423.6,134.3 L425.6,134 L427.6,133.7 L429.5,133.4 L431.5,133.1 L433.5,132.8 L435.5,132.5 L437.5,132.3 L439.6,132 L441.6,131.7 L443.6,131.5 L445.6,131.2 L447.6,131 L449.6,130.7 L451.6,130.4 L453.6,130.2 L455.6,129.9 L457.6,129.7 L459.6,129.4 L461.6,129.2 L463.6,128.9 L465.6,128.6 L467.6,128.4 L469.6,128.1 L471.6,127.8 L473.6,127.6 L475.6,127.3 L477.6,127 L479.6,126.7 L481.6,126.4 L483.6,126.1 L485.6,125.8 L487.6,125.5 L489.6,125.3 L491.6,125 L493.6,124.7 L495.6,124.4 L497.6,124.1 L499.6,123.9 L501.6,123.6 L503.6,123.4 L505.6,123.1 L507.6,122.8 L509.6,122.6 L511.6,122.4 L513.6,122.1 L515.6,121.9 L517.6,121.6 L519.6,121.4 L521.6,121.2 L523.7,121 L525.7,120.7 L527.7,120.5 L529.7,120.3 L531.7,120.1 L533.7,119.9 L535.7,119.6 L537.7,119.4 L539.7,119.2 L541.7,119 L543.7,118.8 L545.7,118.6 L547.8,118.4 L549.8,118.2 L551.8,118 L553.8,117.8 L555.8,117.6 L557.8,117.4 L559.8,117.2 L561.8,117 L563.8,116.8 L565.8,116.6 L567.9,116.4 L569.9,116.1 L571.9,115.9 L573.9,115.7 L575.9,115.5 L577.9,115.3 L579.9,115.1 L581.9,114.9 L583.9,114.7 L585.9,114.5 L587.9,114.3 L590,114.1 L592,113.9 L594,113.7 L596,113.5 L598,113.3 L600,113.1 L602,112.9 L604,112.7 L606,112.5 L608,112.3 L610.1,112.1 L612.1,111.9 L614.1,111.7 L616.1,111.5 L618.1,111.3 L620.1,111.2 L622.1,111 L624.1,110.8 L626.2,110.6 L628.2,110.5 L630.2,110.3 L632.2,110.1 L634.2,110 L636.2,109.8 L638.2,109.6 L640.2,109.5 L642.3,109.3 L644.3,109.1 L646.3,109 L648.3,108.8 L650.3,108.7 L652.3,108.5 L654.3,108.4 L656.4,108.2 L658.4,108 L660.4,107.9 L662.4,107.7 L664.4,107.6 L666.4,107.4 L668.4,107.3 L670.5,107.1 L672.5,107 L674.5,106.8 L676.5,106.7" fill="none" stroke="#1010f5" stroke-width="1.8" stroke-linejoin="round"/>
<path d="M420.3,15 L420.9,16.9 L421.5,18.8 L422.1,20.8 L422.7,22.7 L423.4,24.6 L424,26.5 L424.6,28.4 L425.2,30.3 L425.9,32.2 L426.5,34.1 L427.1,36.1 L427.7,38 L428.4,39.9 L429,41.8 L429.6,43.7 L430.3,45.6 L430.9,47.5 L431.5,49.4 L432.2,51.3 L432.8,53.2 L433.5,55.1 L434.1,57 L434.8,58.9 L435.4,60.9 L436.1,62.8 L436.7,64.7 L437.4,66.6 L438.1,68.5 L438.7,70.3 L439.4,72.2 L440.1,74.1 L440.8,76 L441.5,77.9 L442.2,79.8 L442.9,81.7 L443.6,83.6 L444.3,85.5 L445,87.4 L445.7,89.2 L446.4,91.1 L447.2,93 L447.9,94.9 L448.7,96.7 L449.4,98.6 L450.2,100.5 L450.9,102.3 L451.7,104.2 L452.5,106 L453.3,107.9 L454,109.7 L454.8,111.6 L455.7,113.4 L456.5,115.3 L457.3,117.1 L458.1,118.9 L459,120.7 L459.8,122.6 L460.7,124.4 L461.5,126.2 L462.4,128 L463.3,129.8 L464.2,131.6 L465.1,133.4 L466,135.2 L467,137 L467.9,138.8 L468.8,140.5 L469.8,142.3 L470.7,144.1 L471.7,145.9 L472.7,147.6 L473.6,149.4 L474.6,151.1 L475.6,152.9 L476.6,154.7 L477.6,156.4 L478.6,158.1 L479.6,159.9 L480.6,161.6 L481.6,163.4 L482.7,165.1 L483.7,166.8 L484.7,168.5 L485.8,170.3 L486.8,172 L487.9,173.7 L489,175.4 L490,177.1 L491.1,178.8 L492.2,180.5 L493.3,182.2 L494.4,183.8 L495.6,185.5 L496.7,187.2 L497.9,188.8 L499,190.5 L500.2,192.1 L501.4,193.7 L502.6,195.3 L503.8,196.9 L505,198.5 L506.3,200.1 L507.5,201.7 L508.8,203.2 L510.1,204.8 L511.4,206.3 L512.7,207.8 L514,209.4 L515.4,210.9 L516.7,212.3 L518.1,213.8 L519.5,215.3 L520.9,216.7 L522.3,218.1 L523.8,219.5 L525.2,220.9 L526.7,222.3 L528.2,223.7 L529.7,225 L531.2,226.3 L532.7,227.6 L534.3,228.9 L535.9,230.2 L537.4,231.4 L539,232.6 L540.6,233.9 L542.3,235 L543.9,236.2 L545.6,237.3 L547.2,238.5 L548.9,239.6 L550.6,240.6 L552.3,241.7 L554.1,242.7 L555.8,243.7 L557.6,244.7 L559.3,245.6 L561.1,246.6 L562.9,247.5 L564.7,248.4 L566.5,249.2 L568.3,250.1 L570.2,250.9 L572,251.7 L573.9,252.5 L575.8,253.2 L577.6,253.9 L579.5,254.6 L581.4,255.3 L583.3,256 L585.2,256.6 L587.1,257.2 L589.1,257.8 L591,258.4 L592.9,259 L594.9,259.5 L596.8,260 L598.7,260.5 L600.7,261 L602.7,261.4 L604.6,261.9 L606.6,262.3 L608.6,262.7 L610.5,263.1 L612.5,263.5 L614.5,263.9 L616.5,264.3 L618.5,264.6 L620.4,264.9 L622.4,265.3 L624.4,265.6 L626.4,265.9 L628.4,266.2 L630.4,266.4 L632.4,266.7 L634.4,267 L636.4,267.2 L638.4,267.5 L640.4,267.7 L642.4,267.9 L644.4,268.2 L646.4,268.4 L648.4,268.6 L650.4,268.8 L652.4,269 L654.4,269.2 L656.4,269.4 L658.4,269.6 L660.4,269.7 L662.4,269.9 L664.4,270.1 L666.4,270.3 L668.4,270.4 L670.5,270.6 L672.5,270.8 L674.5,270.9 L676.5,271.1" fill="none" stroke="#ff0a0a" stroke-width="1.8" stroke-linejoin="round"/>
<path d="M450.7,15 L451.4,16.9 L452,18.9 L452.6,20.8 L453.2,22.7 L453.8,24.7 L454.4,26.6 L455.1,28.5 L455.7,30.4 L456.3,32.4 L456.9,34.3 L457.6,36.2 L458.2,38.1 L458.8,40 L459.5,42 L460.1,43.9 L460.7,45.8 L461.4,47.7 L462,49.6 L462.7,51.5 L463.3,53.5 L464,55.4 L464.6,57.3 L465.3,59.2 L466,61.1 L466.7,63 L467.4,64.9 L468,66.8 L468.7,68.7 L469.4,70.6 L470.1,72.5 L470.9,74.4 L471.6,76.3 L472.3,78.1 L473,80 L473.8,81.9 L474.5,83.8 L475.3,85.7 L476,87.5 L476.8,89.4 L477.5,91.3 L478.3,93.1 L479.1,95 L479.9,96.9 L480.7,98.7 L481.5,100.6 L482.3,102.4 L483.1,104.3 L483.9,106.1 L484.7,108 L485.6,109.8 L486.4,111.7 L487.2,113.5 L488.1,115.4 L488.9,117.2 L489.8,119 L490.6,120.9 L491.5,122.7 L492.4,124.5 L493.2,126.3 L494.1,128.2 L495,130 L495.8,131.8 L496.7,133.6 L497.6,135.4 L498.5,137.3 L499.4,139.1 L500.3,140.9 L501.3,142.7 L502.2,144.4 L503.1,146.2 L504.1,148 L505.1,149.8 L506.1,151.5 L507.1,153.3 L508.1,155 L509.2,156.7 L510.2,158.4 L511.3,160.1 L512.4,161.8 L513.5,163.5 L514.6,165.2 L515.7,166.9 L516.9,168.6 L518,170.2 L519.2,171.9 L520.3,173.5 L521.5,175.2 L522.7,176.8 L523.9,178.5 L525,180.1 L526.2,181.7 L527.5,183.4 L528.7,185 L529.9,186.6 L531.1,188.2 L532.4,189.8 L533.7,191.4 L534.9,192.9 L536.2,194.5 L537.5,196.1 L538.8,197.6 L540.1,199.2 L541.4,200.7 L542.8,202.2 L544.1,203.7 L545.5,205.2 L546.8,206.7 L548.2,208.2 L549.6,209.7 L551,211.2 L552.4,212.6 L553.8,214 L555.3,215.5 L556.7,216.9 L558.2,218.3 L559.7,219.7 L561.1,221 L562.6,222.4 L564.2,223.7 L565.7,225 L567.2,226.3 L568.8,227.6 L570.4,228.8 L572,230.1 L573.6,231.3 L575.3,232.4 L576.9,233.6 L578.6,234.7 L580.3,235.8 L582,236.8 L583.7,237.9 L585.5,238.9 L587.2,239.9 L589,240.8 L590.8,241.8 L592.6,242.7 L594.4,243.5 L596.2,244.4 L598.1,245.2 L599.9,246 L601.8,246.8 L603.6,247.6 L605.5,248.3 L607.4,249.1 L609.3,249.7 L611.2,250.4 L613.1,251.1 L615,251.7 L617,252.3 L618.9,252.9 L620.8,253.5 L622.8,254.1 L624.7,254.6 L626.7,255.1 L628.6,255.7 L630.6,256.1 L632.6,256.6 L634.5,257.1 L636.5,257.5 L638.5,258 L640.4,258.4 L642.4,258.8 L644.4,259.2 L646.4,259.6 L648.4,260 L650.4,260.4 L652.4,260.8 L654.4,261.1 L656.4,261.5 L658.4,261.8 L660.4,262.2 L662.4,262.5 L664.4,262.8 L666.4,263.2 L668.4,263.5 L670.4,263.8 L672.4,264.1 L674.4,264.4 L676.5,264.8" fill="none" stroke="#ff0a0a" stroke-width="1.8" stroke-linejoin="round"/>
<path d="M375.6,242.6 L377.4,241.8 L379.3,241 L381.1,240.1 L383,239.3 L384.8,238.5 L386.6,237.7 L388.5,236.8 L390.3,236 L392.1,235.2 L394,234.4 L395.8,233.5 L397.7,232.7 L399.5,231.9 L401.3,231.1 L403.2,230.2 L405,229.4 L406.8,228.6 L408.7,227.7 L410.5,226.9 L412.3,226.1 L414.2,225.2 L416,224.4 L417.8,223.5 L419.7,222.7 L421.5,221.8 L423.3,221 L425.1,220.2 L427,219.3 L428.8,218.5 L430.6,217.6 L432.4,216.8 L434.3,215.9 L436.1,215 L437.9,214.2 L439.7,213.3 L441.6,212.5 L443.4,211.6 L445.2,210.7 L447,209.8 L448.8,209 L450.6,208.1 L452.4,207.2 L454.3,206.3 L456.1,205.4 L457.9,204.5 L459.7,203.7 L461.5,202.8 L463.3,201.9 L465.1,201 L466.9,200 L468.7,199.1 L470.5,198.2 L472.3,197.3 L474,196.4 L475.8,195.4 L477.6,194.5 L479.4,193.6 L481.2,192.6 L483,191.7 L484.7,190.8 L486.5,189.8 L488.3,188.9 L490.1,187.9 L491.8,186.9 L493.6,186 L495.4,185 L497.1,184 L498.9,183.1 L500.7,182.1 L502.4,181.1 L504.2,180.1 L505.9,179.1 L507.7,178.2 L509.5,177.2 L511.2,176.2 L512.9,175.2 L514.7,174.2 L516.4,173.1 L518.2,172.1 L519.9,171.1 L521.7,170.1 L523.4,169.1 L525.1,168.1 L526.9,167 L528.6,166 L530.3,165 L532,163.9 L533.8,162.9 L535.5,161.8 L537.2,160.8 L538.9,159.7 L540.6,158.7 L542.4,157.6 L544.1,156.6 L545.8,155.5 L547.5,154.5 L549.2,153.4 L550.9,152.3 L552.6,151.3 L554.3,150.2 L556.1,149.1 L557.8,148.1 L559.5,147 L561.2,145.9 L562.9,144.9 L564.6,143.8 L566.3,142.7 L568,141.6 L569.7,140.6 L571.4,139.5 L573.1,138.4 L574.8,137.3 L576.5,136.3 L578.2,135.2 L579.9,134.1 L581.6,133 L583.3,131.9 L585,130.9 L586.7,129.8 L588.4,128.7 L590.1,127.6 L591.8,126.5 L593.5,125.4 L595.2,124.4 L596.9,123.3 L598.6,122.2 L600.3,121.1 L602,120 L603.7,118.9 L605.3,117.8 L607,116.7 L608.7,115.6 L610.4,114.5 L612.1,113.3 L613.8,112.2 L615.4,111.1 L617.1,110 L618.8,108.9 L620.4,107.7 L622.1,106.6 L623.8,105.5 L625.4,104.4 L627.1,103.2 L628.8,102.1 L630.4,100.9 L632.1,99.8 L633.7,98.7 L635.4,97.5 L637.1,96.4 L638.7,95.2 L640.4,94.1 L642,92.9 L643.7,91.8 L645.3,90.6 L647,89.4 L648.6,88.3 L650.3,87.1 L651.9,86 L653.5,84.8 L655.2,83.6 L656.8,82.5 L658.5,81.3 L660.1,80.1 L661.8,79 L663.4,77.8 L665,76.6 L666.7,75.4 L668.3,74.3 L670,73.1 L671.6,71.9 L673.2,70.8 L674.9,69.6 L676.5,68.4" fill="none" stroke="#111111" stroke-width="2.0" stroke-linejoin="round" stroke-dasharray="5.2 1.6 1.3 1.6" stroke-dashoffset="0"/>
<path d="M375.5,161.5 L377.1,160.2 L378.7,158.9 L380.2,157.7 L381.8,156.4 L383.4,155.1 L385,153.8 L386.5,152.6 L388.1,151.3 L389.7,150 L391.3,148.7 L392.8,147.4 L394.4,146.1 L396,144.9 L397.5,143.6 L399.1,142.3 L400.6,141 L402.2,139.7 L403.7,138.3 L405.3,137 L406.8,135.7 L408.4,134.4 L409.9,133.1 L411.4,131.7 L413,130.4 L414.5,129.1 L416,127.7 L417.6,126.4 L419.1,125.1 L420.6,123.7 L422.1,122.4 L423.7,121 L425.2,119.7 L426.7,118.3 L428.2,117 L429.7,115.6 L431.3,114.3 L432.8,112.9 L434.3,111.6 L435.8,110.2 L437.3,108.9 L438.8,107.5 L440.3,106.2 L441.8,104.8 L443.3,103.4 L444.8,102.1 L446.3,100.7 L447.8,99.3 L449.3,97.9 L450.8,96.5 L452.2,95.1 L453.7,93.7 L455.2,92.3 L456.6,90.9 L458,89.5 L459.5,88 L460.9,86.6 L462.3,85.1 L463.7,83.7 L465.1,82.2 L466.5,80.8 L467.9,79.3 L469.3,77.8 L470.7,76.3 L472.1,74.8 L473.5,73.3 L474.9,71.9 L476.2,70.4 L477.6,68.9 L479,67.4 L480.4,65.9 L481.7,64.4 L483.1,62.9 L484.5,61.4 L485.9,59.9 L487.3,58.4 L488.6,56.9 L490,55.4 L491.4,54 L492.7,52.5 L494.1,51 L495.5,49.5 L496.9,48 L498.2,46.5 L499.6,45 L501,43.5 L502.3,42 L503.7,40.5 L505.1,39 L506.5,37.5 L507.8,36 L509.2,34.5 L510.6,33 L511.9,31.5 L513.3,30 L514.7,28.5 L516,27 L517.4,25.5 L518.8,24 L520.2,22.5 L521.5,21 L522.9,19.5 L524.3,18 L525.6,16.5 L527,15" fill="none" stroke="#111111" stroke-width="2.0" stroke-linejoin="round" stroke-dasharray="9.6 9.1" stroke-dashoffset="11.1"/>
<path d="M375.6,286.2 L377.6,285.7 L379.5,285.2 L381.5,284.7 L383.5,284.2 L385.4,283.7 L387.4,283.2 L389.4,282.7 L391.3,282.3 L393.3,281.8 L395.2,281.3 L397.2,280.8 L399.2,280.3 L401.1,279.8 L403.1,279.2 L405,278.7 L407,278.2 L408.9,277.7 L410.9,277.2 L412.8,276.6 L414.8,276.1 L416.7,275.6 L418.7,275 L420.6,274.5 L422.6,273.9 L424.5,273.3 L426.4,272.8 L428.4,272.2 L430.3,271.6 L432.3,271.1 L434.2,270.5 L436.1,269.9 L438.1,269.3 L440,268.8 L442,268.2 L443.9,267.6 L445.8,267.1 L447.8,266.5 L449.7,265.9 L451.7,265.4 L453.6,264.8 L455.5,264.3 L457.5,263.7 L459.4,263.2 L461.4,262.7 L463.4,262.2 L465.3,261.7 L467.3,261.2 L469.2,260.7 L471.2,260.2 L473.2,259.7 L475.1,259.3 L477.1,258.8 L479.1,258.4 L481,257.9 L483,257.5 L485,257.1 L487,256.6 L488.9,256.2 L490.9,255.8 L492.9,255.4 L494.9,254.9 L496.8,254.5 L498.8,254.1 L500.8,253.7 L502.8,253.3 L504.8,252.8 L506.7,252.4 L508.7,252 L510.7,251.6 L512.7,251.1 L514.6,250.7 L516.6,250.3 L518.6,249.8 L520.5,249.4 L522.5,248.9 L524.5,248.4 L526.4,248 L528.4,247.5 L530.4,247 L532.3,246.5 L534.3,246 L536.2,245.5 L538.2,245 L540.1,244.4 L542.1,243.9 L544,243.4 L546,242.8 L547.9,242.3 L549.9,241.7 L551.8,241.2 L553.8,240.6 L555.7,240 L557.7,239.5 L559.6,238.9 L561.5,238.3 L563.5,237.7 L565.4,237.1 L567.3,236.5 L569.3,235.9 L571.2,235.3 L573.1,234.7 L575.1,234.1 L577,233.5 L578.9,232.9 L580.8,232.3 L582.8,231.7 L584.7,231.1 L586.6,230.4 L588.5,229.8 L590.5,229.2 L592.4,228.6 L594.3,227.9 L596.2,227.3 L598.1,226.7 L600.1,226 L602,225.4 L603.9,224.8 L605.8,224.1 L607.7,223.5 L609.7,222.8 L611.6,222.2 L613.5,221.6 L615.4,220.9 L617.3,220.3 L619.2,219.6 L621.1,219 L623.1,218.3 L625,217.6 L626.9,217 L628.8,216.3 L630.7,215.7 L632.6,215 L634.5,214.3 L636.4,213.7 L638.4,213 L640.3,212.4 L642.2,211.7 L644.1,211 L646,210.4 L647.9,209.7 L649.8,209 L651.7,208.4 L653.6,207.7 L655.5,207 L657.4,206.3 L659.3,205.7 L661.2,205 L663.2,204.3 L665.1,203.7 L667,203 L668.9,202.3 L670.8,201.6 L672.7,201 L674.6,200.3 L676.5,199.6" fill="none" stroke="#111111" stroke-width="2.0" stroke-linejoin="round" stroke-dasharray="2.2 1.9" stroke-dashoffset="0"/>
</g>
<text x="411.1" y="93.6" class="pl" style="fill:#ff0a0a;stroke:#ff0a0a"><tspan class="it">N</tspan><tspan class="st" dx="-0.2" dy="1.6">&#8226;</tspan><tspan dx="1.1" dy="-1.6">=50</tspan></text>
<text x="484.5" y="93.6" class="pl" style="fill:#ff0a0a;stroke:#ff0a0a"><tspan class="it">N</tspan><tspan class="st" dx="-0.2" dy="1.6">&#8226;</tspan><tspan dx="1.1" dy="-1.6">=60</tspan></text>
<text x="499.8" y="53.2" class="pl" style="fill:#111111;stroke:#111111"><tspan class="it">h</tspan><tspan class="sb" dy="2.2">0</tspan><tspan dy="-2.2">=0.5</tspan></text>
<text x="516.2" y="115.9" class="pl" style="fill:#1010f5;stroke:#1010f5">r=10<tspan class="sp" dy="-4.2">&#8722;1.5</tspan></text>
<text x="391.7" y="249.2" class="pl" style="fill:#111111;stroke:#111111"><tspan class="it">h</tspan><tspan class="sb" dy="2.2">0</tspan><tspan dy="-2.2">=0.7</tspan></text>
<text x="459.8" y="229.1" class="pl" style="fill:#1010f5;stroke:#1010f5">r=10<tspan class="sp" dy="-4.2">&#8722;1</tspan></text>
<text x="464.3" y="279.8" class="pl" style="fill:#111111;stroke:#111111"><tspan class="it">h</tspan><tspan class="sb" dy="2.2">0</tspan><tspan dy="-2.2">=1</tspan></text>
<rect x="576.9" y="34.5" width="79" height="61.8" rx="6" ry="6" fill="#fff" stroke="#222" stroke-width="1.3"/>
<rect x="584.6" y="43.7" width="14.2" height="9.9" fill="#a9f5a9" stroke="#cfcfcf" stroke-width="0.5"/>
<text x="604.3" y="51.9" class="lg">1<tspan class="it">&#963;</tspan></text>
<rect x="584.6" y="60.1" width="14.2" height="9.5" fill="#fdfdae" stroke="#cfcfcf" stroke-width="0.5"/>
<text x="604.3" y="68" class="lg">2<tspan class="it">&#963;</tspan></text>
<rect x="584.6" y="76.6" width="14.2" height="9.6" fill="#d8d8d8" stroke="#cfcfcf" stroke-width="0.5"/>
<text x="604.3" y="84.6" class="lg">|<tspan class="it">&#981;</tspan><tspan class="st" dy="1.6">&#8226;</tspan><tspan dy="-1.6">&#8722;</tspan><tspan class="it">&#981;</tspan><tspan class="sb" dy="2">0</tspan><tspan dy="-2">|&gt;1</tspan></text>
<rect x="375.6" y="17.5" width="299.2" height="299" fill="none" stroke="#5a5a5a" stroke-width="1.1"/>
<path d="M375.6,316.5 v-4 M375.6,17.5 v4 M415.5,316.5 v-4 M415.5,17.5 v4 M455.4,316.5 v-4 M455.4,17.5 v4 M495.3,316.5 v-4 M495.3,17.5 v4 M535.2,316.5 v-4 M535.2,17.5 v4 M575.1,316.5 v-4 M575.1,17.5 v4 M615,316.5 v-4 M615,17.5 v4 M654.9,316.5 v-4 M654.9,17.5 v4 M385.6,316.5 v-2.3 M385.6,17.5 v2.3 M395.5,316.5 v-2.3 M395.5,17.5 v2.3 M405.5,316.5 v-2.3 M405.5,17.5 v2.3 M425.5,316.5 v-2.3 M425.5,17.5 v2.3 M435.4,316.5 v-2.3 M435.4,17.5 v2.3 M445.4,316.5 v-2.3 M445.4,17.5 v2.3 M465.4,316.5 v-2.3 M465.4,17.5 v2.3 M475.3,316.5 v-2.3 M475.3,17.5 v2.3 M485.3,316.5 v-2.3 M485.3,17.5 v2.3 M505.3,316.5 v-2.3 M505.3,17.5 v2.3 M515.2,316.5 v-2.3 M515.2,17.5 v2.3 M525.2,316.5 v-2.3 M525.2,17.5 v2.3 M545.1,316.5 v-2.3 M545.1,17.5 v2.3 M555.1,316.5 v-2.3 M555.1,17.5 v2.3 M565.1,316.5 v-2.3 M565.1,17.5 v2.3 M585,316.5 v-2.3 M585,17.5 v2.3 M595,316.5 v-2.3 M595,17.5 v2.3 M605,316.5 v-2.3 M605,17.5 v2.3 M624.9,316.5 v-2.3 M624.9,17.5 v2.3 M634.9,316.5 v-2.3 M634.9,17.5 v2.3 M644.9,316.5 v-2.3 M644.9,17.5 v2.3 M664.8,316.5 v-2.3 M664.8,17.5 v2.3 M674.8,316.5 v-2.3 M674.8,17.5 v2.3 M375.6,275.3 h4 M674.8,275.3 h-4 M375.6,223.7 h4 M674.8,223.7 h-4 M375.6,172.2 h4 M674.8,172.2 h-4 M375.6,120.6 h4 M674.8,120.6 h-4 M375.6,69.1 h4 M674.8,69.1 h-4 M375.6,17.5 h4 M674.8,17.5 h-4 M375.6,316.5 h2.3 M674.8,316.5 h-2.3 M375.6,306.2 h2.3 M674.8,306.2 h-2.3 M375.6,295.9 h2.3 M674.8,295.9 h-2.3 M375.6,285.6 h2.3 M674.8,285.6 h-2.3 M375.6,264.9 h2.3 M674.8,264.9 h-2.3 M375.6,254.6 h2.3 M674.8,254.6 h-2.3 M375.6,244.3 h2.3 M674.8,244.3 h-2.3 M375.6,234 h2.3 M674.8,234 h-2.3 M375.6,213.4 h2.3 M674.8,213.4 h-2.3 M375.6,203.1 h2.3 M674.8,203.1 h-2.3 M375.6,192.8 h2.3 M674.8,192.8 h-2.3 M375.6,182.5 h2.3 M674.8,182.5 h-2.3 M375.6,161.8 h2.3 M674.8,161.8 h-2.3 M375.6,151.5 h2.3 M674.8,151.5 h-2.3 M375.6,141.2 h2.3 M674.8,141.2 h-2.3 M375.6,130.9 h2.3 M674.8,130.9 h-2.3 M375.6,110.3 h2.3 M674.8,110.3 h-2.3 M375.6,100 h2.3 M674.8,100 h-2.3 M375.6,89.7 h2.3 M674.8,89.7 h-2.3 M375.6,79.4 h2.3 M674.8,79.4 h-2.3 M375.6,58.7 h2.3 M674.8,58.7 h-2.3 M375.6,48.4 h2.3 M674.8,48.4 h-2.3 M375.6,38.1 h2.3 M674.8,38.1 h-2.3 M375.6,27.8 h2.3 M674.8,27.8 h-2.3" stroke="#5a5a5a" stroke-width="0.9" fill="none"/>
<text transform="translate(375.6,326.9) scale(0.86,1)" class="tk" text-anchor="middle">2.0</text>
<text transform="translate(415.5,326.9) scale(0.86,1)" class="tk" text-anchor="middle">2.2</text>
<text transform="translate(455.4,326.9) scale(0.86,1)" class="tk" text-anchor="middle">2.4</text>
<text transform="translate(495.3,326.9) scale(0.86,1)" class="tk" text-anchor="middle">2.6</text>
<text transform="translate(535.2,326.9) scale(0.86,1)" class="tk" text-anchor="middle">2.8</text>
<text transform="translate(575.1,326.9) scale(0.86,1)" class="tk" text-anchor="middle">3.0</text>
<text transform="translate(615,326.9) scale(0.86,1)" class="tk" text-anchor="middle">3.2</text>
<text transform="translate(654.9,326.9) scale(0.86,1)" class="tk" text-anchor="middle">3.4</text>
<text transform="translate(372.6,278.5) scale(0.86,1)" class="tk" text-anchor="end">5</text>
<text transform="translate(372.6,226.9) scale(0.86,1)" class="tk" text-anchor="end">10</text>
<text transform="translate(372.6,175.4) scale(0.86,1)" class="tk" text-anchor="end">15</text>
<text transform="translate(372.6,123.8) scale(0.86,1)" class="tk" text-anchor="end">20</text>
<text transform="translate(372.6,72.3) scale(0.86,1)" class="tk" text-anchor="end">25</text>
<text transform="translate(372.6,20.7) scale(0.86,1)" class="tk" text-anchor="end">30</text>
<line x1="77.9" y1="380.2" x2="77.9" y2="678.3" stroke="#e3e3e3" stroke-width="0.9"/>
<line x1="127.6" y1="380.2" x2="127.6" y2="678.3" stroke="#e3e3e3" stroke-width="0.9"/>
<line x1="177.3" y1="380.2" x2="177.3" y2="678.3" stroke="#e3e3e3" stroke-width="0.9"/>
<line x1="227.1" y1="380.2" x2="227.1" y2="678.3" stroke="#e3e3e3" stroke-width="0.9"/>
<line x1="276.8" y1="380.2" x2="276.8" y2="678.3" stroke="#e3e3e3" stroke-width="0.9"/>
<line x1="28.2" y1="621.1" x2="326.5" y2="621.1" stroke="#e3e3e3" stroke-width="0.9"/>
<line x1="28.2" y1="560.9" x2="326.5" y2="560.9" stroke="#e3e3e3" stroke-width="0.9"/>
<line x1="28.2" y1="500.6" x2="326.5" y2="500.6" stroke="#e3e3e3" stroke-width="0.9"/>
<line x1="28.2" y1="440.4" x2="326.5" y2="440.4" stroke="#e3e3e3" stroke-width="0.9"/>
<g clip-path="url(#clip3)">
<path d="M254.4,377 L254.1,379 L253.8,381 L253.5,383 L253.2,385 L252.9,387 L252.6,389 L252.3,390.9 L252,392.9 L251.7,394.9 L251.3,396.9 L251,398.9 L250.6,400.9 L250.3,402.8 L249.9,404.8 L249.6,406.8 L249.2,408.8 L248.8,410.7 L248.5,412.7 L248.1,414.7 L247.7,416.7 L247.3,418.6 L246.9,420.6 L246.5,422.6 L246.1,424.5 L245.7,426.5 L245.3,428.5 L244.9,430.4 L244.4,432.4 L244,434.4 L243.6,436.3 L243.2,438.3 L242.7,440.3 L242.3,442.2 L241.9,444.2 L241.4,446.2 L241,448.1 L240.5,450.1 L240.1,452.1 L239.7,454 L239.2,456 L238.8,457.9 L238.3,459.9 L237.9,461.9 L237.4,463.8 L237,465.8 L236.5,467.7 L236.1,469.7 L235.6,471.7 L235.1,473.6 L234.7,475.6 L234.2,477.5 L233.7,479.5 L233.3,481.4 L232.8,483.4 L232.3,485.3 L231.8,487.3 L231.3,489.2 L230.8,491.2 L230.3,493.1 L229.7,495.1 L229.2,497 L228.7,498.9 L228.2,500.9 L227.6,502.8 L227.1,504.8 L226.6,506.7 L226,508.6 L225.5,510.6 L224.9,512.5 L224.4,514.5 L223.9,516.4 L223.3,518.3 L222.8,520.3 L222.2,522.2 L221.7,524.1 L221.1,526.1 L220.6,528 L220,529.9 L219.5,531.9 L218.9,533.8 L218.3,535.7 L217.8,537.7 L217.2,539.6 L216.6,541.5 L216,543.4 L215.4,545.3 L214.8,547.3 L214.1,549.2 L213.5,551.1 L212.8,553 L212.2,554.9 L211.5,556.7 L210.8,558.6 L210.1,560.5 L209.4,562.4 L208.6,564.2 L207.9,566.1 L207.1,568 L206.3,569.8 L205.5,571.7 L204.7,573.5 L203.9,575.3 L203.1,577.2 L202.3,579 L201.4,580.8 L200.5,582.6 L199.7,584.5 L198.8,586.3 L197.9,588.1 L197,589.9 L196.2,591.7 L195.3,593.5 L194.4,595.3 L193.5,597.1 L192.6,598.9 L191.7,600.7 L190.8,602.5 L190,604.4 L189.1,606.2 L188.2,608 L187.3,609.8 L186.4,611.6 L185.5,613.4 L184.6,615.2 L183.7,617 L182.7,618.8 L181.8,620.6 L180.8,622.3 L179.9,624.1 L178.9,625.8 L177.8,627.6 L176.8,629.3 L175.7,631 L174.6,632.7 L173.5,634.3 L172.3,636 L171.1,637.6 L169.9,639.2 L168.7,640.8 L167.4,642.3 L166.1,643.9 L164.8,645.4 L163.4,646.9 L162.1,648.4 L160.7,649.8 L159.3,651.2 L157.8,652.6 L156.3,654 L154.8,655.3 L153.3,656.6 L151.8,657.9 L150.2,659.1 L148.6,660.3 L147,661.5 L145.3,662.6 L143.6,663.6 L141.9,664.7 L140.2,665.6 L138.5,666.6 L136.7,667.5 L134.9,668.3 L133.1,669.1 L131.3,669.8 L129.4,670.5 L127.5,671.2 L125.6,671.8 L123.7,672.4 L121.8,673 L119.9,673.5 L117.9,674 L115.9,674.4 L114,674.8 L112,675.2 L110,675.6 L108,676 L106,676.3 L104,676.6 L102.1,676.9 L100,677.2 L98,677.5 L96,677.8 L94,678.1 L92,678.3 L90,678.6 L88,678.8 L86,679.1 L84,679.4 L82,679.6 L80,679.9 L330,680 L330,377 Z" fill="rgba(100,102,104,0.24)" stroke="none"/>
<path d="M99.5,377 L99.8,379 L100,381 L100.2,383 L100.5,385 L100.7,387 L101,389 L101.2,391 L101.5,393 L101.7,395 L101.9,397 L102.2,399 L102.4,401 L102.7,403 L102.9,405 L103.1,407 L103.4,409 L103.6,411 L103.9,413 L104.1,415 L104.4,417 L104.6,419 L104.8,421 L105.1,423 L105.3,425 L105.6,427 L105.8,429 L106,431 L106.3,433 L106.5,435 L106.8,437 L107,439 L107.3,441 L107.5,443 L107.8,445 L108.1,447 L108.3,449 L108.6,451 L108.9,453 L109.2,455 L109.5,457 L109.8,459 L110.1,461 L110.4,463 L110.7,465 L111,467 L111.4,469 L111.7,470.9 L112.1,472.9 L112.4,474.9 L112.8,476.9 L113.2,478.9 L113.5,480.8 L113.9,482.8 L114.3,484.8 L114.7,486.8 L115.1,488.8 L115.5,490.7 L115.9,492.7 L116.3,494.7 L116.8,496.7 L117.2,498.6 L117.6,500.6 L118,502.6 L118.4,504.5 L118.9,506.5 L119.3,508.5 L119.7,510.5 L120.2,512.4 L120.6,514.4 L121.1,516.4 L121.5,518.3 L122,520.3 L122.5,522.3 L123,524.2 L123.5,526.2 L123.9,528.1 L124.5,530.1 L125,532 L125.5,534 L126,535.9 L126.6,537.9 L127.1,539.8 L127.7,541.7 L128.3,543.7 L128.9,545.6 L129.5,547.5 L130.2,549.4 L130.8,551.3 L131.5,553.2 L132.2,555.1 L132.9,557 L133.6,558.9 L134.4,560.8 L135.2,562.6 L136,564.5 L136.8,566.3 L137.6,568.1 L138.5,570 L139.4,571.8 L140.3,573.6 L141.2,575.4 L142.2,577.2 L143.2,578.9 L144.2,580.7 L145.2,582.4 L146.3,584.2 L147.3,585.9 L148.5,587.5 L149.6,589.2 L150.8,590.8 L152,592.5 L153.2,594 L154.5,595.6 L155.8,597.1 L157.1,598.7 L158.5,600.1 L159.9,601.6 L161.3,603 L162.7,604.4 L164.2,605.7 L165.8,607 L167.3,608.3 L168.9,609.6 L170.5,610.8 L172.1,611.9 L173.8,613 L175.4,614.1 L177.2,615.2 L178.9,616.1 L180.7,617.1 L182.4,618 L184.2,618.9 L186.1,619.7 L187.9,620.4 L189.8,621.2 L191.7,621.9 L193.6,622.5 L195.5,623.1 L197.4,623.7 L199.3,624.2 L201.3,624.7 L203.2,625.2 L205.2,625.6 L207.2,626 L209.2,626.4 L211.2,626.7 L213.1,627.1 L215.1,627.4 L217.2,627.7 L219.2,627.9 L221.2,628.2 L223.2,628.4 L225.2,628.6 L227.2,628.8 L229.2,629 L231.3,629.1 L233.3,629.3 L235.3,629.4 L237.3,629.6 L239.3,629.7 L241.3,629.8 L243.4,629.9 L245.4,630 L247.4,630.1 L249.4,630.1 L251.4,630.2 L253.5,630.2 L255.5,630.3 L257.5,630.3 L259.5,630.3 L261.5,630.3 L263.6,630.3 L265.6,630.3 L267.6,630.3 L269.6,630.3 L271.6,630.3 L273.6,630.2 L275.7,630.2 L277.7,630.2 L279.7,630.1 L281.7,630 L283.7,630 L285.7,629.9 L287.7,629.8 L289.8,629.7 L291.8,629.7 L293.8,629.6 L295.8,629.5 L297.8,629.4 L299.8,629.3 L301.8,629.2 L303.9,629 L305.9,628.9 L307.9,628.8 L309.9,628.7 L311.9,628.6 L313.9,628.5 L315.9,628.3 L317.9,628.2 L320,628.1 L322,628 L324,627.8 L326,627.7 L328,627.6 L328,612.8 L326,612.8 L324,612.7 L321.9,612.7 L319.9,612.6 L317.9,612.6 L315.9,612.5 L313.9,612.5 L311.9,612.4 L309.8,612.4 L307.8,612.3 L305.8,612.2 L303.8,612.2 L301.8,612.1 L299.8,612 L297.7,611.9 L295.7,611.8 L293.7,611.8 L291.7,611.6 L289.7,611.5 L287.7,611.4 L285.6,611.3 L283.6,611.2 L281.6,611 L279.6,610.9 L277.6,610.7 L275.6,610.5 L273.6,610.4 L271.5,610.1 L269.5,609.9 L267.5,609.7 L265.5,609.4 L263.5,609.2 L261.5,608.9 L259.6,608.6 L257.6,608.2 L255.6,607.8 L253.6,607.4 L251.7,607 L249.7,606.6 L247.8,606.1 L245.8,605.5 L243.9,605 L242,604.4 L240.1,603.7 L238.2,603.1 L236.3,602.3 L234.5,601.6 L232.6,600.8 L230.8,600 L228.9,599.1 L227.1,598.3 L225.3,597.3 L223.6,596.4 L221.8,595.4 L220.1,594.4 L218.3,593.4 L216.6,592.3 L214.9,591.2 L213.3,590.1 L211.6,588.9 L210,587.7 L208.4,586.5 L206.8,585.3 L205.2,584 L203.7,582.7 L202.2,581.4 L200.7,580 L199.3,578.6 L197.9,577.2 L196.5,575.7 L195.2,574.2 L193.9,572.7 L192.6,571.2 L191.3,569.6 L190.1,568 L188.9,566.4 L187.7,564.8 L186.6,563.1 L185.5,561.4 L184.4,559.7 L183.4,558 L182.4,556.3 L181.4,554.5 L180.5,552.7 L179.5,550.9 L178.6,549.1 L177.7,547.3 L176.9,545.5 L176.1,543.7 L175.2,541.8 L174.5,540 L173.7,538.1 L172.9,536.2 L172.2,534.3 L171.4,532.4 L170.7,530.5 L170,528.6 L169.3,526.7 L168.6,524.8 L168,522.9 L167.3,521 L166.7,519.1 L166,517.2 L165.4,515.3 L164.8,513.3 L164.2,511.4 L163.6,509.5 L163,507.5 L162.4,505.6 L161.8,503.7 L161.3,501.7 L160.7,499.8 L160.2,497.8 L159.6,495.9 L159.1,493.9 L158.6,492 L158.1,490 L157.6,488.1 L157.1,486.1 L156.6,484.2 L156.1,482.2 L155.6,480.3 L155.2,478.3 L154.7,476.3 L154.2,474.4 L153.8,472.4 L153.4,470.4 L152.9,468.5 L152.5,466.5 L152.1,464.5 L151.7,462.6 L151.3,460.6 L150.9,458.6 L150.5,456.6 L150.2,454.6 L149.8,452.7 L149.5,450.7 L149.1,448.7 L148.8,446.7 L148.5,444.7 L148.2,442.7 L147.9,440.7 L147.6,438.7 L147.3,436.8 L147,434.8 L146.7,432.8 L146.4,430.8 L146.1,428.8 L145.8,426.8 L145.5,424.8 L145.2,422.8 L144.9,420.8 L144.7,418.8 L144.4,416.8 L144.1,414.8 L143.8,412.8 L143.5,410.8 L143.2,408.8 L142.9,406.8 L142.5,404.9 L142.2,402.9 L141.9,400.9 L141.6,398.9 L141.3,396.9 L140.9,394.9 L140.6,392.9 L140.3,390.9 L140,388.9 L139.6,386.9 L139.3,385 L139,383 L138.6,381 L138.3,379 L138,377 Z" fill="rgba(255,243,0,0.325)" stroke="none"/>
<path d="M106.9,377 L107.1,379 L107.4,381 L107.6,383 L107.8,385 L108.1,387 L108.3,389 L108.5,391 L108.8,393 L109,395.1 L109.2,397.1 L109.5,399.1 L109.7,401.1 L109.9,403.1 L110.2,405.1 L110.4,407.1 L110.6,409.1 L110.9,411.1 L111.1,413.1 L111.4,415.1 L111.6,417.1 L111.8,419.1 L112.1,421.1 L112.3,423.1 L112.6,425.1 L112.8,427.1 L113.1,429.1 L113.3,431.1 L113.6,433.1 L113.9,435.1 L114.1,437.2 L114.4,439.2 L114.7,441.2 L114.9,443.2 L115.2,445.2 L115.5,447.1 L115.8,449.1 L116.1,451.1 L116.4,453.1 L116.7,455.1 L117.1,457.1 L117.4,459.1 L117.7,461.1 L118.1,463.1 L118.4,465.1 L118.8,467.1 L119.1,469.1 L119.5,471 L119.9,473 L120.3,475 L120.7,477 L121.1,479 L121.5,480.9 L121.9,482.9 L122.3,484.9 L122.8,486.8 L123.2,488.8 L123.7,490.8 L124.1,492.8 L124.5,494.7 L125,496.7 L125.5,498.7 L125.9,500.6 L126.4,502.6 L126.8,504.6 L127.3,506.5 L127.8,508.5 L128.2,510.5 L128.7,512.4 L129.2,514.4 L129.7,516.4 L130.2,518.3 L130.6,520.3 L131.1,522.3 L131.6,524.2 L132.2,526.2 L132.7,528.1 L133.2,530.1 L133.7,532 L134.3,534 L134.8,535.9 L135.4,537.9 L136,539.8 L136.5,541.8 L137.1,543.7 L137.8,545.6 L138.4,547.5 L139,549.4 L139.7,551.3 L140.4,553.2 L141.1,555.1 L141.9,557 L142.6,558.9 L143.4,560.7 L144.2,562.6 L145.1,564.4 L145.9,566.2 L146.8,568 L147.8,569.8 L148.7,571.6 L149.7,573.4 L150.7,575.1 L151.7,576.9 L152.7,578.6 L153.8,580.3 L154.9,582 L156.1,583.7 L157.2,585.3 L158.4,587 L159.7,588.6 L160.9,590.1 L162.2,591.7 L163.5,593.2 L164.9,594.7 L166.2,596.2 L167.6,597.6 L169.1,599.1 L170.5,600.4 L172,601.8 L173.6,603.1 L175.1,604.4 L176.7,605.6 L178.3,606.8 L179.9,607.9 L181.6,609 L183.3,610.1 L185,611.1 L186.7,612.1 L188.5,613.1 L190.3,614 L192.1,614.8 L193.9,615.6 L195.8,616.4 L197.6,617.1 L199.5,617.8 L201.4,618.5 L203.4,619.1 L205.3,619.7 L207.2,620.2 L209.2,620.7 L211.1,621.2 L213.1,621.6 L215.1,622 L217.1,622.4 L219.1,622.8 L221.1,623.2 L223.1,623.5 L225.1,623.8 L227.1,624.1 L229.1,624.4 L231.1,624.7 L233.1,624.9 L235.1,625.2 L237.1,625.4 L239.2,625.6 L241.2,625.8 L243.2,626 L245.2,626.1 L247.2,626.3 L249.3,626.4 L251.3,626.5 L253.3,626.7 L255.3,626.8 L257.3,626.9 L259.4,626.9 L261.4,627 L263.4,627.1 L265.4,627.1 L267.4,627.2 L269.5,627.2 L271.5,627.2 L273.5,627.2 L275.5,627.2 L277.5,627.2 L279.6,627.2 L281.6,627.2 L283.6,627.2 L285.6,627.1 L287.6,627.1 L289.7,627 L291.7,627 L293.7,626.9 L295.7,626.9 L297.7,626.8 L299.8,626.7 L301.8,626.7 L303.8,626.6 L305.8,626.5 L307.8,626.4 L309.8,626.3 L311.9,626.2 L313.9,626.1 L315.9,626 L317.9,625.9 L319.9,625.8 L321.9,625.7 L324,625.6 L326,625.5 L328,625.4 L328,618.1 L326,618.2 L324,618.2 L321.9,618.2 L319.9,618.3 L317.9,618.3 L315.9,618.4 L313.9,618.4 L311.9,618.4 L309.8,618.5 L307.8,618.5 L305.8,618.5 L303.8,618.5 L301.8,618.5 L299.8,618.5 L297.7,618.5 L295.7,618.5 L293.7,618.5 L291.7,618.5 L289.7,618.5 L287.7,618.4 L285.6,618.4 L283.6,618.3 L281.6,618.2 L279.6,618.2 L277.6,618.1 L275.6,618 L273.6,617.8 L271.5,617.7 L269.5,617.6 L267.5,617.4 L265.5,617.3 L263.5,617.1 L261.5,616.9 L259.5,616.7 L257.5,616.4 L255.5,616.2 L253.5,615.9 L251.5,615.6 L249.5,615.3 L247.5,615 L245.5,614.6 L243.5,614.3 L241.6,613.9 L239.6,613.4 L237.6,613 L235.7,612.5 L233.7,612 L231.8,611.4 L229.8,610.9 L227.9,610.3 L226,609.7 L224.1,609 L222.2,608.3 L220.3,607.6 L218.4,606.9 L216.5,606.2 L214.7,605.4 L212.8,604.6 L211,603.7 L209.2,602.8 L207.4,601.9 L205.7,601 L203.9,600 L202.2,599 L200.5,597.9 L198.9,596.8 L197.2,595.6 L195.6,594.4 L194.1,593.2 L192.5,592 L191,590.7 L189.5,589.3 L188.1,587.9 L186.7,586.5 L185.3,585.1 L183.9,583.6 L182.6,582.1 L181.3,580.6 L180,579 L178.8,577.4 L177.6,575.8 L176.4,574.2 L175.3,572.6 L174.2,570.9 L173.1,569.2 L172.1,567.5 L171,565.7 L170.1,564 L169.1,562.2 L168.2,560.4 L167.2,558.6 L166.3,556.8 L165.5,555 L164.6,553.2 L163.8,551.3 L163,549.5 L162.2,547.6 L161.4,545.8 L160.6,543.9 L159.9,542.1 L159.1,540.2 L158.3,538.3 L157.6,536.5 L156.8,534.6 L156.1,532.7 L155.4,530.8 L154.7,528.9 L154,527 L153.4,525.1 L152.7,523.2 L152.1,521.3 L151.5,519.4 L150.8,517.5 L150.2,515.6 L149.6,513.7 L149.1,511.7 L148.5,509.8 L148,507.9 L147.4,505.9 L146.9,504 L146.4,502 L145.8,500.1 L145.3,498.1 L144.8,496.2 L144.4,494.2 L143.9,492.3 L143.4,490.3 L142.9,488.4 L142.5,486.4 L142,484.4 L141.6,482.5 L141.2,480.5 L140.8,478.5 L140.3,476.6 L139.9,474.6 L139.5,472.6 L139.1,470.6 L138.8,468.7 L138.4,466.7 L138,464.7 L137.6,462.7 L137.3,460.8 L136.9,458.8 L136.6,456.8 L136.2,454.8 L135.9,452.8 L135.5,450.8 L135.2,448.8 L134.9,446.9 L134.6,444.9 L134.2,442.9 L133.9,440.9 L133.6,438.9 L133.3,436.9 L133,434.9 L132.7,432.9 L132.4,430.9 L132.2,428.9 L131.9,426.9 L131.6,425 L131.3,423 L131,421 L130.8,419 L130.5,417 L130.2,415 L130,413 L129.7,411 L129.5,409 L129.2,407 L129,405 L128.7,403 L128.5,401 L128.2,399 L128,397 L127.7,395 L127.5,393 L127.3,391 L127,389 L126.8,387 L126.5,385 L126.3,383 L126.1,381 L125.8,379 L125.6,377 Z" fill="rgba(0,255,0,0.2)" stroke="none"/>
<path d="M106.9,377 L107.1,379 L107.4,381 L107.6,383 L107.8,385 L108.1,387 L108.3,389 L108.5,391 L108.8,393 L109,395.1 L109.2,397.1 L109.5,399.1 L109.7,401.1 L109.9,403.1 L110.2,405.1 L110.4,407.1 L110.6,409.1 L110.9,411.1 L111.1,413.1 L111.4,415.1 L111.6,417.1 L111.8,419.1 L112.1,421.1 L112.3,423.1 L112.6,425.1 L112.8,427.1 L113.1,429.1 L113.3,431.1 L113.6,433.1 L113.9,435.1 L114.1,437.2 L114.4,439.2 L114.7,441.2 L114.9,443.2 L115.2,445.2 L115.5,447.1 L115.8,449.1 L116.1,451.1 L116.4,453.1 L116.7,455.1 L117.1,457.1 L117.4,459.1 L117.7,461.1 L118.1,463.1 L118.4,465.1 L118.8,467.1 L119.1,469.1 L119.5,471 L119.9,473 L120.3,475 L120.7,477 L121.1,479 L121.5,480.9 L121.9,482.9 L122.3,484.9 L122.8,486.8 L123.2,488.8 L123.7,490.8 L124.1,492.8 L124.5,494.7 L125,496.7 L125.5,498.7 L125.9,500.6 L126.4,502.6 L126.8,504.6 L127.3,506.5 L127.8,508.5 L128.2,510.5 L128.7,512.4 L129.2,514.4 L129.7,516.4 L130.2,518.3 L130.6,520.3 L131.1,522.3 L131.6,524.2 L132.2,526.2 L132.7,528.1 L133.2,530.1 L133.7,532 L134.3,534 L134.8,535.9 L135.4,537.9 L136,539.8 L136.5,541.8 L137.1,543.7 L137.8,545.6 L138.4,547.5 L139,549.4 L139.7,551.3 L140.4,553.2 L141.1,555.1 L141.9,557 L142.6,558.9 L143.4,560.7 L144.2,562.6 L145.1,564.4 L145.9,566.2 L146.8,568 L147.8,569.8 L148.7,571.6 L149.7,573.4 L150.7,575.1 L151.7,576.9 L152.7,578.6 L153.8,580.3 L154.9,582 L156.1,583.7 L157.2,585.3 L158.4,587 L159.7,588.6 L160.9,590.1 L162.2,591.7 L163.5,593.2 L164.9,594.7 L166.2,596.2 L167.6,597.6 L169.1,599.1 L170.5,600.4 L172,601.8 L173.6,603.1 L175.1,604.4 L176.7,605.6 L178.3,606.8 L179.9,607.9 L181.6,609 L183.3,610.1 L185,611.1 L186.7,612.1 L188.5,613.1 L190.3,614 L192.1,614.8 L193.9,615.6 L195.8,616.4 L197.6,617.1 L199.5,617.8 L201.4,618.5 L203.4,619.1 L205.3,619.7 L207.2,620.2 L209.2,620.7 L211.1,621.2 L213.1,621.6 L215.1,622 L217.1,622.4 L219.1,622.8 L221.1,623.2 L223.1,623.5 L225.1,623.8 L227.1,624.1 L229.1,624.4 L231.1,624.7 L233.1,624.9 L235.1,625.2 L237.1,625.4 L239.2,625.6 L241.2,625.8 L243.2,626 L245.2,626.1 L247.2,626.3 L249.3,626.4 L251.3,626.5 L253.3,626.7 L255.3,626.8 L257.3,626.9 L259.4,626.9 L261.4,627 L263.4,627.1 L265.4,627.1 L267.4,627.2 L269.5,627.2 L271.5,627.2 L273.5,627.2 L275.5,627.2 L277.5,627.2 L279.6,627.2 L281.6,627.2 L283.6,627.2 L285.6,627.1 L287.6,627.1 L289.7,627 L291.7,627 L293.7,626.9 L295.7,626.9 L297.7,626.8 L299.8,626.7 L301.8,626.7 L303.8,626.6 L305.8,626.5 L307.8,626.4 L309.8,626.3 L311.9,626.2 L313.9,626.1 L315.9,626 L317.9,625.9 L319.9,625.8 L321.9,625.7 L324,625.6 L326,625.5 L328,625.4 L328,618.1 L326,618.2 L324,618.2 L321.9,618.2 L319.9,618.3 L317.9,618.3 L315.9,618.4 L313.9,618.4 L311.9,618.4 L309.8,618.5 L307.8,618.5 L305.8,618.5 L303.8,618.5 L301.8,618.5 L299.8,618.5 L297.7,618.5 L295.7,618.5 L293.7,618.5 L291.7,618.5 L289.7,618.5 L287.7,618.4 L285.6,618.4 L283.6,618.3 L281.6,618.2 L279.6,618.2 L277.6,618.1 L275.6,618 L273.6,617.8 L271.5,617.7 L269.5,617.6 L267.5,617.4 L265.5,617.3 L263.5,617.1 L261.5,616.9 L259.5,616.7 L257.5,616.4 L255.5,616.2 L253.5,615.9 L251.5,615.6 L249.5,615.3 L247.5,615 L245.5,614.6 L243.5,614.3 L241.6,613.9 L239.6,613.4 L237.6,613 L235.7,612.5 L233.7,612 L231.8,611.4 L229.8,610.9 L227.9,610.3 L226,609.7 L224.1,609 L222.2,608.3 L220.3,607.6 L218.4,606.9 L216.5,606.2 L214.7,605.4 L212.8,604.6 L211,603.7 L209.2,602.8 L207.4,601.9 L205.7,601 L203.9,600 L202.2,599 L200.5,597.9 L198.9,596.8 L197.2,595.6 L195.6,594.4 L194.1,593.2 L192.5,592 L191,590.7 L189.5,589.3 L188.1,587.9 L186.7,586.5 L185.3,585.1 L183.9,583.6 L182.6,582.1 L181.3,580.6 L180,579 L178.8,577.4 L177.6,575.8 L176.4,574.2 L175.3,572.6 L174.2,570.9 L173.1,569.2 L172.1,567.5 L171,565.7 L170.1,564 L169.1,562.2 L168.2,560.4 L167.2,558.6 L166.3,556.8 L165.5,555 L164.6,553.2 L163.8,551.3 L163,549.5 L162.2,547.6 L161.4,545.8 L160.6,543.9 L159.9,542.1 L159.1,540.2 L158.3,538.3 L157.6,536.5 L156.8,534.6 L156.1,532.7 L155.4,530.8 L154.7,528.9 L154,527 L153.4,525.1 L152.7,523.2 L152.1,521.3 L151.5,519.4 L150.8,517.5 L150.2,515.6 L149.6,513.7 L149.1,511.7 L148.5,509.8 L148,507.9 L147.4,505.9 L146.9,504 L146.4,502 L145.8,500.1 L145.3,498.1 L144.8,496.2 L144.4,494.2 L143.9,492.3 L143.4,490.3 L142.9,488.4 L142.5,486.4 L142,484.4 L141.6,482.5 L141.2,480.5 L140.8,478.5 L140.3,476.6 L139.9,474.6 L139.5,472.6 L139.1,470.6 L138.8,468.7 L138.4,466.7 L138,464.7 L137.6,462.7 L137.3,460.8 L136.9,458.8 L136.6,456.8 L136.2,454.8 L135.9,452.8 L135.5,450.8 L135.2,448.8 L134.9,446.9 L134.6,444.9 L134.2,442.9 L133.9,440.9 L133.6,438.9 L133.3,436.9 L133,434.9 L132.7,432.9 L132.4,430.9 L132.2,428.9 L131.9,426.9 L131.6,425 L131.3,423 L131,421 L130.8,419 L130.5,417 L130.2,415 L130,413 L129.7,411 L129.5,409 L129.2,407 L129,405 L128.7,403 L128.5,401 L128.2,399 L128,397 L127.7,395 L127.5,393 L127.3,391 L127,389 L126.8,387 L126.5,385 L126.3,383 L126.1,381 L125.8,379 L125.6,377 Z" fill="rgba(255,255,190,0.22)" clip-path="url(#gcl1)"/>
<path d="M99.5,377 L99.8,379 L100,381 L100.2,383 L100.5,385 L100.7,387 L101,389 L101.2,391 L101.5,393 L101.7,395 L101.9,397 L102.2,399 L102.4,401 L102.7,403 L102.9,405 L103.1,407 L103.4,409 L103.6,411 L103.9,413 L104.1,415 L104.4,417 L104.6,419 L104.8,421 L105.1,423 L105.3,425 L105.6,427 L105.8,429 L106,431 L106.3,433 L106.5,435 L106.8,437 L107,439 L107.3,441 L107.5,443 L107.8,445 L108.1,447 L108.3,449 L108.6,451 L108.9,453 L109.2,455 L109.5,457 L109.8,459 L110.1,461 L110.4,463 L110.7,465 L111,467 L111.4,469 L111.7,470.9 L112.1,472.9 L112.4,474.9 L112.8,476.9 L113.2,478.9 L113.5,480.8 L113.9,482.8 L114.3,484.8 L114.7,486.8 L115.1,488.8 L115.5,490.7 L115.9,492.7 L116.3,494.7 L116.8,496.7 L117.2,498.6 L117.6,500.6 L118,502.6 L118.4,504.5 L118.9,506.5 L119.3,508.5 L119.7,510.5 L120.2,512.4 L120.6,514.4 L121.1,516.4 L121.5,518.3 L122,520.3 L122.5,522.3 L123,524.2 L123.5,526.2 L123.9,528.1 L124.5,530.1 L125,532 L125.5,534 L126,535.9 L126.6,537.9 L127.1,539.8 L127.7,541.7 L128.3,543.7 L128.9,545.6 L129.5,547.5 L130.2,549.4 L130.8,551.3 L131.5,553.2 L132.2,555.1 L132.9,557 L133.6,558.9 L134.4,560.8 L135.2,562.6 L136,564.5 L136.8,566.3 L137.6,568.1 L138.5,570 L139.4,571.8 L140.3,573.6 L141.2,575.4 L142.2,577.2 L143.2,578.9 L144.2,580.7 L145.2,582.4 L146.3,584.2 L147.3,585.9 L148.5,587.5 L149.6,589.2 L150.8,590.8 L152,592.5 L153.2,594 L154.5,595.6 L155.8,597.1 L157.1,598.7 L158.5,600.1 L159.9,601.6 L161.3,603 L162.7,604.4 L164.2,605.7 L165.8,607 L167.3,608.3 L168.9,609.6 L170.5,610.8 L172.1,611.9 L173.8,613 L175.4,614.1 L177.2,615.2 L178.9,616.1 L180.7,617.1 L182.4,618 L184.2,618.9 L186.1,619.7 L187.9,620.4 L189.8,621.2 L191.7,621.9 L193.6,622.5 L195.5,623.1 L197.4,623.7 L199.3,624.2 L201.3,624.7 L203.2,625.2 L205.2,625.6 L207.2,626 L209.2,626.4 L211.2,626.7 L213.1,627.1 L215.1,627.4 L217.2,627.7 L219.2,627.9 L221.2,628.2 L223.2,628.4 L225.2,628.6 L227.2,628.8 L229.2,629 L231.3,629.1 L233.3,629.3 L235.3,629.4 L237.3,629.6 L239.3,629.7 L241.3,629.8 L243.4,629.9 L245.4,630 L247.4,630.1 L249.4,630.1 L251.4,630.2 L253.5,630.2 L255.5,630.3 L257.5,630.3 L259.5,630.3 L261.5,630.3 L263.6,630.3 L265.6,630.3 L267.6,630.3 L269.6,630.3 L271.6,630.3 L273.6,630.2 L275.7,630.2 L277.7,630.2 L279.7,630.1 L281.7,630 L283.7,630 L285.7,629.9 L287.7,629.8 L289.8,629.7 L291.8,629.7 L293.8,629.6 L295.8,629.5 L297.8,629.4 L299.8,629.3 L301.8,629.2 L303.9,629 L305.9,628.9 L307.9,628.8 L309.9,628.7 L311.9,628.6 L313.9,628.5 L315.9,628.3 L317.9,628.2 L320,628.1 L322,628 L324,627.8 L326,627.7 L328,627.6" fill="none" stroke="#ffee00" stroke-width="1.8" stroke-linejoin="round"/>
<path d="M138,377 L138.3,379 L138.6,381 L139,383 L139.3,385 L139.6,386.9 L140,388.9 L140.3,390.9 L140.6,392.9 L140.9,394.9 L141.3,396.9 L141.6,398.9 L141.9,400.9 L142.2,402.9 L142.5,404.9 L142.9,406.8 L143.2,408.8 L143.5,410.8 L143.8,412.8 L144.1,414.8 L144.4,416.8 L144.7,418.8 L144.9,420.8 L145.2,422.8 L145.5,424.8 L145.8,426.8 L146.1,428.8 L146.4,430.8 L146.7,432.8 L147,434.8 L147.3,436.8 L147.6,438.7 L147.9,440.7 L148.2,442.7 L148.5,444.7 L148.8,446.7 L149.1,448.7 L149.5,450.7 L149.8,452.7 L150.2,454.6 L150.5,456.6 L150.9,458.6 L151.3,460.6 L151.7,462.6 L152.1,464.5 L152.5,466.5 L152.9,468.5 L153.4,470.4 L153.8,472.4 L154.2,474.4 L154.7,476.3 L155.2,478.3 L155.6,480.3 L156.1,482.2 L156.6,484.2 L157.1,486.1 L157.6,488.1 L158.1,490 L158.6,492 L159.1,493.9 L159.6,495.9 L160.2,497.8 L160.7,499.8 L161.3,501.7 L161.8,503.7 L162.4,505.6 L163,507.5 L163.6,509.5 L164.2,511.4 L164.8,513.3 L165.4,515.3 L166,517.2 L166.7,519.1 L167.3,521 L168,522.9 L168.6,524.8 L169.3,526.7 L170,528.6 L170.7,530.5 L171.4,532.4 L172.2,534.3 L172.9,536.2 L173.7,538.1 L174.5,540 L175.2,541.8 L176.1,543.7 L176.9,545.5 L177.7,547.3 L178.6,549.1 L179.5,550.9 L180.5,552.7 L181.4,554.5 L182.4,556.3 L183.4,558 L184.4,559.7 L185.5,561.4 L186.6,563.1 L187.7,564.8 L188.9,566.4 L190.1,568 L191.3,569.6 L192.6,571.2 L193.9,572.7 L195.2,574.2 L196.5,575.7 L197.9,577.2 L199.3,578.6 L200.7,580 L202.2,581.4 L203.7,582.7 L205.2,584 L206.8,585.3 L208.4,586.5 L210,587.7 L211.6,588.9 L213.3,590.1 L214.9,591.2 L216.6,592.3 L218.3,593.4 L220.1,594.4 L221.8,595.4 L223.6,596.4 L225.3,597.3 L227.1,598.3 L228.9,599.1 L230.8,600 L232.6,600.8 L234.5,601.6 L236.3,602.3 L238.2,603.1 L240.1,603.7 L242,604.4 L243.9,605 L245.8,605.5 L247.8,606.1 L249.7,606.6 L251.7,607 L253.6,607.4 L255.6,607.8 L257.6,608.2 L259.6,608.6 L261.5,608.9 L263.5,609.2 L265.5,609.4 L267.5,609.7 L269.5,609.9 L271.5,610.1 L273.6,610.4 L275.6,610.5 L277.6,610.7 L279.6,610.9 L281.6,611 L283.6,611.2 L285.6,611.3 L287.7,611.4 L289.7,611.5 L291.7,611.6 L293.7,611.8 L295.7,611.8 L297.7,611.9 L299.8,612 L301.8,612.1 L303.8,612.2 L305.8,612.2 L307.8,612.3 L309.8,612.4 L311.9,612.4 L313.9,612.5 L315.9,612.5 L317.9,612.6 L319.9,612.6 L321.9,612.7 L324,612.7 L326,612.8 L328,612.8" fill="none" stroke="#ffee00" stroke-width="1.8" stroke-linejoin="round"/>
<path d="M106.9,377 L107.1,379 L107.4,381 L107.6,383 L107.8,385 L108.1,387 L108.3,389 L108.5,391 L108.8,393 L109,395.1 L109.2,397.1 L109.5,399.1 L109.7,401.1 L109.9,403.1 L110.2,405.1 L110.4,407.1 L110.6,409.1 L110.9,411.1 L111.1,413.1 L111.4,415.1 L111.6,417.1 L111.8,419.1 L112.1,421.1 L112.3,423.1 L112.6,425.1 L112.8,427.1 L113.1,429.1 L113.3,431.1 L113.6,433.1 L113.9,435.1 L114.1,437.2 L114.4,439.2 L114.7,441.2 L114.9,443.2 L115.2,445.2 L115.5,447.1 L115.8,449.1 L116.1,451.1 L116.4,453.1 L116.7,455.1 L117.1,457.1 L117.4,459.1 L117.7,461.1 L118.1,463.1 L118.4,465.1 L118.8,467.1 L119.1,469.1 L119.5,471 L119.9,473 L120.3,475 L120.7,477 L121.1,479 L121.5,480.9 L121.9,482.9 L122.3,484.9 L122.8,486.8 L123.2,488.8 L123.7,490.8 L124.1,492.8 L124.5,494.7 L125,496.7 L125.5,498.7 L125.9,500.6 L126.4,502.6 L126.8,504.6 L127.3,506.5 L127.8,508.5 L128.2,510.5 L128.7,512.4 L129.2,514.4 L129.7,516.4 L130.2,518.3 L130.6,520.3 L131.1,522.3 L131.6,524.2 L132.2,526.2 L132.7,528.1 L133.2,530.1 L133.7,532 L134.3,534 L134.8,535.9 L135.4,537.9 L136,539.8 L136.5,541.8 L137.1,543.7 L137.8,545.6 L138.4,547.5 L139,549.4 L139.7,551.3 L140.4,553.2 L141.1,555.1 L141.9,557 L142.6,558.9 L143.4,560.7 L144.2,562.6 L145.1,564.4 L145.9,566.2 L146.8,568 L147.8,569.8 L148.7,571.6 L149.7,573.4 L150.7,575.1 L151.7,576.9 L152.7,578.6 L153.8,580.3 L154.9,582 L156.1,583.7 L157.2,585.3 L158.4,587 L159.7,588.6 L160.9,590.1 L162.2,591.7 L163.5,593.2 L164.9,594.7 L166.2,596.2 L167.6,597.6 L169.1,599.1 L170.5,600.4 L172,601.8 L173.6,603.1 L175.1,604.4 L176.7,605.6 L178.3,606.8 L179.9,607.9 L181.6,609 L183.3,610.1 L185,611.1 L186.7,612.1 L188.5,613.1 L190.3,614 L192.1,614.8 L193.9,615.6 L195.8,616.4 L197.6,617.1 L199.5,617.8 L201.4,618.5 L203.4,619.1 L205.3,619.7 L207.2,620.2 L209.2,620.7 L211.1,621.2 L213.1,621.6 L215.1,622 L217.1,622.4 L219.1,622.8 L221.1,623.2 L223.1,623.5 L225.1,623.8 L227.1,624.1 L229.1,624.4 L231.1,624.7 L233.1,624.9 L235.1,625.2 L237.1,625.4 L239.2,625.6 L241.2,625.8 L243.2,626 L245.2,626.1 L247.2,626.3 L249.3,626.4 L251.3,626.5 L253.3,626.7 L255.3,626.8 L257.3,626.9 L259.4,626.9 L261.4,627 L263.4,627.1 L265.4,627.1 L267.4,627.2 L269.5,627.2 L271.5,627.2 L273.5,627.2 L275.5,627.2 L277.5,627.2 L279.6,627.2 L281.6,627.2 L283.6,627.2 L285.6,627.1 L287.6,627.1 L289.7,627 L291.7,627 L293.7,626.9 L295.7,626.9 L297.7,626.8 L299.8,626.7 L301.8,626.7 L303.8,626.6 L305.8,626.5 L307.8,626.4 L309.8,626.3 L311.9,626.2 L313.9,626.1 L315.9,626 L317.9,625.9 L319.9,625.8 L321.9,625.7 L324,625.6 L326,625.5 L328,625.4" fill="none" stroke="#33ee00" stroke-width="1.8" stroke-linejoin="round"/>
<path d="M125.6,377 L125.8,379 L126.1,381 L126.3,383 L126.5,385 L126.8,387 L127,389 L127.3,391 L127.5,393 L127.7,395 L128,397 L128.2,399 L128.5,401 L128.7,403 L129,405 L129.2,407 L129.5,409 L129.7,411 L130,413 L130.2,415 L130.5,417 L130.8,419 L131,421 L131.3,423 L131.6,425 L131.9,426.9 L132.2,428.9 L132.4,430.9 L132.7,432.9 L133,434.9 L133.3,436.9 L133.6,438.9 L133.9,440.9 L134.2,442.9 L134.6,444.9 L134.9,446.9 L135.2,448.8 L135.5,450.8 L135.9,452.8 L136.2,454.8 L136.6,456.8 L136.9,458.8 L137.3,460.8 L137.6,462.7 L138,464.7 L138.4,466.7 L138.8,468.7 L139.1,470.6 L139.5,472.6 L139.9,474.6 L140.3,476.6 L140.8,478.5 L141.2,480.5 L141.6,482.5 L142,484.4 L142.5,486.4 L142.9,488.4 L143.4,490.3 L143.9,492.3 L144.4,494.2 L144.8,496.2 L145.3,498.1 L145.8,500.1 L146.4,502 L146.9,504 L147.4,505.9 L148,507.9 L148.5,509.8 L149.1,511.7 L149.6,513.7 L150.2,515.6 L150.8,517.5 L151.5,519.4 L152.1,521.3 L152.7,523.2 L153.4,525.1 L154,527 L154.7,528.9 L155.4,530.8 L156.1,532.7 L156.8,534.6 L157.6,536.5 L158.3,538.3 L159.1,540.2 L159.9,542.1 L160.6,543.9 L161.4,545.8 L162.2,547.6 L163,549.5 L163.8,551.3 L164.6,553.2 L165.5,555 L166.3,556.8 L167.2,558.6 L168.2,560.4 L169.1,562.2 L170.1,564 L171,565.7 L172.1,567.5 L173.1,569.2 L174.2,570.9 L175.3,572.6 L176.4,574.2 L177.6,575.8 L178.8,577.4 L180,579 L181.3,580.6 L182.6,582.1 L183.9,583.6 L185.3,585.1 L186.7,586.5 L188.1,587.9 L189.5,589.3 L191,590.7 L192.5,592 L194.1,593.2 L195.6,594.4 L197.2,595.6 L198.9,596.8 L200.5,597.9 L202.2,599 L203.9,600 L205.7,601 L207.4,601.9 L209.2,602.8 L211,603.7 L212.8,604.6 L214.7,605.4 L216.5,606.2 L218.4,606.9 L220.3,607.6 L222.2,608.3 L224.1,609 L226,609.7 L227.9,610.3 L229.8,610.9 L231.8,611.4 L233.7,612 L235.7,612.5 L237.6,613 L239.6,613.4 L241.6,613.9 L243.5,614.3 L245.5,614.6 L247.5,615 L249.5,615.3 L251.5,615.6 L253.5,615.9 L255.5,616.2 L257.5,616.4 L259.5,616.7 L261.5,616.9 L263.5,617.1 L265.5,617.3 L267.5,617.4 L269.5,617.6 L271.5,617.7 L273.6,617.8 L275.6,618 L277.6,618.1 L279.6,618.2 L281.6,618.2 L283.6,618.3 L285.6,618.4 L287.7,618.4 L289.7,618.5 L291.7,618.5 L293.7,618.5 L295.7,618.5 L297.7,618.5 L299.8,618.5 L301.8,618.5 L303.8,618.5 L305.8,618.5 L307.8,618.5 L309.8,618.5 L311.9,618.4 L313.9,618.4 L315.9,618.4 L317.9,618.3 L319.9,618.3 L321.9,618.2 L324,618.2 L326,618.2 L328,618.1" fill="none" stroke="#33ee00" stroke-width="1.8" stroke-linejoin="round"/>
<path d="M226,679 L260,677 L300,675 L328,672.6" fill="none" stroke="#ffee00" stroke-width="1.8" stroke-linejoin="round"/>
<path d="M290,679.5 L328,676.6" fill="none" stroke="#ffee00" stroke-width="1.8" stroke-linejoin="round"/>
<path d="M244,679.5 L280,677.5 L328,674.5" fill="none" stroke="#1010f5" stroke-width="1.8" stroke-linejoin="round"/>
<path d="M28.1,620.7 L29.9,619.8 L31.7,618.9 L33.5,618 L35.3,617.1 L37,616.2 L38.9,615.3 L40.7,614.4 L42.5,613.5 L44.3,612.6 L46.1,611.7 L47.9,610.9 L49.7,610 L51.6,609.2 L53.4,608.4 L55.3,607.6 L57.1,606.8 L59,606 L60.8,605.3 L62.7,604.5 L64.6,603.8 L66.4,603.1 L68.3,602.4 L70.2,601.7 L72.1,601 L74,600.3 L75.9,599.6 L77.8,598.9 L79.7,598.3 L81.6,597.6 L83.5,597 L85.4,596.4 L87.4,595.8 L89.3,595.2 L91.2,594.6 L93.1,594 L95.1,593.4 L97,592.9 L98.9,592.3 L100.9,591.8 L102.8,591.2 L104.8,590.7 L106.7,590.2 L108.7,589.7 L110.6,589.2 L112.6,588.7 L114.5,588.3 L116.5,587.8 L118.4,587.3 L120.4,586.9 L122.4,586.5 L124.3,586 L126.3,585.6 L128.3,585.2 L130.3,584.8 L132.2,584.4 L134.2,584 L136.2,583.7 L138.2,583.3 L140.2,582.9 L142.1,582.6 L144.1,582.3 L146.1,581.9 L148.1,581.6 L150.1,581.3 L152.1,580.9 L154.1,580.6 L156.1,580.3 L158,580 L160,579.7 L162,579.4 L164,579.1 L166,578.8 L168,578.5 L170,578.2 L172,577.9 L174,577.7 L176,577.4 L178,577.1 L180,576.8 L182,576.5 L184,576.3 L186,576 L188,575.7 L190,575.4 L191.9,575.2 L193.9,574.9 L195.9,574.6 L197.9,574.3 L199.9,574.1 L201.9,573.8 L203.9,573.5 L205.9,573.3 L207.9,573 L209.9,572.8 L211.9,572.5 L213.9,572.2 L215.9,572 L217.9,571.7 L219.9,571.5 L221.9,571.2 L223.9,571 L225.9,570.7 L227.9,570.5 L229.9,570.2 L231.9,570 L233.9,569.7 L235.9,569.5 L237.9,569.2 L239.9,569 L241.9,568.8 L243.9,568.5 L245.9,568.3 L247.9,568.1 L249.9,567.8 L251.9,567.6 L253.9,567.4 L255.9,567.1 L257.9,566.9 L259.9,566.7 L261.9,566.5 L263.9,566.2 L265.9,566 L267.9,565.8 L269.9,565.6 L271.9,565.3 L273.9,565.1 L275.9,564.9 L277.9,564.7 L279.9,564.5 L281.9,564.3 L283.9,564 L285.9,563.8 L287.9,563.6 L289.9,563.4 L291.9,563.2 L293.9,563 L295.9,562.8 L297.9,562.6 L299.9,562.4 L302,562.2 L304,562 L306,561.7 L308,561.5 L310,561.3 L312,561.1 L314,560.9 L316,560.7 L318,560.5 L320,560.3 L322,560.1 L324,559.9 L326,559.7 L328,559.5" fill="none" stroke="#1010f5" stroke-width="1.8" stroke-linejoin="round"/>
<path d="M28.2,662.6 L30.2,662.3 L32.2,661.9 L34.2,661.5 L36.2,661.2 L38.1,660.8 L40.1,660.4 L42.1,660 L44.1,659.7 L46.1,659.3 L48.1,659 L50.1,658.6 L52.1,658.3 L54.1,657.9 L56.1,657.6 L58.1,657.2 L60.1,656.9 L62.1,656.5 L64.1,656.2 L66.1,655.9 L68.1,655.6 L70.1,655.2 L72.1,654.9 L74.1,654.6 L76.1,654.3 L78.1,654 L80.1,653.7 L82.1,653.5 L84.1,653.2 L86.1,652.9 L88.1,652.7 L90.1,652.4 L92.1,652.2 L94.1,651.9 L96.2,651.7 L98.2,651.5 L100.2,651.2 L102.2,651 L104.2,650.8 L106.2,650.6 L108.2,650.4 L110.2,650.2 L112.3,650 L114.3,649.8 L116.3,649.7 L118.3,649.5 L120.3,649.3 L122.4,649.2 L124.4,649 L126.4,648.8 L128.4,648.7 L130.4,648.5 L132.5,648.4 L134.5,648.3 L136.5,648.1 L138.5,648 L140.5,647.9 L142.6,647.7 L144.6,647.6 L146.6,647.5 L148.6,647.4 L150.6,647.2 L152.7,647.1 L154.7,647 L156.7,646.9 L158.7,646.8 L160.8,646.6 L162.8,646.5 L164.8,646.4 L166.8,646.3 L168.8,646.1 L170.9,646 L172.9,645.9 L174.9,645.7 L176.9,645.6 L178.9,645.4 L181,645.3 L183,645.1 L185,645 L187,644.8 L189,644.6 L191,644.5 L193.1,644.3 L195.1,644.1 L197.1,643.9 L199.1,643.7 L201.1,643.5 L203.1,643.3 L205.2,643.1 L207.2,642.9 L209.2,642.7 L211.2,642.5 L213.2,642.3 L215.2,642.1 L217.2,641.9 L219.3,641.7 L221.3,641.4 L223.3,641.2 L225.3,641 L227.3,640.8 L229.3,640.6 L231.3,640.3 L233.3,640.1 L235.4,639.9 L237.4,639.7 L239.4,639.4 L241.4,639.2 L243.4,639 L245.4,638.8 L247.4,638.5 L249.4,638.3 L251.5,638.1 L253.5,637.9 L255.5,637.6 L257.5,637.4 L259.5,637.2 L261.5,637 L263.5,636.8 L265.6,636.6 L267.6,636.3 L269.6,636.1 L271.6,635.9 L273.6,635.7 L275.6,635.5 L277.6,635.3 L279.7,635.1 L281.7,634.8 L283.7,634.6 L285.7,634.4 L287.7,634.2 L289.7,634 L291.7,633.8 L293.8,633.6 L295.8,633.4 L297.8,633.2 L299.8,633 L301.8,632.8 L303.8,632.6 L305.8,632.3 L307.9,632.1 L309.9,631.9 L311.9,631.7 L313.9,631.5 L315.9,631.3 L317.9,631.1 L319.9,630.9 L322,630.7 L324,630.5 L326,630.3 L328,630.1" fill="none" stroke="#1010f5" stroke-width="1.8" stroke-linejoin="round"/>
<path d="M28.2,493.3 L29.3,491.6 L30.4,489.9 L31.5,488.2 L32.6,486.5 L33.7,484.8 L34.8,483.1 L35.9,481.4 L37,479.7 L38.1,478 L39.2,476.3 L40.3,474.6 L41.4,472.9 L42.5,471.2 L43.6,469.5 L44.8,467.8 L45.9,466.1 L47,464.4 L48.1,462.7 L49.3,461 L50.4,459.4 L51.5,457.7 L52.7,456 L53.9,454.4 L55,452.7 L56.2,451.1 L57.4,449.4 L58.6,447.8 L59.8,446.1 L61,444.5 L62.2,442.9 L63.5,441.3 L64.7,439.7 L66,438.1 L67.3,436.6 L68.6,435 L69.9,433.4 L71.2,431.9 L72.5,430.4 L73.8,428.8 L75.2,427.3 L76.5,425.8 L77.9,424.3 L79.3,422.8 L80.6,421.3 L82,419.9 L83.4,418.4 L84.8,416.9 L86.3,415.5 L87.7,414.1 L89.1,412.6 L90.6,411.2 L92.1,409.8 L93.5,408.4 L95,407 L96.5,405.6 L98,404.3 L99.5,402.9 L101,401.6 L102.5,400.2 L104.1,398.9 L105.6,397.6 L107.2,396.3 L108.7,395 L110.3,393.7 L111.9,392.5 L113.5,391.2 L115.1,390 L116.7,388.8 L118.4,387.6 L120,386.4 L121.7,385.2 L123.3,384.1 L125,382.9 L126.6,381.7 L128.3,380.6 L130,379.4 L131.6,378.3 L133.3,377.1 L135,376" fill="none" stroke="#1010f5" stroke-width="1.8" stroke-linejoin="round"/>
<path d="M113.1,377 L113.3,379 L113.6,381 L113.9,383 L114.1,385 L114.4,387 L114.6,389 L114.9,391 L115.2,393 L115.4,395 L115.7,397 L115.9,399 L116.2,401 L116.5,403 L116.7,405 L117,407 L117.3,409 L117.6,411 L117.8,413 L118.1,415 L118.4,417 L118.7,419 L118.9,421 L119.2,423 L119.5,425 L119.8,427 L120.1,429 L120.4,431 L120.7,433 L121,435 L121.3,437 L121.6,439 L121.9,441 L122.2,443 L122.5,445 L122.9,447 L123.2,449 L123.5,451 L123.8,453 L124.2,455 L124.5,456.9 L124.9,458.9 L125.2,460.9 L125.6,462.9 L125.9,464.9 L126.3,466.9 L126.7,468.9 L127.1,470.8 L127.5,472.8 L127.9,474.8 L128.3,476.8 L128.7,478.7 L129.1,480.7 L129.5,482.7 L129.9,484.7 L130.4,486.6 L130.8,488.6 L131.3,490.6 L131.7,492.6 L132.2,494.5 L132.6,496.5 L133.1,498.5 L133.5,500.4 L134,502.4 L134.5,504.4 L134.9,506.3 L135.4,508.3 L135.9,510.3 L136.3,512.2 L136.8,514.2 L137.3,516.1 L137.8,518.1 L138.3,520.1 L138.8,522 L139.3,524 L139.8,525.9 L140.4,527.9 L140.9,529.8 L141.4,531.8 L142,533.7 L142.5,535.7 L143.1,537.6 L143.6,539.5 L144.2,541.5 L144.8,543.4 L145.4,545.3 L146,547.3 L146.6,549.2 L147.3,551.1 L147.9,553 L148.6,554.9 L149.2,556.8 L149.9,558.7 L150.7,560.6 L151.4,562.5 L152.1,564.3 L152.9,566.2 L153.7,568.1 L154.4,569.9 L155.3,571.8 L156.1,573.6 L156.9,575.5 L157.8,577.3 L158.6,579.1 L159.5,581 L160.4,582.8 L161.3,584.6 L162.3,586.4 L163.2,588.2 L164.1,590 L165.1,591.7 L166.1,593.5 L167.1,595.3 L168.1,597 L169.1,598.8 L170.2,600.5 L171.2,602.3 L172.3,604 L173.4,605.7 L174.5,607.4 L175.6,609.1 L176.8,610.7 L177.9,612.4 L179.1,614 L180.3,615.6 L181.6,617.2 L182.8,618.8 L184.1,620.4 L185.4,621.9 L186.7,623.4 L188,624.9 L189.4,626.4 L190.8,627.8 L192.3,629.2 L193.7,630.6 L195.2,631.9 L196.7,633.2 L198.3,634.4 L199.9,635.6 L201.5,636.8 L203.1,638 L204.8,639.1 L206.5,640.2 L208.2,641.3 L209.9,642.3 L211.6,643.3 L213.4,644.3 L215.2,645.2 L217,646.1 L218.8,647 L220.6,647.8 L222.5,648.6 L224.4,649.4 L226.2,650.1 L228.1,650.8 L230,651.5 L231.9,652.2 L233.8,652.8 L235.8,653.4 L237.7,654 L239.7,654.5 L241.6,655 L243.6,655.5 L245.5,656 L247.5,656.4 L249.5,656.9 L251.5,657.3 L253.5,657.7 L255.5,658.1 L257.5,658.4 L259.5,658.7 L261.5,659.1 L263.5,659.4 L265.5,659.7 L267.5,660 L269.5,660.2 L271.5,660.5 L273.6,660.7 L275.6,661 L277.6,661.2 L279.6,661.4 L281.6,661.7 L283.7,661.9 L285.7,662.1 L287.7,662.3 L289.7,662.5 L291.7,662.7 L293.7,662.8 L295.8,663 L297.8,663.2 L299.8,663.3 L301.8,663.5 L303.8,663.7 L305.8,663.8 L307.9,664 L309.9,664.1 L311.9,664.3 L313.9,664.4 L315.9,664.6 L317.9,664.7 L319.9,664.8 L322,665 L324,665.1 L326,665.2 L328,665.4" fill="none" stroke="#ff0a0a" stroke-width="1.8" stroke-linejoin="round"/>
<path d="M126.7,377 L126.9,379 L127.2,381 L127.5,383 L127.7,385 L128,387 L128.3,389 L128.5,391 L128.8,392.9 L129.1,394.9 L129.3,396.9 L129.6,398.9 L129.8,400.9 L130.1,402.9 L130.4,404.9 L130.6,406.9 L130.9,408.9 L131.2,410.9 L131.5,412.9 L131.7,414.9 L132,416.9 L132.3,418.9 L132.5,420.8 L132.8,422.8 L133.1,424.8 L133.4,426.8 L133.7,428.8 L133.9,430.8 L134.2,432.8 L134.5,434.8 L134.8,436.8 L135.1,438.8 L135.4,440.7 L135.7,442.7 L136,444.7 L136.3,446.7 L136.6,448.7 L137,450.7 L137.3,452.7 L137.6,454.6 L138,456.6 L138.3,458.6 L138.7,460.6 L139.1,462.5 L139.4,464.5 L139.8,466.5 L140.2,468.5 L140.6,470.4 L141,472.4 L141.4,474.4 L141.9,476.3 L142.3,478.3 L142.7,480.2 L143.2,482.2 L143.6,484.2 L144.1,486.1 L144.5,488.1 L145,490 L145.5,492 L146,493.9 L146.4,495.9 L146.9,497.9 L147.4,499.8 L147.9,501.8 L148.4,503.7 L148.9,505.7 L149.4,507.6 L149.9,509.5 L150.4,511.5 L150.9,513.4 L151.5,515.4 L152,517.3 L152.5,519.3 L153,521.2 L153.6,523.2 L154.1,525.1 L154.6,527 L155.2,529 L155.7,530.9 L156.3,532.8 L156.9,534.8 L157.4,536.7 L158,538.6 L158.6,540.6 L159.2,542.5 L159.8,544.4 L160.4,546.3 L161,548.2 L161.6,550.1 L162.3,552 L162.9,553.9 L163.6,555.8 L164.3,557.7 L165,559.6 L165.8,561.4 L166.5,563.3 L167.3,565.2 L168.1,567 L168.9,568.9 L169.7,570.7 L170.5,572.5 L171.4,574.3 L172.3,576.1 L173.2,577.9 L174.1,579.7 L175,581.5 L175.9,583.3 L176.9,585 L177.9,586.8 L178.9,588.5 L179.9,590.3 L180.9,592 L182,593.7 L183.1,595.4 L184.1,597.1 L185.3,598.8 L186.4,600.5 L187.5,602.1 L188.7,603.8 L189.8,605.4 L191,607.1 L192.2,608.7 L193.4,610.3 L194.7,611.9 L195.9,613.4 L197.2,615 L198.5,616.6 L199.8,618.1 L201.1,619.6 L202.5,621.1 L203.8,622.5 L205.2,624 L206.6,625.4 L208.1,626.8 L209.5,628.2 L211,629.6 L212.5,630.9 L214,632.2 L215.6,633.5 L217.1,634.7 L218.7,635.9 L220.3,637.1 L222,638.3 L223.6,639.4 L225.3,640.5 L227,641.5 L228.7,642.6 L230.4,643.6 L232.2,644.5 L234,645.5 L235.7,646.4 L237.5,647.2 L239.4,648.1 L241.2,648.9 L243,649.7 L244.9,650.4 L246.8,651.2 L248.7,651.9 L250.6,652.5 L252.5,653.2 L254.4,653.8 L256.3,654.3 L258.2,654.9 L260.2,655.4 L262.1,655.9 L264.1,656.3 L266,656.8 L268,657.2 L270,657.6 L272,658 L273.9,658.3 L275.9,658.7 L277.9,659 L279.9,659.3 L281.9,659.7 L283.9,660 L285.9,660.2 L287.9,660.5 L289.9,660.8 L291.9,661 L293.9,661.3 L295.9,661.5 L297.9,661.7 L299.9,661.9 L301.9,662.2 L303.9,662.4 L305.9,662.5 L307.9,662.7 L309.9,662.9 L311.9,663.1 L313.9,663.3 L315.9,663.5 L317.9,663.6 L319.9,663.8 L321.9,663.9 L324,664.1 L326,664.3 L328,664.4" fill="none" stroke="#ff0a0a" stroke-width="1.8" stroke-linejoin="round"/>
<path d="M28.3,606.5 L29.3,604.8 L30.3,603 L31.3,601.3 L32.3,599.5 L33.4,597.7 L34.4,596 L35.4,594.2 L36.4,592.5 L37.4,590.7 L38.4,588.9 L39.4,587.2 L40.4,585.4 L41.4,583.7 L42.4,581.9 L43.4,580.1 L44.4,578.3 L45.4,576.6 L46.4,574.8 L47.4,573 L48.4,571.2 L49.3,569.5 L50.3,567.7 L51.3,565.9 L52.2,564.1 L53.2,562.3 L54.1,560.5 L55.1,558.7 L56,556.9 L56.9,555.1 L57.9,553.3 L58.8,551.5 L59.7,549.7 L60.6,547.9 L61.5,546 L62.4,544.2 L63.3,542.4 L64.2,540.6 L65.1,538.7 L66,536.9 L66.8,535.1 L67.7,533.2 L68.6,531.4 L69.4,529.6 L70.3,527.7 L71.2,525.9 L72,524 L72.9,522.2 L73.7,520.3 L74.5,518.5 L75.4,516.6 L76.2,514.8 L77.1,512.9 L77.9,511.1 L78.7,509.2 L79.5,507.4 L80.4,505.5 L81.2,503.7 L82,501.8 L82.8,499.9 L83.6,498.1 L84.4,496.2 L85.2,494.4 L86.1,492.5 L86.9,490.6 L87.6,488.8 L88.4,486.9 L89.2,485 L90,483.1 L90.8,481.3 L91.6,479.4 L92.3,477.5 L93.1,475.6 L93.9,473.7 L94.6,471.9 L95.4,470 L96.2,468.1 L96.9,466.2 L97.6,464.3 L98.4,462.4 L99.1,460.5 L99.9,458.6 L100.6,456.7 L101.3,454.9 L102,453 L102.8,451.1 L103.5,449.2 L104.2,447.3 L104.9,445.4 L105.6,443.5 L106.3,441.6 L107,439.6 L107.8,437.7 L108.5,435.8 L109.2,433.9 L109.9,432 L110.6,430.1 L111.3,428.2 L111.9,426.3 L112.6,424.4 L113.3,422.5 L114,420.6 L114.7,418.7 L115.4,416.7 L116.1,414.8 L116.8,412.9 L117.4,411 L118.1,409.1 L118.8,407.2 L119.5,405.3 L120.2,403.4 L120.8,401.4 L121.5,399.5 L122.2,397.6 L122.9,395.7 L123.5,393.8 L124.2,391.9 L124.9,389.9 L125.5,388 L126.2,386.1 L126.9,384.2 L127.5,382.3 L128.2,380.4 L128.9,378.4 L129.5,376.5" fill="none" stroke="#111111" stroke-width="2.0" stroke-linejoin="round" stroke-dasharray="5.2 1.6 1.3 1.6" stroke-dashoffset="0"/>
<path d="M28.2,669.3 L30.2,668.7 L32.1,668.2 L34.1,667.7 L36,667.1 L38,666.6 L39.9,666 L41.8,665.5 L43.8,664.9 L45.7,664.4 L47.7,663.8 L49.6,663.2 L51.5,662.7 L53.5,662.1 L55.4,661.5 L57.3,660.9 L59.3,660.4 L61.2,659.8 L63.1,659.2 L65.1,658.6 L67,657.9 L68.9,657.3 L70.8,656.7 L72.7,656.1 L74.6,655.4 L76.6,654.8 L78.5,654.1 L80.4,653.4 L82.3,652.7 L84.2,652.1 L86.1,651.4 L87.9,650.7 L89.8,649.9 L91.7,649.2 L93.6,648.5 L95.5,647.7 L97.4,647 L99.2,646.2 L101.1,645.5 L103,644.7 L104.8,643.9 L106.7,643.1 L108.5,642.3 L110.4,641.5 L112.2,640.7 L114.1,639.9 L115.9,639 L117.8,638.2 L119.6,637.4 L121.4,636.5 L123.2,635.6 L125.1,634.8 L126.9,633.9 L128.7,633 L130.5,632.1 L132.3,631.2 L134.1,630.3 L135.9,629.4 L137.7,628.5 L139.5,627.6 L141.3,626.7 L143.1,625.7 L144.9,624.8 L146.7,623.8 L148.4,622.9 L150.2,621.9 L152,620.9 L153.7,619.9 L155.5,618.9 L157.2,617.9 L159,616.9 L160.7,615.9 L162.5,614.9 L164.2,613.9 L166,612.8 L167.7,611.8 L169.4,610.8 L171.2,609.7 L172.9,608.7 L174.6,607.6 L176.3,606.6 L178,605.5 L179.7,604.4 L181.5,603.3 L183.2,602.3 L184.9,601.2 L186.6,600.1 L188.3,599 L190,597.9 L191.7,596.9 L193.4,595.8 L195.1,594.7 L196.8,593.6 L198.5,592.5 L200.1,591.3 L201.8,590.2 L203.5,589.1 L205.2,588 L206.9,586.9 L208.5,585.8 L210.2,584.6 L211.9,583.5 L213.6,582.4 L215.2,581.2 L216.9,580.1 L218.6,578.9 L220.2,577.8 L221.9,576.6 L223.5,575.5 L225.2,574.3 L226.8,573.1 L228.5,572 L230.1,570.8 L231.7,569.6 L233.4,568.4 L235,567.2 L236.6,566 L238.2,564.8 L239.8,563.6 L241.4,562.4 L243,561.1 L244.6,559.9 L246.2,558.7 L247.8,557.4 L249.4,556.2 L251,554.9 L252.6,553.7 L254.1,552.4 L255.7,551.1 L257.3,549.9 L258.8,548.6 L260.4,547.3 L262,546 L263.5,544.8 L265.1,543.5 L266.6,542.2 L268.2,540.9 L269.7,539.6 L271.3,538.3 L272.8,537 L274.4,535.7 L275.9,534.4 L277.5,533.1 L279,531.8 L280.5,530.5 L282.1,529.2 L283.6,527.9 L285.2,526.6 L286.7,525.3 L288.2,523.9 L289.8,522.6 L291.3,521.3 L292.8,520 L294.4,518.7 L295.9,517.4 L297.4,516.1 L299,514.8 L300.5,513.4 L302,512.1 L303.6,510.8 L305.1,509.5 L306.6,508.2 L308.1,506.9 L309.7,505.5 L311.2,504.2 L312.7,502.9 L314.3,501.6 L315.8,500.3 L317.3,498.9 L318.8,497.6 L320.4,496.3 L321.9,495 L323.4,493.7 L325,492.3 L326.5,491 L328,489.7" fill="none" stroke="#111111" stroke-width="2.0" stroke-linejoin="round" stroke-dasharray="9.6 9.1" stroke-dashoffset="18.2"/>
</g>
<text x="52.1" y="415.3" class="pl" style="fill:#1010f5;stroke:#1010f5">r=10<tspan class="sp" dy="-4.2">&#8722;3</tspan></text>
<text x="42" y="514.2" class="pl" style="fill:#111111;stroke:#111111"><tspan class="it">h</tspan><tspan class="sb" dy="2.2">0</tspan><tspan dy="-2.2">=0.2</tspan></text>
<text x="107" y="534.8" class="pl" style="fill:#ff0a0a;stroke:#ff0a0a"><tspan class="it">N</tspan><tspan class="st" dx="-0.2" dy="1.6">&#8226;</tspan><tspan dx="1.1" dy="-1.6">=50</tspan></text>
<text x="160.9" y="534.8" class="pl" style="fill:#ff0a0a;stroke:#ff0a0a"><tspan class="it">N</tspan><tspan class="st" dx="-0.2" dy="1.6">&#8226;</tspan><tspan dx="1.1" dy="-1.6">=60</tspan></text>
<text x="256.9" y="520.5" class="pl" style="fill:#111111;stroke:#111111"><tspan class="it">h</tspan><tspan class="sb" dy="2.2">0</tspan><tspan dy="-2.2">=0.5</tspan></text>
<text x="261.5" y="581.3" class="pl" style="fill:#1010f5;stroke:#1010f5">r=10<tspan class="sp" dy="-4.2">&#8722;2</tspan></text>
<text x="261.5" y="650.5" class="pl" style="fill:#1010f5;stroke:#1010f5">r=10<tspan class="sp" dy="-4.2">&#8722;1</tspan></text>
<rect x="228.9" y="397.1" width="79.5" height="61.7" rx="6" ry="6" fill="#fff" stroke="#222" stroke-width="1.3"/>
<rect x="236.1" y="405.8" width="14.2" height="9.2" fill="#a9f5a9" stroke="#cfcfcf" stroke-width="0.5"/>
<text x="256.3" y="413.6" class="lg">1<tspan class="it">&#963;</tspan></text>
<rect x="236.1" y="422.7" width="14.2" height="9.2" fill="#fdfdae" stroke="#cfcfcf" stroke-width="0.5"/>
<text x="256.3" y="430.5" class="lg">2<tspan class="it">&#963;</tspan></text>
<rect x="236.1" y="439.1" width="14.2" height="9.4" fill="#d8d8d8" stroke="#cfcfcf" stroke-width="0.5"/>
<text x="256.3" y="447" class="lg">|<tspan class="it">&#981;</tspan><tspan class="st" dy="1.6">&#8226;</tspan><tspan dy="-1.6">&#8722;</tspan><tspan class="it">&#981;</tspan><tspan class="sb" dy="2">0</tspan><tspan dy="-2">|&gt;1</tspan></text>
<rect x="28.2" y="380.2" width="298.3" height="298.1" fill="none" stroke="#5a5a5a" stroke-width="1.1"/>
<path d="M28.2,678.3 v-4 M28.2,380.2 v4 M77.9,678.3 v-4 M77.9,380.2 v4 M127.6,678.3 v-4 M127.6,380.2 v4 M177.3,678.3 v-4 M177.3,380.2 v4 M227.1,678.3 v-4 M227.1,380.2 v4 M276.8,678.3 v-4 M276.8,380.2 v4 M326.5,678.3 v-4 M326.5,380.2 v4 M38.1,678.3 v-2.3 M38.1,380.2 v2.3 M48.1,678.3 v-2.3 M48.1,380.2 v2.3 M58,678.3 v-2.3 M58,380.2 v2.3 M68,678.3 v-2.3 M68,380.2 v2.3 M87.9,678.3 v-2.3 M87.9,380.2 v2.3 M97.8,678.3 v-2.3 M97.8,380.2 v2.3 M107.7,678.3 v-2.3 M107.7,380.2 v2.3 M117.7,678.3 v-2.3 M117.7,380.2 v2.3 M137.6,678.3 v-2.3 M137.6,380.2 v2.3 M147.5,678.3 v-2.3 M147.5,380.2 v2.3 M157.5,678.3 v-2.3 M157.5,380.2 v2.3 M167.4,678.3 v-2.3 M167.4,380.2 v2.3 M187.3,678.3 v-2.3 M187.3,380.2 v2.3 M197.2,678.3 v-2.3 M197.2,380.2 v2.3 M207.2,678.3 v-2.3 M207.2,380.2 v2.3 M217.1,678.3 v-2.3 M217.1,380.2 v2.3 M237,678.3 v-2.3 M237,380.2 v2.3 M247,678.3 v-2.3 M247,380.2 v2.3 M256.9,678.3 v-2.3 M256.9,380.2 v2.3 M266.8,678.3 v-2.3 M266.8,380.2 v2.3 M286.7,678.3 v-2.3 M286.7,380.2 v2.3 M296.7,678.3 v-2.3 M296.7,380.2 v2.3 M306.6,678.3 v-2.3 M306.6,380.2 v2.3 M316.6,678.3 v-2.3 M316.6,380.2 v2.3 M28.2,621.1 h4 M326.5,621.1 h-4 M28.2,560.9 h4 M326.5,560.9 h-4 M28.2,500.6 h4 M326.5,500.6 h-4 M28.2,440.4 h4 M326.5,440.4 h-4 M28.2,380.2 h4 M326.5,380.2 h-4 M28.2,666.3 h2.3 M326.5,666.3 h-2.3 M28.2,651.2 h2.3 M326.5,651.2 h-2.3 M28.2,636.1 h2.3 M326.5,636.1 h-2.3 M28.2,606 h2.3 M326.5,606 h-2.3 M28.2,591 h2.3 M326.5,591 h-2.3 M28.2,575.9 h2.3 M326.5,575.9 h-2.3 M28.2,545.8 h2.3 M326.5,545.8 h-2.3 M28.2,530.8 h2.3 M326.5,530.8 h-2.3 M28.2,515.7 h2.3 M326.5,515.7 h-2.3 M28.2,485.6 h2.3 M326.5,485.6 h-2.3 M28.2,470.5 h2.3 M326.5,470.5 h-2.3 M28.2,455.5 h2.3 M326.5,455.5 h-2.3 M28.2,425.4 h2.3 M326.5,425.4 h-2.3 M28.2,410.3 h2.3 M326.5,410.3 h-2.3 M28.2,395.3 h2.3 M326.5,395.3 h-2.3" stroke="#5a5a5a" stroke-width="0.9" fill="none"/>
<text transform="translate(28.2,688.7) scale(0.86,1)" class="tk" text-anchor="middle">1.0</text>
<text transform="translate(77.9,688.7) scale(0.86,1)" class="tk" text-anchor="middle">1.5</text>
<text transform="translate(127.6,688.7) scale(0.86,1)" class="tk" text-anchor="middle">2.0</text>
<text transform="translate(177.3,688.7) scale(0.86,1)" class="tk" text-anchor="middle">2.5</text>
<text transform="translate(227.1,688.7) scale(0.86,1)" class="tk" text-anchor="middle">3.0</text>
<text transform="translate(276.8,688.7) scale(0.86,1)" class="tk" text-anchor="middle">3.5</text>
<text transform="translate(326.5,688.7) scale(0.86,1)" class="tk" text-anchor="middle">4.0</text>
<text transform="translate(25.2,624.3) scale(0.86,1)" class="tk" text-anchor="end">20</text>
<text transform="translate(25.2,564.1) scale(0.86,1)" class="tk" text-anchor="end">40</text>
<text transform="translate(25.2,503.8) scale(0.86,1)" class="tk" text-anchor="end">60</text>
<text transform="translate(25.2,443.6) scale(0.86,1)" class="tk" text-anchor="end">80</text>
<text transform="translate(25.2,383.4) scale(0.86,1)" class="tk" text-anchor="end">100</text>
<line x1="429.6" y1="380.1" x2="429.6" y2="677.8" stroke="#e3e3e3" stroke-width="0.9"/>
<line x1="479.3" y1="380.1" x2="479.3" y2="677.8" stroke="#e3e3e3" stroke-width="0.9"/>
<line x1="529" y1="380.1" x2="529" y2="677.8" stroke="#e3e3e3" stroke-width="0.9"/>
<line x1="578.8" y1="380.1" x2="578.8" y2="677.8" stroke="#e3e3e3" stroke-width="0.9"/>
<line x1="628.5" y1="380.1" x2="628.5" y2="677.8" stroke="#e3e3e3" stroke-width="0.9"/>
<line x1="379.8" y1="639" x2="678.3" y2="639" stroke="#e3e3e3" stroke-width="0.9"/>
<line x1="379.8" y1="587.2" x2="678.3" y2="587.2" stroke="#e3e3e3" stroke-width="0.9"/>
<line x1="379.8" y1="535.4" x2="678.3" y2="535.4" stroke="#e3e3e3" stroke-width="0.9"/>
<line x1="379.8" y1="483.6" x2="678.3" y2="483.6" stroke="#e3e3e3" stroke-width="0.9"/>
<line x1="379.8" y1="431.9" x2="678.3" y2="431.9" stroke="#e3e3e3" stroke-width="0.9"/>
<g clip-path="url(#clip4)">
<path d="M571.1,377 L570.9,379 L570.8,381 L570.6,383 L570.4,385 L570.2,387 L570,389 L569.8,391 L569.6,393.1 L569.4,395.1 L569.2,397.1 L569,399.1 L568.8,401.1 L568.6,403.1 L568.4,405.1 L568.2,407.1 L568,409.1 L567.7,411.1 L567.5,413.1 L567.3,415.1 L567.1,417.1 L566.8,419.1 L566.6,421.1 L566.3,423.1 L566.1,425.1 L565.8,427.1 L565.5,429.1 L565.2,431.1 L564.9,433.1 L564.6,435.1 L564.3,437.1 L564,439 L563.7,441 L563.3,443 L563,445 L562.6,447 L562.3,448.9 L561.9,450.9 L561.5,452.9 L561.1,454.9 L560.7,456.8 L560.3,458.8 L559.9,460.8 L559.4,462.7 L559,464.7 L558.5,466.7 L558.1,468.6 L557.6,470.6 L557.1,472.5 L556.7,474.5 L556.2,476.5 L555.7,478.4 L555.2,480.4 L554.6,482.3 L554.1,484.2 L553.6,486.2 L553.1,488.1 L552.5,490.1 L552,492 L551.5,494 L550.9,495.9 L550.4,497.8 L549.9,499.8 L549.4,501.7 L548.8,503.7 L548.3,505.6 L547.8,507.6 L547.3,509.5 L546.8,511.5 L546.4,513.4 L545.9,515.4 L545.4,517.3 L545,519.3 L544.6,521.3 L544.1,523.2 L543.7,525.2 L543.3,527.2 L542.8,529.1 L542.4,531.1 L541.9,533.1 L541.5,535 L541,537 L540.6,538.9 L540.1,540.9 L539.6,542.8 L539.1,544.8 L538.6,546.7 L538.1,548.6 L537.5,550.6 L536.9,552.5 L536.4,554.4 L535.8,556.3 L535.1,558.2 L534.5,560.1 L533.9,562.1 L533.2,564 L532.6,565.9 L531.9,567.8 L531.2,569.7 L530.5,571.6 L529.9,573.5 L529.2,575.4 L528.5,577.2 L527.8,579.1 L527.1,581 L526.4,582.9 L525.8,584.8 L525.1,586.7 L524.4,588.6 L523.7,590.5 L523,592.4 L522.3,594.4 L521.6,596.3 L520.9,598.2 L520.2,600.1 L519.5,602 L518.8,603.9 L518.1,605.8 L517.4,607.7 L516.7,609.5 L516,611.4 L515.2,613.3 L514.5,615.2 L513.7,617 L512.9,618.9 L512.1,620.7 L511.3,622.5 L510.4,624.4 L509.5,626.2 L508.6,627.9 L507.7,629.7 L506.7,631.4 L505.7,633.2 L504.6,634.9 L503.6,636.6 L502.5,638.2 L501.3,639.9 L500.2,641.5 L499,643.1 L497.8,644.7 L496.5,646.2 L495.3,647.8 L494,649.3 L492.6,650.8 L491.3,652.3 L489.9,653.7 L488.5,655.2 L487.1,656.6 L485.6,657.9 L484.2,659.3 L482.7,660.6 L481.2,662 L479.6,663.3 L478.1,664.5 L476.5,665.8 L474.9,667.1 L473.3,668.3 L471.7,669.5 L470.1,670.7 L468.5,671.9 L466.8,673.1 L465.2,674.3 L463.6,675.5 L461.9,676.7 L460.2,677.8 L458.6,679 L456.9,680.2 L455.2,681.3 L682,681 L682,377 Z" fill="rgba(100,102,104,0.24)" stroke="none"/>
<path d="M474,377 L474.2,379 L474.4,381 L474.5,383 L474.7,385 L474.9,387 L475.1,389.1 L475.3,391.1 L475.4,393.1 L475.6,395.1 L475.8,397.1 L476,399.1 L476.2,401.1 L476.4,403.1 L476.6,405.1 L476.8,407.1 L477,409.1 L477.2,411.1 L477.4,413.1 L477.7,415.1 L477.9,417.1 L478.1,419.1 L478.4,421.1 L478.6,423.1 L478.9,425.1 L479.2,427.1 L479.5,429.1 L479.7,431.1 L480,433.1 L480.3,435.1 L480.6,437.1 L481,439.1 L481.3,441.1 L481.6,443.1 L481.9,445.1 L482.3,447.1 L482.6,449 L483,451 L483.3,453 L483.7,455 L484.1,457 L484.4,459 L484.8,460.9 L485.2,462.9 L485.6,464.9 L486,466.9 L486.3,468.9 L486.7,470.8 L487.1,472.8 L487.5,474.8 L488,476.8 L488.4,478.7 L488.8,480.7 L489.2,482.7 L489.6,484.7 L490,486.6 L490.5,488.6 L490.9,490.6 L491.3,492.5 L491.8,494.5 L492.2,496.5 L492.7,498.5 L493.1,500.4 L493.6,502.4 L494,504.4 L494.5,506.3 L494.9,508.3 L495.4,510.3 L495.8,512.2 L496.3,514.2 L496.8,516.1 L497.2,518.1 L497.7,520.1 L498.2,522 L498.7,524 L499.2,525.9 L499.7,527.9 L500.2,529.8 L500.7,531.8 L501.2,533.7 L501.8,535.7 L502.3,537.6 L502.9,539.5 L503.5,541.5 L504.1,543.4 L504.7,545.3 L505.3,547.2 L506,549.1 L506.6,551 L507.3,552.9 L508,554.8 L508.7,556.7 L509.5,558.6 L510.2,560.4 L511,562.3 L511.8,564.1 L512.6,566 L513.4,567.8 L514.3,569.7 L515.2,571.5 L516,573.3 L516.9,575.2 L517.8,577 L518.8,578.8 L519.7,580.6 L520.7,582.4 L521.7,584.1 L522.7,585.9 L523.7,587.7 L524.8,589.4 L525.8,591.2 L526.9,592.9 L528,594.6 L529.2,596.3 L530.3,598 L531.5,599.6 L532.7,601.3 L533.9,602.9 L535.2,604.5 L536.4,606.1 L537.7,607.6 L539.1,609.1 L540.4,610.6 L541.8,612.1 L543.2,613.5 L544.7,614.9 L546.1,616.2 L547.6,617.5 L549.2,618.8 L550.7,620 L552.3,621.2 L554,622.4 L555.6,623.5 L557.3,624.5 L559,625.5 L560.7,626.5 L562.5,627.5 L564.3,628.3 L566.1,629.2 L567.9,630 L569.7,630.7 L571.6,631.4 L573.5,632.1 L575.4,632.7 L577.3,633.3 L579.2,633.8 L581.2,634.3 L583.1,634.7 L585.1,635.2 L587.1,635.5 L589.1,635.9 L591.1,636.2 L593.1,636.5 L595.1,636.8 L597.1,637 L599.1,637.2 L601.1,637.4 L603.2,637.6 L605.2,637.8 L607.2,637.9 L609.2,638 L611.3,638.2 L613.3,638.3 L615.3,638.3 L617.3,638.4 L619.4,638.5 L621.4,638.5 L623.4,638.6 L625.5,638.6 L627.5,638.6 L629.5,638.7 L631.5,638.7 L633.6,638.7 L635.6,638.7 L637.6,638.7 L639.6,638.7 L641.7,638.7 L643.7,638.7 L645.7,638.7 L647.7,638.7 L649.8,638.7 L651.8,638.7 L653.8,638.7 L655.8,638.7 L657.8,638.7 L659.8,638.7 L661.9,638.7 L663.9,638.7 L665.9,638.7 L667.9,638.7 L669.9,638.7 L671.9,638.6 L674,638.6 L676,638.6 L678,638.6 L680,638.6 L680,620.4 L677.9,620.2 L675.9,620.1 L673.9,620 L671.9,619.9 L669.8,619.8 L667.8,619.6 L665.8,619.5 L663.8,619.3 L661.8,619.1 L659.8,619 L657.8,618.8 L655.7,618.6 L653.7,618.3 L651.7,618.1 L649.7,617.8 L647.7,617.5 L645.7,617.2 L643.7,616.9 L641.8,616.5 L639.8,616.1 L637.8,615.7 L635.8,615.3 L633.9,614.8 L631.9,614.3 L630,613.8 L628,613.2 L626.1,612.6 L624.2,612 L622.3,611.4 L620.4,610.7 L618.5,610 L616.6,609.3 L614.8,608.5 L612.9,607.7 L611.1,606.8 L609.3,605.9 L607.5,605 L605.7,604.1 L604,603.1 L602.2,602.1 L600.5,601.1 L598.8,600 L597.1,598.9 L595.5,597.7 L593.9,596.6 L592.2,595.3 L590.7,594.1 L589.1,592.8 L587.6,591.5 L586.1,590.2 L584.6,588.8 L583.2,587.4 L581.8,586 L580.4,584.5 L579.1,583.1 L577.7,581.5 L576.4,580 L575.2,578.4 L573.9,576.9 L572.7,575.3 L571.5,573.6 L570.3,572 L569.2,570.3 L568.1,568.6 L567,566.9 L565.9,565.2 L564.9,563.5 L563.9,561.7 L562.9,559.9 L562,558.1 L561,556.3 L560.1,554.5 L559.2,552.7 L558.4,550.9 L557.5,549.1 L556.7,547.2 L555.8,545.4 L555,543.5 L554.2,541.7 L553.5,539.8 L552.7,537.9 L552,536.1 L551.2,534.2 L550.5,532.3 L549.8,530.4 L549.1,528.5 L548.4,526.6 L547.7,524.7 L547.1,522.8 L546.4,520.9 L545.8,519 L545.2,517.1 L544.6,515.1 L544,513.2 L543.4,511.3 L542.8,509.4 L542.2,507.4 L541.6,505.5 L541.1,503.6 L540.5,501.6 L539.9,499.7 L539.4,497.7 L538.9,495.8 L538.4,493.8 L537.8,491.9 L537.3,489.9 L536.8,488 L536.4,486 L535.9,484.1 L535.4,482.1 L535,480.2 L534.5,478.2 L534.1,476.2 L533.6,474.3 L533.2,472.3 L532.8,470.3 L532.4,468.3 L532,466.4 L531.6,464.4 L531.2,462.4 L530.8,460.4 L530.4,458.5 L530,456.5 L529.7,454.5 L529.3,452.5 L529,450.5 L528.6,448.5 L528.3,446.6 L527.9,444.6 L527.6,442.6 L527.3,440.6 L526.9,438.6 L526.6,436.6 L526.3,434.6 L525.9,432.6 L525.6,430.7 L525.3,428.7 L525,426.7 L524.6,424.7 L524.3,422.7 L524,420.7 L523.6,418.7 L523.3,416.7 L523,414.8 L522.6,412.8 L522.3,410.8 L522,408.8 L521.6,406.8 L521.3,404.8 L521,402.8 L520.6,400.8 L520.3,398.9 L519.9,396.9 L519.6,394.9 L519.3,392.9 L518.9,390.9 L518.6,388.9 L518.2,386.9 L517.9,385 L517.6,383 L517.2,381 L516.9,379 L516.5,377 Z" fill="rgba(255,243,0,0.325)" stroke="none"/>
<path d="M481.8,377 L482,379 L482.3,381 L482.5,383 L482.7,385 L483,387 L483.2,389 L483.4,391 L483.7,393 L483.9,395 L484.1,397 L484.4,399 L484.6,401 L484.9,403 L485.1,405 L485.4,407 L485.6,409 L485.9,411 L486.1,413 L486.4,414.9 L486.6,416.9 L486.9,418.9 L487.2,420.9 L487.5,422.9 L487.8,424.9 L488,426.9 L488.3,428.9 L488.6,430.9 L488.9,432.9 L489.2,434.9 L489.5,436.8 L489.9,438.8 L490.2,440.8 L490.5,442.8 L490.8,444.8 L491.2,446.8 L491.5,448.7 L491.9,450.7 L492.2,452.7 L492.6,454.7 L493,456.7 L493.3,458.6 L493.7,460.6 L494.1,462.6 L494.5,464.6 L494.8,466.5 L495.2,468.5 L495.6,470.5 L496,472.5 L496.5,474.4 L496.9,476.4 L497.3,478.4 L497.7,480.3 L498.1,482.3 L498.6,484.3 L499,486.2 L499.4,488.2 L499.9,490.1 L500.3,492.1 L500.8,494.1 L501.2,496 L501.7,498 L502.1,500 L502.6,501.9 L503.1,503.9 L503.5,505.8 L504,507.8 L504.5,509.7 L504.9,511.7 L505.4,513.7 L505.9,515.6 L506.4,517.6 L506.8,519.5 L507.3,521.5 L507.8,523.4 L508.3,525.4 L508.8,527.4 L509.3,529.3 L509.8,531.3 L510.3,533.2 L510.8,535.1 L511.4,537.1 L511.9,539 L512.5,541 L513,542.9 L513.6,544.8 L514.2,546.8 L514.8,548.7 L515.5,550.6 L516.1,552.5 L516.8,554.4 L517.4,556.3 L518.1,558.2 L518.8,560.1 L519.5,562 L520.3,563.9 L521.1,565.8 L521.8,567.6 L522.7,569.5 L523.5,571.3 L524.3,573.1 L525.2,574.9 L526.1,576.7 L527.1,578.5 L528,580.3 L529,582 L530.1,583.7 L531.1,585.4 L532.2,587.1 L533.4,588.8 L534.5,590.4 L535.7,592 L537,593.6 L538.2,595.1 L539.5,596.6 L540.9,598.1 L542.2,599.6 L543.6,601 L545,602.5 L546.5,603.8 L548,605.2 L549.5,606.6 L551,607.9 L552.5,609.1 L554.1,610.4 L555.7,611.6 L557.3,612.8 L558.9,614 L560.6,615.1 L562.3,616.2 L564,617.3 L565.7,618.3 L567.4,619.3 L569.2,620.2 L571,621.1 L572.8,622 L574.6,622.8 L576.4,623.6 L578.3,624.3 L580.2,625 L582.1,625.6 L584,626.3 L585.9,626.9 L587.8,627.4 L589.7,628 L591.7,628.5 L593.7,628.9 L595.6,629.4 L597.6,629.8 L599.6,630.2 L601.6,630.6 L603.6,630.9 L605.6,631.2 L607.5,631.5 L609.5,631.8 L611.6,632.1 L613.6,632.3 L615.6,632.6 L617.6,632.8 L619.6,633 L621.6,633.2 L623.6,633.4 L625.6,633.5 L627.6,633.7 L629.7,633.8 L631.7,634 L633.7,634.1 L635.7,634.2 L637.7,634.3 L639.7,634.4 L641.8,634.5 L643.8,634.6 L645.8,634.7 L647.8,634.7 L649.8,634.8 L651.8,634.9 L653.8,634.9 L655.9,635 L657.9,635 L659.9,635.1 L661.9,635.1 L663.9,635.2 L665.9,635.2 L667.9,635.2 L669.9,635.3 L672,635.3 L674,635.3 L676,635.3 L678,635.4 L680,635.4 L680,627.8 L678,627.8 L675.9,627.7 L673.9,627.7 L671.9,627.6 L669.9,627.6 L667.8,627.5 L665.8,627.5 L663.8,627.4 L661.8,627.3 L659.7,627.2 L657.7,627.1 L655.7,627 L653.7,626.9 L651.7,626.7 L649.6,626.6 L647.6,626.4 L645.6,626.3 L643.6,626.1 L641.6,625.8 L639.6,625.6 L637.6,625.4 L635.6,625.1 L633.6,624.8 L631.6,624.5 L629.6,624.2 L627.6,623.8 L625.6,623.4 L623.6,623 L621.7,622.6 L619.7,622.1 L617.7,621.6 L615.8,621.1 L613.8,620.6 L611.9,620 L610,619.4 L608,618.8 L606.1,618.1 L604.2,617.4 L602.3,616.7 L600.4,615.9 L598.6,615.1 L596.7,614.3 L594.9,613.4 L593.1,612.5 L591.2,611.6 L589.4,610.7 L587.7,609.7 L585.9,608.7 L584.2,607.7 L582.4,606.6 L580.7,605.5 L579.1,604.4 L577.4,603.3 L575.8,602.1 L574.1,600.9 L572.6,599.7 L571,598.5 L569.5,597.2 L567.9,595.9 L566.5,594.6 L565,593.2 L563.6,591.8 L562.3,590.4 L560.9,588.9 L559.7,587.4 L558.4,585.9 L557.2,584.3 L556.1,582.7 L555,581.1 L553.9,579.4 L552.9,577.7 L551.9,576 L550.9,574.2 L549.9,572.5 L549,570.7 L548.1,568.9 L547.3,567.1 L546.4,565.2 L545.6,563.4 L544.8,561.5 L544,559.6 L543.2,557.8 L542.5,555.9 L541.7,554 L541,552.1 L540.3,550.2 L539.6,548.3 L538.9,546.4 L538.2,544.5 L537.5,542.6 L536.8,540.7 L536.2,538.7 L535.5,536.8 L534.9,534.9 L534.3,533 L533.7,531 L533.1,529.1 L532.5,527.2 L531.9,525.3 L531.3,523.3 L530.7,521.4 L530.1,519.4 L529.5,517.5 L529,515.6 L528.4,513.6 L527.8,511.7 L527.3,509.7 L526.7,507.8 L526.2,505.8 L525.7,503.9 L525.1,502 L524.6,500 L524.1,498.1 L523.6,496.1 L523.1,494.2 L522.6,492.2 L522.1,490.2 L521.6,488.3 L521.1,486.3 L520.6,484.4 L520.2,482.4 L519.7,480.4 L519.3,478.5 L518.9,476.5 L518.5,474.5 L518,472.6 L517.7,470.6 L517.3,468.6 L516.9,466.6 L516.5,464.6 L516.2,462.7 L515.8,460.7 L515.5,458.7 L515.2,456.7 L514.8,454.7 L514.5,452.7 L514.2,450.7 L513.9,448.7 L513.6,446.7 L513.3,444.7 L513,442.7 L512.7,440.7 L512.4,438.7 L512.1,436.8 L511.8,434.8 L511.5,432.8 L511.2,430.8 L510.9,428.8 L510.6,426.8 L510.3,424.8 L510,422.8 L509.7,420.8 L509.4,418.8 L509.1,416.8 L508.8,414.8 L508.5,412.8 L508.1,410.8 L507.8,408.8 L507.5,406.8 L507.2,404.9 L506.8,402.9 L506.5,400.9 L506.1,398.9 L505.8,396.9 L505.5,394.9 L505.1,392.9 L504.8,390.9 L504.5,388.9 L504.1,387 L503.8,385 L503.4,383 L503.1,381 L502.8,379 L502.4,377 Z" fill="rgba(0,255,0,0.2)" stroke="none"/>
<path d="M481.8,377 L482,379 L482.3,381 L482.5,383 L482.7,385 L483,387 L483.2,389 L483.4,391 L483.7,393 L483.9,395 L484.1,397 L484.4,399 L484.6,401 L484.9,403 L485.1,405 L485.4,407 L485.6,409 L485.9,411 L486.1,413 L486.4,414.9 L486.6,416.9 L486.9,418.9 L487.2,420.9 L487.5,422.9 L487.8,424.9 L488,426.9 L488.3,428.9 L488.6,430.9 L488.9,432.9 L489.2,434.9 L489.5,436.8 L489.9,438.8 L490.2,440.8 L490.5,442.8 L490.8,444.8 L491.2,446.8 L491.5,448.7 L491.9,450.7 L492.2,452.7 L492.6,454.7 L493,456.7 L493.3,458.6 L493.7,460.6 L494.1,462.6 L494.5,464.6 L494.8,466.5 L495.2,468.5 L495.6,470.5 L496,472.5 L496.5,474.4 L496.9,476.4 L497.3,478.4 L497.7,480.3 L498.1,482.3 L498.6,484.3 L499,486.2 L499.4,488.2 L499.9,490.1 L500.3,492.1 L500.8,494.1 L501.2,496 L501.7,498 L502.1,500 L502.6,501.9 L503.1,503.9 L503.5,505.8 L504,507.8 L504.5,509.7 L504.9,511.7 L505.4,513.7 L505.9,515.6 L506.4,517.6 L506.8,519.5 L507.3,521.5 L507.8,523.4 L508.3,525.4 L508.8,527.4 L509.3,529.3 L509.8,531.3 L510.3,533.2 L510.8,535.1 L511.4,537.1 L511.9,539 L512.5,541 L513,542.9 L513.6,544.8 L514.2,546.8 L514.8,548.7 L515.5,550.6 L516.1,552.5 L516.8,554.4 L517.4,556.3 L518.1,558.2 L518.8,560.1 L519.5,562 L520.3,563.9 L521.1,565.8 L521.8,567.6 L522.7,569.5 L523.5,571.3 L524.3,573.1 L525.2,574.9 L526.1,576.7 L527.1,578.5 L528,580.3 L529,582 L530.1,583.7 L531.1,585.4 L532.2,587.1 L533.4,588.8 L534.5,590.4 L535.7,592 L537,593.6 L538.2,595.1 L539.5,596.6 L540.9,598.1 L542.2,599.6 L543.6,601 L545,602.5 L546.5,603.8 L548,605.2 L549.5,606.6 L551,607.9 L552.5,609.1 L554.1,610.4 L555.7,611.6 L557.3,612.8 L558.9,614 L560.6,615.1 L562.3,616.2 L564,617.3 L565.7,618.3 L567.4,619.3 L569.2,620.2 L571,621.1 L572.8,622 L574.6,622.8 L576.4,623.6 L578.3,624.3 L580.2,625 L582.1,625.6 L584,626.3 L585.9,626.9 L587.8,627.4 L589.7,628 L591.7,628.5 L593.7,628.9 L595.6,629.4 L597.6,629.8 L599.6,630.2 L601.6,630.6 L603.6,630.9 L605.6,631.2 L607.5,631.5 L609.5,631.8 L611.6,632.1 L613.6,632.3 L615.6,632.6 L617.6,632.8 L619.6,633 L621.6,633.2 L623.6,633.4 L625.6,633.5 L627.6,633.7 L629.7,633.8 L631.7,634 L633.7,634.1 L635.7,634.2 L637.7,634.3 L639.7,634.4 L641.8,634.5 L643.8,634.6 L645.8,634.7 L647.8,634.7 L649.8,634.8 L651.8,634.9 L653.8,634.9 L655.9,635 L657.9,635 L659.9,635.1 L661.9,635.1 L663.9,635.2 L665.9,635.2 L667.9,635.2 L669.9,635.3 L672,635.3 L674,635.3 L676,635.3 L678,635.4 L680,635.4 L680,627.8 L678,627.8 L675.9,627.7 L673.9,627.7 L671.9,627.6 L669.9,627.6 L667.8,627.5 L665.8,627.5 L663.8,627.4 L661.8,627.3 L659.7,627.2 L657.7,627.1 L655.7,627 L653.7,626.9 L651.7,626.7 L649.6,626.6 L647.6,626.4 L645.6,626.3 L643.6,626.1 L641.6,625.8 L639.6,625.6 L637.6,625.4 L635.6,625.1 L633.6,624.8 L631.6,624.5 L629.6,624.2 L627.6,623.8 L625.6,623.4 L623.6,623 L621.7,622.6 L619.7,622.1 L617.7,621.6 L615.8,621.1 L613.8,620.6 L611.9,620 L610,619.4 L608,618.8 L606.1,618.1 L604.2,617.4 L602.3,616.7 L600.4,615.9 L598.6,615.1 L596.7,614.3 L594.9,613.4 L593.1,612.5 L591.2,611.6 L589.4,610.7 L587.7,609.7 L585.9,608.7 L584.2,607.7 L582.4,606.6 L580.7,605.5 L579.1,604.4 L577.4,603.3 L575.8,602.1 L574.1,600.9 L572.6,599.7 L571,598.5 L569.5,597.2 L567.9,595.9 L566.5,594.6 L565,593.2 L563.6,591.8 L562.3,590.4 L560.9,588.9 L559.7,587.4 L558.4,585.9 L557.2,584.3 L556.1,582.7 L555,581.1 L553.9,579.4 L552.9,577.7 L551.9,576 L550.9,574.2 L549.9,572.5 L549,570.7 L548.1,568.9 L547.3,567.1 L546.4,565.2 L545.6,563.4 L544.8,561.5 L544,559.6 L543.2,557.8 L542.5,555.9 L541.7,554 L541,552.1 L540.3,550.2 L539.6,548.3 L538.9,546.4 L538.2,544.5 L537.5,542.6 L536.8,540.7 L536.2,538.7 L535.5,536.8 L534.9,534.9 L534.3,533 L533.7,531 L533.1,529.1 L532.5,527.2 L531.9,525.3 L531.3,523.3 L530.7,521.4 L530.1,519.4 L529.5,517.5 L529,515.6 L528.4,513.6 L527.8,511.7 L527.3,509.7 L526.7,507.8 L526.2,505.8 L525.7,503.9 L525.1,502 L524.6,500 L524.1,498.1 L523.6,496.1 L523.1,494.2 L522.6,492.2 L522.1,490.2 L521.6,488.3 L521.1,486.3 L520.6,484.4 L520.2,482.4 L519.7,480.4 L519.3,478.5 L518.9,476.5 L518.5,474.5 L518,472.6 L517.7,470.6 L517.3,468.6 L516.9,466.6 L516.5,464.6 L516.2,462.7 L515.8,460.7 L515.5,458.7 L515.2,456.7 L514.8,454.7 L514.5,452.7 L514.2,450.7 L513.9,448.7 L513.6,446.7 L513.3,444.7 L513,442.7 L512.7,440.7 L512.4,438.7 L512.1,436.8 L511.8,434.8 L511.5,432.8 L511.2,430.8 L510.9,428.8 L510.6,426.8 L510.3,424.8 L510,422.8 L509.7,420.8 L509.4,418.8 L509.1,416.8 L508.8,414.8 L508.5,412.8 L508.1,410.8 L507.8,408.8 L507.5,406.8 L507.2,404.9 L506.8,402.9 L506.5,400.9 L506.1,398.9 L505.8,396.9 L505.5,394.9 L505.1,392.9 L504.8,390.9 L504.5,388.9 L504.1,387 L503.8,385 L503.4,383 L503.1,381 L502.8,379 L502.4,377 Z" fill="rgba(255,255,190,0.22)" clip-path="url(#gcl2)"/>
<path d="M474,377 L474.2,379 L474.4,381 L474.5,383 L474.7,385 L474.9,387 L475.1,389.1 L475.3,391.1 L475.4,393.1 L475.6,395.1 L475.8,397.1 L476,399.1 L476.2,401.1 L476.4,403.1 L476.6,405.1 L476.8,407.1 L477,409.1 L477.2,411.1 L477.4,413.1 L477.7,415.1 L477.9,417.1 L478.1,419.1 L478.4,421.1 L478.6,423.1 L478.9,425.1 L479.2,427.1 L479.5,429.1 L479.7,431.1 L480,433.1 L480.3,435.1 L480.6,437.1 L481,439.1 L481.3,441.1 L481.6,443.1 L481.9,445.1 L482.3,447.1 L482.6,449 L483,451 L483.3,453 L483.7,455 L484.1,457 L484.4,459 L484.8,460.9 L485.2,462.9 L485.6,464.9 L486,466.9 L486.3,468.9 L486.7,470.8 L487.1,472.8 L487.5,474.8 L488,476.8 L488.4,478.7 L488.8,480.7 L489.2,482.7 L489.6,484.7 L490,486.6 L490.5,488.6 L490.9,490.6 L491.3,492.5 L491.8,494.5 L492.2,496.5 L492.7,498.5 L493.1,500.4 L493.6,502.4 L494,504.4 L494.5,506.3 L494.9,508.3 L495.4,510.3 L495.8,512.2 L496.3,514.2 L496.8,516.1 L497.2,518.1 L497.7,520.1 L498.2,522 L498.7,524 L499.2,525.9 L499.7,527.9 L500.2,529.8 L500.7,531.8 L501.2,533.7 L501.8,535.7 L502.3,537.6 L502.9,539.5 L503.5,541.5 L504.1,543.4 L504.7,545.3 L505.3,547.2 L506,549.1 L506.6,551 L507.3,552.9 L508,554.8 L508.7,556.7 L509.5,558.6 L510.2,560.4 L511,562.3 L511.8,564.1 L512.6,566 L513.4,567.8 L514.3,569.7 L515.2,571.5 L516,573.3 L516.9,575.2 L517.8,577 L518.8,578.8 L519.7,580.6 L520.7,582.4 L521.7,584.1 L522.7,585.9 L523.7,587.7 L524.8,589.4 L525.8,591.2 L526.9,592.9 L528,594.6 L529.2,596.3 L530.3,598 L531.5,599.6 L532.7,601.3 L533.9,602.9 L535.2,604.5 L536.4,606.1 L537.7,607.6 L539.1,609.1 L540.4,610.6 L541.8,612.1 L543.2,613.5 L544.7,614.9 L546.1,616.2 L547.6,617.5 L549.2,618.8 L550.7,620 L552.3,621.2 L554,622.4 L555.6,623.5 L557.3,624.5 L559,625.5 L560.7,626.5 L562.5,627.5 L564.3,628.3 L566.1,629.2 L567.9,630 L569.7,630.7 L571.6,631.4 L573.5,632.1 L575.4,632.7 L577.3,633.3 L579.2,633.8 L581.2,634.3 L583.1,634.7 L585.1,635.2 L587.1,635.5 L589.1,635.9 L591.1,636.2 L593.1,636.5 L595.1,636.8 L597.1,637 L599.1,637.2 L601.1,637.4 L603.2,637.6 L605.2,637.8 L607.2,637.9 L609.2,638 L611.3,638.2 L613.3,638.3 L615.3,638.3 L617.3,638.4 L619.4,638.5 L621.4,638.5 L623.4,638.6 L625.5,638.6 L627.5,638.6 L629.5,638.7 L631.5,638.7 L633.6,638.7 L635.6,638.7 L637.6,638.7 L639.6,638.7 L641.7,638.7 L643.7,638.7 L645.7,638.7 L647.7,638.7 L649.8,638.7 L651.8,638.7 L653.8,638.7 L655.8,638.7 L657.8,638.7 L659.8,638.7 L661.9,638.7 L663.9,638.7 L665.9,638.7 L667.9,638.7 L669.9,638.7 L671.9,638.6 L674,638.6 L676,638.6 L678,638.6 L680,638.6" fill="none" stroke="#ffee00" stroke-width="1.8" stroke-linejoin="round"/>
<path d="M516.5,377 L516.9,379 L517.2,381 L517.6,383 L517.9,385 L518.2,386.9 L518.6,388.9 L518.9,390.9 L519.3,392.9 L519.6,394.9 L519.9,396.9 L520.3,398.9 L520.6,400.8 L521,402.8 L521.3,404.8 L521.6,406.8 L522,408.8 L522.3,410.8 L522.6,412.8 L523,414.8 L523.3,416.7 L523.6,418.7 L524,420.7 L524.3,422.7 L524.6,424.7 L525,426.7 L525.3,428.7 L525.6,430.7 L525.9,432.6 L526.3,434.6 L526.6,436.6 L526.9,438.6 L527.3,440.6 L527.6,442.6 L527.9,444.6 L528.3,446.6 L528.6,448.5 L529,450.5 L529.3,452.5 L529.7,454.5 L530,456.5 L530.4,458.5 L530.8,460.4 L531.2,462.4 L531.6,464.4 L532,466.4 L532.4,468.3 L532.8,470.3 L533.2,472.3 L533.6,474.3 L534.1,476.2 L534.5,478.2 L535,480.2 L535.4,482.1 L535.9,484.1 L536.4,486 L536.8,488 L537.3,489.9 L537.8,491.9 L538.4,493.8 L538.9,495.8 L539.4,497.7 L539.9,499.7 L540.5,501.6 L541.1,503.6 L541.6,505.5 L542.2,507.4 L542.8,509.4 L543.4,511.3 L544,513.2 L544.6,515.1 L545.2,517.1 L545.8,519 L546.4,520.9 L547.1,522.8 L547.7,524.7 L548.4,526.6 L549.1,528.5 L549.8,530.4 L550.5,532.3 L551.2,534.2 L552,536.1 L552.7,537.9 L553.5,539.8 L554.2,541.7 L555,543.5 L555.8,545.4 L556.7,547.2 L557.5,549.1 L558.4,550.9 L559.2,552.7 L560.1,554.5 L561,556.3 L562,558.1 L562.9,559.9 L563.9,561.7 L564.9,563.5 L565.9,565.2 L567,566.9 L568.1,568.6 L569.2,570.3 L570.3,572 L571.5,573.6 L572.7,575.3 L573.9,576.9 L575.2,578.4 L576.4,580 L577.7,581.5 L579.1,583.1 L580.4,584.5 L581.8,586 L583.2,587.4 L584.6,588.8 L586.1,590.2 L587.6,591.5 L589.1,592.8 L590.7,594.1 L592.2,595.3 L593.9,596.6 L595.5,597.7 L597.1,598.9 L598.8,600 L600.5,601.1 L602.2,602.1 L604,603.1 L605.7,604.1 L607.5,605 L609.3,605.9 L611.1,606.8 L612.9,607.7 L614.8,608.5 L616.6,609.3 L618.5,610 L620.4,610.7 L622.3,611.4 L624.2,612 L626.1,612.6 L628,613.2 L630,613.8 L631.9,614.3 L633.9,614.8 L635.8,615.3 L637.8,615.7 L639.8,616.1 L641.8,616.5 L643.7,616.9 L645.7,617.2 L647.7,617.5 L649.7,617.8 L651.7,618.1 L653.7,618.3 L655.7,618.6 L657.8,618.8 L659.8,619 L661.8,619.1 L663.8,619.3 L665.8,619.5 L667.8,619.6 L669.8,619.8 L671.9,619.9 L673.9,620 L675.9,620.1 L677.9,620.2 L680,620.4" fill="none" stroke="#ffee00" stroke-width="1.8" stroke-linejoin="round"/>
<path d="M481.8,377 L482,379 L482.3,381 L482.5,383 L482.7,385 L483,387 L483.2,389 L483.4,391 L483.7,393 L483.9,395 L484.1,397 L484.4,399 L484.6,401 L484.9,403 L485.1,405 L485.4,407 L485.6,409 L485.9,411 L486.1,413 L486.4,414.9 L486.6,416.9 L486.9,418.9 L487.2,420.9 L487.5,422.9 L487.8,424.9 L488,426.9 L488.3,428.9 L488.6,430.9 L488.9,432.9 L489.2,434.9 L489.5,436.8 L489.9,438.8 L490.2,440.8 L490.5,442.8 L490.8,444.8 L491.2,446.8 L491.5,448.7 L491.9,450.7 L492.2,452.7 L492.6,454.7 L493,456.7 L493.3,458.6 L493.7,460.6 L494.1,462.6 L494.5,464.6 L494.8,466.5 L495.2,468.5 L495.6,470.5 L496,472.5 L496.5,474.4 L496.9,476.4 L497.3,478.4 L497.7,480.3 L498.1,482.3 L498.6,484.3 L499,486.2 L499.4,488.2 L499.9,490.1 L500.3,492.1 L500.8,494.1 L501.2,496 L501.7,498 L502.1,500 L502.6,501.9 L503.1,503.9 L503.5,505.8 L504,507.8 L504.5,509.7 L504.9,511.7 L505.4,513.7 L505.9,515.6 L506.4,517.6 L506.8,519.5 L507.3,521.5 L507.8,523.4 L508.3,525.4 L508.8,527.4 L509.3,529.3 L509.8,531.3 L510.3,533.2 L510.8,535.1 L511.4,537.1 L511.9,539 L512.5,541 L513,542.9 L513.6,544.8 L514.2,546.8 L514.8,548.7 L515.5,550.6 L516.1,552.5 L516.8,554.4 L517.4,556.3 L518.1,558.2 L518.8,560.1 L519.5,562 L520.3,563.9 L521.1,565.8 L521.8,567.6 L522.7,569.5 L523.5,571.3 L524.3,573.1 L525.2,574.9 L526.1,576.7 L527.1,578.5 L528,580.3 L529,582 L530.1,583.7 L531.1,585.4 L532.2,587.1 L533.4,588.8 L534.5,590.4 L535.7,592 L537,593.6 L538.2,595.1 L539.5,596.6 L540.9,598.1 L542.2,599.6 L543.6,601 L545,602.5 L546.5,603.8 L548,605.2 L549.5,606.6 L551,607.9 L552.5,609.1 L554.1,610.4 L555.7,611.6 L557.3,612.8 L558.9,614 L560.6,615.1 L562.3,616.2 L564,617.3 L565.7,618.3 L567.4,619.3 L569.2,620.2 L571,621.1 L572.8,622 L574.6,622.8 L576.4,623.6 L578.3,624.3 L580.2,625 L582.1,625.6 L584,626.3 L585.9,626.9 L587.8,627.4 L589.7,628 L591.7,628.5 L593.7,628.9 L595.6,629.4 L597.6,629.8 L599.6,630.2 L601.6,630.6 L603.6,630.9 L605.6,631.2 L607.5,631.5 L609.5,631.8 L611.6,632.1 L613.6,632.3 L615.6,632.6 L617.6,632.8 L619.6,633 L621.6,633.2 L623.6,633.4 L625.6,633.5 L627.6,633.7 L629.7,633.8 L631.7,634 L633.7,634.1 L635.7,634.2 L637.7,634.3 L639.7,634.4 L641.8,634.5 L643.8,634.6 L645.8,634.7 L647.8,634.7 L649.8,634.8 L651.8,634.9 L653.8,634.9 L655.9,635 L657.9,635 L659.9,635.1 L661.9,635.1 L663.9,635.2 L665.9,635.2 L667.9,635.2 L669.9,635.3 L672,635.3 L674,635.3 L676,635.3 L678,635.4 L680,635.4" fill="none" stroke="#33ee00" stroke-width="1.8" stroke-linejoin="round"/>
<path d="M502.4,377 L502.8,379 L503.1,381 L503.4,383 L503.8,385 L504.1,387 L504.5,388.9 L504.8,390.9 L505.1,392.9 L505.5,394.9 L505.8,396.9 L506.1,398.9 L506.5,400.9 L506.8,402.9 L507.2,404.9 L507.5,406.8 L507.8,408.8 L508.1,410.8 L508.5,412.8 L508.8,414.8 L509.1,416.8 L509.4,418.8 L509.7,420.8 L510,422.8 L510.3,424.8 L510.6,426.8 L510.9,428.8 L511.2,430.8 L511.5,432.8 L511.8,434.8 L512.1,436.8 L512.4,438.7 L512.7,440.7 L513,442.7 L513.3,444.7 L513.6,446.7 L513.9,448.7 L514.2,450.7 L514.5,452.7 L514.8,454.7 L515.2,456.7 L515.5,458.7 L515.8,460.7 L516.2,462.7 L516.5,464.6 L516.9,466.6 L517.3,468.6 L517.7,470.6 L518,472.6 L518.5,474.5 L518.9,476.5 L519.3,478.5 L519.7,480.4 L520.2,482.4 L520.6,484.4 L521.1,486.3 L521.6,488.3 L522.1,490.2 L522.6,492.2 L523.1,494.2 L523.6,496.1 L524.1,498.1 L524.6,500 L525.1,502 L525.7,503.9 L526.2,505.8 L526.7,507.8 L527.3,509.7 L527.8,511.7 L528.4,513.6 L529,515.6 L529.5,517.5 L530.1,519.4 L530.7,521.4 L531.3,523.3 L531.9,525.3 L532.5,527.2 L533.1,529.1 L533.7,531 L534.3,533 L534.9,534.9 L535.5,536.8 L536.2,538.7 L536.8,540.7 L537.5,542.6 L538.2,544.5 L538.9,546.4 L539.6,548.3 L540.3,550.2 L541,552.1 L541.7,554 L542.5,555.9 L543.2,557.8 L544,559.6 L544.8,561.5 L545.6,563.4 L546.4,565.2 L547.3,567.1 L548.1,568.9 L549,570.7 L549.9,572.5 L550.9,574.2 L551.9,576 L552.9,577.7 L553.9,579.4 L555,581.1 L556.1,582.7 L557.2,584.3 L558.4,585.9 L559.7,587.4 L560.9,588.9 L562.3,590.4 L563.6,591.8 L565,593.2 L566.5,594.6 L567.9,595.9 L569.5,597.2 L571,598.5 L572.6,599.7 L574.1,600.9 L575.8,602.1 L577.4,603.3 L579.1,604.4 L580.7,605.5 L582.4,606.6 L584.2,607.7 L585.9,608.7 L587.7,609.7 L589.4,610.7 L591.2,611.6 L593.1,612.5 L594.9,613.4 L596.7,614.3 L598.6,615.1 L600.4,615.9 L602.3,616.7 L604.2,617.4 L606.1,618.1 L608,618.8 L610,619.4 L611.9,620 L613.8,620.6 L615.8,621.1 L617.7,621.6 L619.7,622.1 L621.7,622.6 L623.6,623 L625.6,623.4 L627.6,623.8 L629.6,624.2 L631.6,624.5 L633.6,624.8 L635.6,625.1 L637.6,625.4 L639.6,625.6 L641.6,625.8 L643.6,626.1 L645.6,626.3 L647.6,626.4 L649.6,626.6 L651.7,626.7 L653.7,626.9 L655.7,627 L657.7,627.1 L659.7,627.2 L661.8,627.3 L663.8,627.4 L665.8,627.5 L667.8,627.5 L669.9,627.6 L671.9,627.6 L673.9,627.7 L675.9,627.7 L678,627.8 L680,627.8" fill="none" stroke="#33ee00" stroke-width="1.8" stroke-linejoin="round"/>
<path d="M379.6,530.9 L380.7,529.2 L381.9,527.5 L383,525.8 L384.1,524.1 L385.2,522.4 L386.3,520.7 L387.4,519 L388.5,517.3 L389.6,515.6 L390.8,514 L391.9,512.3 L393.1,510.6 L394.2,509 L395.4,507.3 L396.5,505.7 L397.7,504 L398.9,502.4 L400.1,500.8 L401.3,499.1 L402.5,497.5 L403.8,495.9 L405,494.3 L406.3,492.8 L407.5,491.2 L408.8,489.6 L410.1,488.1 L411.5,486.6 L412.8,485.1 L414.1,483.6 L415.5,482.1 L416.9,480.6 L418.3,479.1 L419.7,477.7 L421.1,476.3 L422.6,474.8 L424,473.4 L425.5,472 L427,470.7 L428.4,469.3 L429.9,467.9 L431.4,466.6 L433,465.2 L434.5,463.9 L436,462.6 L437.6,461.3 L439.1,460 L440.7,458.7 L442.3,457.4 L443.8,456.2 L445.4,454.9 L447,453.7 L448.7,452.5 L450.3,451.2 L451.9,450 L453.5,448.9 L455.2,447.7 L456.9,446.5 L458.5,445.4 L460.2,444.3 L461.9,443.1 L463.6,442 L465.3,441 L467,439.9 L468.7,438.8 L470.5,437.8 L472.2,436.8 L473.9,435.8 L475.7,434.8 L477.5,433.8 L479.3,432.9 L481.1,431.9 L482.9,431 L484.7,430.1 L486.5,429.2 L488.3,428.4 L490.1,427.5 L492,426.7 L493.8,425.8 L495.7,425 L497.5,424.2 L499.4,423.5 L501.3,422.7 L503.1,421.9 L505,421.2 L506.9,420.4 L508.8,419.7 L510.7,419 L512.6,418.3 L514.5,417.5 L516.4,416.8 L518.3,416.2 L520.2,415.5 L522.1,414.8 L524,414.1 L525.9,413.5 L527.8,412.8 L529.8,412.2 L531.7,411.5 L533.6,410.9 L535.5,410.3 L537.4,409.7 L539.4,409 L541.3,408.4 L543.2,407.8 L545.2,407.3 L547.1,406.7 L549.1,406.1 L551,405.5 L552.9,405 L554.9,404.4 L556.8,403.9 L558.8,403.3 L560.7,402.8 L562.7,402.3 L564.6,401.8 L566.6,401.3 L568.6,400.8 L570.5,400.3 L572.5,399.8 L574.5,399.3 L576.4,398.9 L578.4,398.4 L580.4,397.9 L582.3,397.5 L584.3,397.1 L586.3,396.6 L588.3,396.2 L590.2,395.8 L592.2,395.4 L594.2,394.9 L596.2,394.5 L598.2,394.2 L600.1,393.8 L602.1,393.4 L604.1,393 L606.1,392.6 L608.1,392.3 L610.1,391.9 L612.1,391.5 L614.1,391.2 L616.1,390.8 L618.1,390.5 L620,390.1 L622,389.8 L624,389.5 L626,389.1 L628,388.8 L630,388.5 L632,388.1 L634,387.8 L636,387.5 L638,387.2 L640,386.9 L642,386.5 L644,386.2 L646,385.9 L648,385.6 L650,385.3 L652,385 L654,384.7 L656,384.4 L658,384.1 L660,383.8 L662,383.5 L664,383.2 L666,382.9 L668,382.6 L670,382.3 L672,382 L674,381.7 L676,381.4 L678,381.1 L680,380.8" fill="none" stroke="#1010f5" stroke-width="1.8" stroke-linejoin="round"/>
<path d="M379.6,640.1 L381.4,639.2 L383.2,638.2 L384.9,637.3 L386.7,636.3 L388.5,635.4 L390.3,634.5 L392.1,633.5 L393.9,632.6 L395.7,631.8 L397.5,630.9 L399.4,630 L401.2,629.2 L403,628.4 L404.9,627.6 L406.8,626.9 L408.6,626.2 L410.5,625.5 L412.4,624.8 L414.3,624.1 L416.2,623.5 L418.2,622.9 L420.1,622.3 L422,621.7 L423.9,621.1 L425.9,620.5 L427.8,620 L429.8,619.4 L431.7,618.8 L433.7,618.3 L435.6,617.8 L437.6,617.2 L439.5,616.7 L441.5,616.2 L443.4,615.7 L445.4,615.2 L447.4,614.7 L449.3,614.2 L451.3,613.7 L453.3,613.2 L455.2,612.8 L457.2,612.3 L459.2,611.9 L461.2,611.4 L463.2,611 L465.1,610.6 L467.1,610.2 L469.1,609.8 L471.1,609.5 L473.1,609.1 L475.1,608.7 L477.1,608.4 L479.1,608 L481,607.7 L483,607.3 L485,607 L487,606.6 L489,606.3 L491,606 L493,605.6 L495,605.3 L497,605 L499,604.7 L501,604.4 L503,604 L505,603.7 L507,603.5 L509,603.2 L511,602.9 L513,602.6 L515,602.3 L517,602.1 L519,601.8 L521,601.6 L523.1,601.3 L525.1,601.1 L527.1,600.8 L529.1,600.6 L531.1,600.3 L533.1,600.1 L535.1,599.8 L537.1,599.6 L539.1,599.4 L541.2,599.2 L543.2,598.9 L545.2,598.7 L547.2,598.5 L549.2,598.3 L551.2,598 L553.2,597.8 L555.2,597.6 L557.3,597.4 L559.3,597.2 L561.3,597 L563.3,596.7 L565.3,596.5 L567.3,596.3 L569.3,596.1 L571.4,595.9 L573.4,595.7 L575.4,595.5 L577.4,595.2 L579.4,595 L581.4,594.8 L583.4,594.6 L585.4,594.4 L587.5,594.2 L589.5,593.9 L591.5,593.7 L593.5,593.5 L595.5,593.3 L597.5,593.1 L599.5,592.8 L601.5,592.6 L603.6,592.4 L605.6,592.2 L607.6,591.9 L609.6,591.7 L611.6,591.5 L613.6,591.3 L615.6,591 L617.6,590.8 L619.7,590.6 L621.7,590.4 L623.7,590.1 L625.7,589.9 L627.7,589.7 L629.7,589.4 L631.7,589.2 L633.7,589 L635.8,588.7 L637.8,588.5 L639.8,588.3 L641.8,588 L643.8,587.8 L645.8,587.6 L647.8,587.4 L649.8,587.1 L651.8,586.9 L653.9,586.7 L655.9,586.4 L657.9,586.2 L659.9,585.9 L661.9,585.7 L663.9,585.5 L665.9,585.2 L667.9,585 L669.9,584.8 L672,584.5 L674,584.3 L676,584.1 L678,583.8 L680,583.6" fill="none" stroke="#1010f5" stroke-width="1.8" stroke-linejoin="round"/>
<path d="M379.8,675.3 L381.8,674.9 L383.8,674.6 L385.8,674.3 L387.8,674 L389.7,673.7 L391.7,673.3 L393.7,673 L395.7,672.7 L397.7,672.4 L399.7,672.1 L401.7,671.8 L403.7,671.5 L405.7,671.2 L407.7,670.9 L409.6,670.6 L411.6,670.3 L413.6,670 L415.6,669.7 L417.6,669.4 L419.6,669.1 L421.6,668.8 L423.6,668.5 L425.6,668.3 L427.6,668 L429.6,667.7 L431.6,667.5 L433.6,667.2 L435.6,667 L437.6,666.7 L439.6,666.5 L441.6,666.2 L443.6,666 L445.6,665.7 L447.6,665.5 L449.6,665.3 L451.6,665.1 L453.6,664.8 L455.6,664.6 L457.6,664.4 L459.6,664.2 L461.6,664 L463.6,663.8 L465.6,663.6 L467.6,663.4 L469.6,663.2 L471.6,663.1 L473.6,662.9 L475.6,662.7 L477.6,662.5 L479.7,662.4 L481.7,662.2 L483.7,662 L485.7,661.9 L487.7,661.7 L489.7,661.6 L491.7,661.4 L493.7,661.3 L495.7,661.1 L497.7,661 L499.7,660.8 L501.7,660.7 L503.8,660.5 L505.8,660.4 L507.8,660.2 L509.8,660.1 L511.8,660 L513.8,659.8 L515.8,659.7 L517.8,659.5 L519.8,659.3 L521.8,659.2 L523.8,659 L525.9,658.9 L527.9,658.7 L529.9,658.5 L531.9,658.3 L533.9,658.2 L535.9,658 L537.9,657.8 L539.9,657.6 L541.9,657.4 L543.9,657.2 L545.9,657 L547.9,656.8 L549.9,656.6 L551.9,656.4 L553.9,656.2 L555.9,656 L557.9,655.8 L559.9,655.5 L561.9,655.3 L563.9,655.1 L565.9,654.9 L567.9,654.6 L569.9,654.4 L571.9,654.2 L573.9,654 L575.9,653.7 L577.9,653.5 L579.9,653.3 L581.9,653 L583.9,652.8 L585.9,652.6 L587.9,652.3 L589.9,652.1 L591.9,651.8 L593.9,651.6 L595.9,651.4 L598,651.1 L600,650.9 L602,650.7 L604,650.4 L606,650.2 L608,649.9 L610,649.7 L612,649.5 L614,649.2 L616,649 L618,648.8 L620,648.5 L622,648.3 L624,648.1 L626,647.9 L628,647.6 L630,647.4 L632,647.2 L634,646.9 L636,646.7 L638,646.5 L640,646.2 L642,646 L644,645.8 L646,645.6 L648,645.3 L650,645.1 L652,644.9 L654,644.6 L656,644.4 L658,644.2 L660,644 L662,643.7 L664,643.5 L666,643.3 L668,643.1 L670,642.8 L672,642.6 L674,642.4 L676,642.1 L678,641.9 L680,641.7" fill="none" stroke="#1010f5" stroke-width="1.8" stroke-linejoin="round"/>
<path d="M465.2,377 L465.5,379 L465.9,381 L466.2,383 L466.5,384.9 L466.8,386.9 L467.1,388.9 L467.4,390.9 L467.7,392.9 L468,394.9 L468.4,396.8 L468.7,398.8 L468.9,400.8 L469.2,402.8 L469.5,404.8 L469.8,406.8 L470.1,408.8 L470.3,410.8 L470.6,412.8 L470.9,414.7 L471.1,416.7 L471.4,418.7 L471.6,420.7 L471.9,422.7 L472.1,424.7 L472.3,426.7 L472.6,428.7 L472.8,430.7 L473.1,432.7 L473.3,434.7 L473.6,436.7 L473.8,438.7 L474,440.7 L474.3,442.7 L474.5,444.7 L474.8,446.7 L475.1,448.6 L475.3,450.6 L475.6,452.6 L475.9,454.6 L476.2,456.6 L476.4,458.6 L476.7,460.6 L477,462.6 L477.3,464.6 L477.6,466.6 L477.9,468.5 L478.2,470.5 L478.5,472.5 L478.8,474.5 L479.2,476.5 L479.5,478.5 L479.8,480.5 L480.1,482.4 L480.4,484.4 L480.8,486.4 L481.1,488.4 L481.5,490.4 L481.8,492.4 L482.2,494.3 L482.5,496.3 L482.9,498.3 L483.3,500.3 L483.7,502.2 L484.1,504.2 L484.5,506.2 L484.9,508.1 L485.4,510.1 L485.8,512 L486.3,514 L486.8,515.9 L487.3,517.9 L487.8,519.8 L488.3,521.8 L488.8,523.7 L489.3,525.6 L489.9,527.6 L490.4,529.5 L491,531.4 L491.6,533.4 L492.2,535.3 L492.8,537.2 L493.4,539.1 L494,541 L494.6,542.9 L495.2,544.9 L495.9,546.8 L496.5,548.7 L497.1,550.6 L497.8,552.5 L498.5,554.4 L499.1,556.3 L499.8,558.2 L500.5,560.1 L501.2,561.9 L501.9,563.8 L502.6,565.7 L503.4,567.6 L504.1,569.4 L504.9,571.3 L505.6,573.2 L506.4,575 L507.2,576.9 L507.9,578.7 L508.8,580.6 L509.6,582.4 L510.4,584.3 L511.2,586.1 L512.1,587.9 L513,589.7 L513.9,591.5 L514.8,593.3 L515.7,595.1 L516.6,596.9 L517.6,598.7 L518.5,600.4 L519.5,602.2 L520.5,604 L521.5,605.7 L522.5,607.4 L523.5,609.2 L524.6,610.9 L525.6,612.6 L526.7,614.3 L527.8,616 L528.9,617.7 L530,619.4 L531.1,621.1 L532.2,622.7 L533.4,624.4 L534.6,626 L535.8,627.6 L537,629.2 L538.2,630.8 L539.5,632.4 L540.8,633.9 L542.1,635.5 L543.4,637 L544.8,638.4 L546.1,639.9 L547.6,641.3 L549,642.7 L550.4,644.1 L551.9,645.4 L553.4,646.7 L555,648 L556.5,649.2 L558.1,650.4 L559.7,651.6 L561.4,652.8 L563,653.9 L564.7,655 L566.4,656 L568.1,657 L569.9,658 L571.6,659 L573.4,659.9 L575.2,660.7 L577,661.6 L578.9,662.4 L580.7,663.2 L582.6,663.9 L584.4,664.6 L586.3,665.3 L588.2,665.9 L590.1,666.6 L592.1,667.2 L594,667.7 L595.9,668.3 L597.9,668.8 L599.8,669.3 L601.8,669.8 L603.7,670.2 L605.7,670.7 L607.7,671.1 L609.7,671.5 L611.6,671.9 L613.6,672.2 L615.6,672.5 L617.6,672.9 L619.6,673.2 L621.5,673.5 L623.5,673.7 L625.5,674 L627.5,674.2 L629.5,674.5 L631.5,674.7 L633.5,674.9 L635.5,675.1 L637.5,675.2 L639.5,675.4 L641.6,675.6 L643.6,675.7 L645.6,675.8 L647.6,676 L649.6,676.1 L651.6,676.2 L653.7,676.3 L655.7,676.4 L657.7,676.5 L659.7,676.5 L661.7,676.6 L663.8,676.7 L665.8,676.8 L667.8,676.8 L669.8,676.9 L671.9,676.9 L673.9,677 L675.9,677 L678,677.1 L680,677.1" fill="none" stroke="#ff0a0a" stroke-width="1.8" stroke-linejoin="round"/>
<path d="M478.1,377 L478.4,379 L478.6,381 L478.9,383 L479.1,385 L479.4,387 L479.6,389 L479.9,391 L480.1,393 L480.4,395 L480.6,397 L480.9,399 L481.2,401 L481.4,403 L481.7,405.1 L481.9,407.1 L482.2,409.1 L482.5,411.1 L482.7,413.1 L483,415.1 L483.3,417.1 L483.6,419.1 L483.8,421.1 L484.1,423.1 L484.4,425.1 L484.7,427.1 L485,429.1 L485.3,431 L485.6,433 L485.9,435 L486.2,437 L486.5,439 L486.8,441 L487.1,443 L487.4,445 L487.8,447 L488.1,449 L488.4,451 L488.8,453 L489.1,455 L489.5,457 L489.8,458.9 L490.2,460.9 L490.6,462.9 L490.9,464.9 L491.3,466.9 L491.7,468.8 L492.1,470.8 L492.5,472.8 L492.9,474.8 L493.3,476.8 L493.8,478.7 L494.2,480.7 L494.6,482.7 L495.1,484.6 L495.5,486.6 L496,488.6 L496.4,490.5 L496.9,492.5 L497.4,494.5 L497.8,496.4 L498.3,498.4 L498.8,500.4 L499.3,502.3 L499.7,504.3 L500.2,506.3 L500.7,508.2 L501.2,510.2 L501.7,512.1 L502.2,514.1 L502.6,516.1 L503.1,518 L503.6,520 L504.1,521.9 L504.6,523.9 L505.1,525.9 L505.6,527.8 L506.1,529.8 L506.6,531.7 L507.1,533.7 L507.6,535.6 L508.2,537.6 L508.7,539.5 L509.3,541.5 L509.8,543.4 L510.4,545.3 L511,547.3 L511.6,549.2 L512.2,551.1 L512.8,553 L513.5,554.9 L514.2,556.8 L514.8,558.7 L515.5,560.6 L516.2,562.5 L517,564.4 L517.7,566.3 L518.5,568.1 L519.2,570 L520,571.9 L520.8,573.7 L521.6,575.6 L522.4,577.4 L523.3,579.3 L524.1,581.1 L525,583 L525.8,584.8 L526.7,586.6 L527.6,588.5 L528.5,590.3 L529.4,592.1 L530.3,594 L531.2,595.8 L532.1,597.6 L533,599.4 L534,601.2 L535,603 L535.9,604.8 L536.9,606.5 L537.9,608.3 L539,610 L540,611.8 L541.1,613.5 L542.1,615.2 L543.2,616.9 L544.3,618.6 L545.5,620.3 L546.6,621.9 L547.8,623.6 L549,625.2 L550.3,626.8 L551.5,628.3 L552.8,629.9 L554.1,631.4 L555.4,633 L556.8,634.4 L558.2,635.9 L559.6,637.3 L561,638.7 L562.5,640.1 L563.9,641.5 L565.4,642.8 L567,644.1 L568.5,645.3 L570.1,646.6 L571.7,647.8 L573.4,648.9 L575,650 L576.7,651.1 L578.4,652.2 L580.1,653.2 L581.9,654.2 L583.7,655.1 L585.4,656.1 L587.3,657 L589.1,657.8 L590.9,658.7 L592.8,659.5 L594.6,660.2 L596.5,661 L598.4,661.7 L600.3,662.4 L602.2,663.1 L604.1,663.7 L606.1,664.4 L608,665 L610,665.5 L611.9,666.1 L613.9,666.6 L615.8,667.1 L617.8,667.6 L619.8,668.1 L621.7,668.5 L623.7,668.9 L625.7,669.3 L627.7,669.7 L629.7,670.1 L631.7,670.4 L633.7,670.8 L635.7,671.1 L637.7,671.4 L639.7,671.6 L641.7,671.9 L643.7,672.2 L645.7,672.4 L647.7,672.6 L649.7,672.8 L651.7,673 L653.7,673.2 L655.8,673.4 L657.8,673.5 L659.8,673.7 L661.8,673.9 L663.8,674 L665.8,674.1 L667.9,674.3 L669.9,674.4 L671.9,674.5 L673.9,674.6 L675.9,674.8 L678,674.9 L680,675" fill="none" stroke="#ff0a0a" stroke-width="1.8" stroke-linejoin="round"/>
<path d="M379.8,626.8 L381,625.2 L382.1,623.5 L383.3,621.8 L384.4,620.2 L385.6,618.5 L386.7,616.8 L387.8,615.2 L389,613.5 L390.1,611.8 L391.3,610.1 L392.4,608.5 L393.5,606.8 L394.7,605.1 L395.8,603.5 L396.9,601.8 L398,600.1 L399.2,598.4 L400.3,596.7 L401.4,595 L402.5,593.3 L403.6,591.7 L404.7,590 L405.8,588.3 L406.9,586.5 L407.9,584.8 L409,583.1 L410.1,581.4 L411.1,579.7 L412.2,578 L413.2,576.2 L414.2,574.5 L415.2,572.7 L416.3,571 L417.3,569.2 L418.2,567.5 L419.2,565.7 L420.2,563.9 L421.1,562.2 L422.1,560.4 L423,558.6 L423.9,556.8 L424.8,555 L425.7,553.2 L426.6,551.4 L427.5,549.6 L428.4,547.7 L429.3,545.9 L430.1,544.1 L431,542.3 L431.9,540.4 L432.7,538.6 L433.6,536.8 L434.5,535 L435.3,533.1 L436.2,531.3 L437.1,529.5 L437.9,527.7 L438.8,525.8 L439.7,524 L440.5,522.2 L441.4,520.3 L442.2,518.5 L443.1,516.7 L444,514.9 L444.8,513 L445.7,511.2 L446.5,509.4 L447.4,507.5 L448.2,505.7 L449,503.9 L449.9,502 L450.7,500.2 L451.6,498.3 L452.4,496.5 L453.2,494.6 L454,492.8 L454.9,491 L455.7,489.1 L456.5,487.3 L457.3,485.4 L458.1,483.6 L458.9,481.7 L459.7,479.9 L460.5,478 L461.3,476.1 L462.1,474.3 L462.9,472.4 L463.7,470.6 L464.5,468.7 L465.3,466.8 L466,465 L466.8,463.1 L467.6,461.2 L468.4,459.4 L469.1,457.5 L469.9,455.6 L470.7,453.8 L471.4,451.9 L472.2,450 L472.9,448.1 L473.7,446.3 L474.5,444.4 L475.2,442.5 L476,440.7 L476.8,438.8 L477.5,436.9 L478.3,435.1 L479.1,433.2 L479.8,431.3 L480.6,429.4 L481.3,427.6 L482.1,425.7 L482.8,423.8 L483.6,421.9 L484.3,420.1 L485,418.2 L485.7,416.3 L486.4,414.4 L487.1,412.5 L487.8,410.6 L488.5,408.7 L489.1,406.8 L489.8,404.9 L490.5,403 L491.1,401.1 L491.8,399.2 L492.4,397.2 L493.1,395.3 L493.7,393.4 L494.3,391.5 L495,389.6 L495.6,387.7 L496.2,385.7 L496.8,383.8 L497.5,381.9 L498.1,380 L498.7,378" fill="none" stroke="#111111" stroke-width="2.0" stroke-linejoin="round" stroke-dasharray="2.2 1.9" stroke-dashoffset="0"/>
<path d="M379.9,675.5 L381.8,674.8 L383.7,674.1 L385.6,673.4 L387.5,672.7 L389.4,672 L391.3,671.3 L393.2,670.6 L395.1,669.9 L396.9,669.2 L398.8,668.5 L400.7,667.8 L402.6,667 L404.5,666.3 L406.4,665.5 L408.2,664.8 L410.1,664 L412,663.2 L413.8,662.5 L415.7,661.7 L417.5,660.9 L419.4,660.1 L421.2,659.2 L423.1,658.4 L424.9,657.6 L426.7,656.7 L428.5,655.8 L430.3,654.9 L432.1,654 L433.9,653.1 L435.7,652.2 L437.5,651.2 L439.3,650.3 L441,649.3 L442.8,648.3 L444.6,647.3 L446.3,646.3 L448.1,645.3 L449.8,644.3 L451.5,643.3 L453.3,642.2 L455,641.2 L456.7,640.1 L458.5,639.1 L460.2,638 L461.9,636.9 L463.6,635.9 L465.3,634.8 L467,633.7 L468.7,632.6 L470.4,631.5 L472.1,630.4 L473.8,629.3 L475.5,628.2 L477.2,627.1 L478.9,626 L480.6,624.9 L482.2,623.7 L483.9,622.6 L485.6,621.5 L487.3,620.3 L488.9,619.2 L490.6,618.1 L492.3,616.9 L493.9,615.8 L495.6,614.6 L497.2,613.4 L498.9,612.3 L500.5,611.1 L502.2,609.9 L503.8,608.8 L505.5,607.6 L507.1,606.4 L508.7,605.2 L510.3,604 L512,602.8 L513.6,601.6 L515.2,600.4 L516.8,599.2 L518.4,597.9 L520,596.7 L521.6,595.5 L523.2,594.3 L524.8,593 L526.4,591.8 L528,590.5 L529.6,589.3 L531.2,588 L532.8,586.7 L534.3,585.5 L535.9,584.2 L537.5,582.9 L539,581.6 L540.6,580.4 L542.1,579.1 L543.7,577.8 L545.2,576.5 L546.8,575.2 L548.3,573.9 L549.9,572.6 L551.4,571.3 L553,570 L554.5,568.7 L556,567.4 L557.6,566 L559.1,564.7 L560.6,563.4 L562.2,562.1 L563.7,560.7 L565.2,559.4 L566.7,558.1 L568.2,556.7 L569.7,555.4 L571.2,554 L572.7,552.6 L574.1,551.2 L575.6,549.8 L577,548.4 L578.5,547 L579.9,545.6 L581.4,544.2 L582.8,542.8 L584.2,541.3 L585.6,539.9 L587,538.4 L588.4,537 L589.8,535.5 L591.2,534.1 L592.6,532.6 L594,531.1 L595.3,529.6 L596.7,528.2 L598.1,526.7 L599.5,525.2 L600.8,523.7 L602.2,522.2 L603.6,520.8 L604.9,519.3 L606.3,517.8 L607.7,516.3 L609,514.8 L610.4,513.3 L611.7,511.8 L613.1,510.3 L614.4,508.8 L615.8,507.2 L617.1,505.7 L618.4,504.2 L619.8,502.7 L621.1,501.2 L622.4,499.7 L623.8,498.1 L625.1,496.6 L626.4,495.1 L627.7,493.6 L629,492 L630.4,490.5 L631.7,489 L633,487.4 L634.3,485.9 L635.6,484.3 L636.9,482.8 L638.2,481.2 L639.5,479.7 L640.8,478.2 L642.1,476.6 L643.4,475 L644.7,473.5 L646,471.9 L647.3,470.4 L648.5,468.8 L649.8,467.3 L651.1,465.7 L652.4,464.1 L653.7,462.6 L654.9,461 L656.2,459.4 L657.5,457.8 L658.7,456.3 L660,454.7 L661.3,453.1 L662.5,451.5 L663.8,450 L665,448.4 L666.3,446.8 L667.5,445.2 L668.8,443.6 L670.1,442 L671.3,440.4 L672.5,438.9 L673.8,437.3 L675,435.7 L676.3,434.1 L677.5,432.5 L678.8,430.9 L680,429.3" fill="none" stroke="#111111" stroke-width="2.0" stroke-linejoin="round" stroke-dasharray="5.2 1.6 1.3 1.6" stroke-dashoffset="0"/>
<path d="M411.5,678.8 L413.5,678.4 L415.5,678 L417.5,677.6 L419.4,677.2 L421.4,676.8 L423.4,676.4 L425.4,675.9 L427.4,675.5 L429.3,675.1 L431.3,674.7 L433.3,674.2 L435.2,673.8 L437.2,673.4 L439.2,672.9 L441.1,672.5 L443.1,672 L445.1,671.5 L447,671.1 L449,670.6 L451,670.1 L452.9,669.7 L454.9,669.2 L456.9,668.7 L458.8,668.2 L460.8,667.7 L462.7,667.2 L464.7,666.7 L466.6,666.1 L468.6,665.6 L470.5,665.1 L472.5,664.5 L474.4,664 L476.3,663.4 L478.3,662.9 L480.2,662.3 L482.2,661.7 L484.1,661.2 L486,660.6 L488,660 L489.9,659.4 L491.8,658.8 L493.8,658.2 L495.7,657.6 L497.6,657 L499.5,656.4 L501.5,655.8 L503.4,655.2 L505.3,654.6 L507.3,654 L509.2,653.4 L511.1,652.8 L513,652.2 L514.9,651.5 L516.9,650.9 L518.8,650.3 L520.7,649.6 L522.6,649 L524.5,648.3 L526.4,647.7 L528.3,647 L530.2,646.3 L532.1,645.6 L534,644.9 L535.9,644.2 L537.8,643.5 L539.7,642.8 L541.6,642.1 L543.5,641.4 L545.4,640.6 L547.2,639.9 L549.1,639.2 L551,638.4 L552.9,637.6 L554.7,636.9 L556.6,636.1 L558.5,635.3 L560.3,634.5 L562.2,633.7 L564,632.9 L565.9,632.1 L567.7,631.3 L569.5,630.5 L571.4,629.6 L573.2,628.8 L575,627.9 L576.9,627.1 L578.7,626.2 L580.5,625.3 L582.3,624.4 L584.1,623.6 L586,622.7 L587.8,621.8 L589.6,620.9 L591.4,619.9 L593.2,619 L595,618.1 L596.8,617.2 L598.5,616.2 L600.3,615.3 L602.1,614.4 L603.9,613.4 L605.7,612.5 L607.5,611.6 L609.3,610.6 L611.1,609.7 L612.9,608.8 L614.7,607.8 L616.4,606.9 L618.2,606 L620,605 L621.8,604.1 L623.6,603.2 L625.4,602.2 L627.2,601.3 L629,600.4 L630.8,599.5 L632.6,598.6 L634.4,597.7 L636.2,596.8 L638,595.9 L639.9,595 L641.7,594.1 L643.5,593.2 L645.3,592.4 L647.1,591.5 L648.9,590.6 L650.8,589.7 L652.6,588.9 L654.4,588 L656.2,587.1 L658,586.3 L659.9,585.4 L661.7,584.5 L663.5,583.7 L665.3,582.8 L667.2,581.9 L669,581.1 L670.8,580.2 L672.7,579.4 L674.5,578.5 L676.3,577.7 L678.2,576.8 L680,576" fill="none" stroke="#111111" stroke-width="2.0" stroke-linejoin="round" stroke-dasharray="9.6 9.1" stroke-dashoffset="0"/>
</g>
<text x="404.2" y="462.5" class="pl" style="fill:#1010f5;stroke:#1010f5">r=10<tspan class="sp" dy="-4.2">&#8722;3</tspan></text>
<text x="398.5" y="539.9" class="pl" style="fill:#111111;stroke:#111111"><tspan class="it">h</tspan><tspan class="sb" dy="2.2">0</tspan><tspan dy="-2.2">=0.2</tspan></text>
<text x="457.8" y="540.3" class="pl" style="fill:#ff0a0a;stroke:#ff0a0a"><tspan class="it">N</tspan><tspan class="st" dx="-0.2" dy="1.6">&#8226;</tspan><tspan dx="1.1" dy="-1.6">=50</tspan></text>
<text x="513.1" y="540.3" class="pl" style="fill:#ff0a0a;stroke:#ff0a0a"><tspan class="it">N</tspan><tspan class="st" dx="-0.2" dy="1.6">&#8226;</tspan><tspan dx="1.1" dy="-1.6">=60</tspan></text>
<text x="598.1" y="540.3" class="pl" style="fill:#111111;stroke:#111111"><tspan class="it">h</tspan><tspan class="sb" dy="2.2">0</tspan><tspan dy="-2.2">=0.4</tspan></text>
<text x="433.7" y="608" class="pl" style="fill:#1010f5;stroke:#1010f5">r=10<tspan class="sp" dy="-4.2">&#8722;2</tspan></text>
<text x="494" y="644.4" class="pl" style="fill:#111111;stroke:#111111"><tspan class="it">h</tspan><tspan class="sb" dy="2.2">0</tspan><tspan dy="-2.2">=0.6</tspan></text>
<text x="613.4" y="662.6" class="pl" style="fill:#1010f5;stroke:#1010f5">r=10<tspan class="sp" dy="-4.2">&#8722;1</tspan></text>
<rect x="580.6" y="396.4" width="79.9" height="61.8" rx="6" ry="6" fill="#fff" stroke="#222" stroke-width="1.3"/>
<rect x="588.2" y="405.8" width="14.2" height="9.2" fill="#a9f5a9" stroke="#cfcfcf" stroke-width="0.5"/>
<text x="607.9" y="413.6" class="lg">1<tspan class="it">&#963;</tspan></text>
<rect x="588.2" y="422.3" width="14.2" height="9.4" fill="#fdfdae" stroke="#cfcfcf" stroke-width="0.5"/>
<text x="607.9" y="430.2" class="lg">2<tspan class="it">&#963;</tspan></text>
<rect x="588.2" y="438.7" width="14.2" height="9.6" fill="#d8d8d8" stroke="#cfcfcf" stroke-width="0.5"/>
<text x="607.9" y="446.7" class="lg">|<tspan class="it">&#981;</tspan><tspan class="st" dy="1.6">&#8226;</tspan><tspan dy="-1.6">&#8722;</tspan><tspan class="it">&#981;</tspan><tspan class="sb" dy="2">0</tspan><tspan dy="-2">|&gt;1</tspan></text>
<rect x="379.8" y="380.1" width="298.5" height="297.7" fill="none" stroke="#5a5a5a" stroke-width="1.1"/>
<path d="M379.8,677.8 v-4 M379.8,380.1 v4 M429.6,677.8 v-4 M429.6,380.1 v4 M479.3,677.8 v-4 M479.3,380.1 v4 M529,677.8 v-4 M529,380.1 v4 M578.8,677.8 v-4 M578.8,380.1 v4 M628.5,677.8 v-4 M628.5,380.1 v4 M678.3,677.8 v-4 M678.3,380.1 v4 M389.8,677.8 v-2.3 M389.8,380.1 v2.3 M399.7,677.8 v-2.3 M399.7,380.1 v2.3 M409.7,677.8 v-2.3 M409.7,380.1 v2.3 M419.6,677.8 v-2.3 M419.6,380.1 v2.3 M439.5,677.8 v-2.3 M439.5,380.1 v2.3 M449.4,677.8 v-2.3 M449.4,380.1 v2.3 M459.4,677.8 v-2.3 M459.4,380.1 v2.3 M469.4,677.8 v-2.3 M469.4,380.1 v2.3 M489.2,677.8 v-2.3 M489.2,380.1 v2.3 M499.2,677.8 v-2.3 M499.2,380.1 v2.3 M509.1,677.8 v-2.3 M509.1,380.1 v2.3 M519.1,677.8 v-2.3 M519.1,380.1 v2.3 M539,677.8 v-2.3 M539,380.1 v2.3 M549,677.8 v-2.3 M549,380.1 v2.3 M558.9,677.8 v-2.3 M558.9,380.1 v2.3 M568.8,677.8 v-2.3 M568.8,380.1 v2.3 M588.8,677.8 v-2.3 M588.8,380.1 v2.3 M598.7,677.8 v-2.3 M598.7,380.1 v2.3 M608.6,677.8 v-2.3 M608.6,380.1 v2.3 M618.6,677.8 v-2.3 M618.6,380.1 v2.3 M638.5,677.8 v-2.3 M638.5,380.1 v2.3 M648.5,677.8 v-2.3 M648.5,380.1 v2.3 M658.4,677.8 v-2.3 M658.4,380.1 v2.3 M668.3,677.8 v-2.3 M668.3,380.1 v2.3 M379.8,639 h4 M678.3,639 h-4 M379.8,587.2 h4 M678.3,587.2 h-4 M379.8,535.4 h4 M678.3,535.4 h-4 M379.8,483.6 h4 M678.3,483.6 h-4 M379.8,431.9 h4 M678.3,431.9 h-4 M379.8,380.1 h4 M678.3,380.1 h-4 M379.8,677.8 h2.3 M678.3,677.8 h-2.3 M379.8,664.9 h2.3 M678.3,664.9 h-2.3 M379.8,651.9 h2.3 M678.3,651.9 h-2.3 M379.8,626 h2.3 M678.3,626 h-2.3 M379.8,613.1 h2.3 M678.3,613.1 h-2.3 M379.8,600.1 h2.3 M678.3,600.1 h-2.3 M379.8,574.3 h2.3 M678.3,574.3 h-2.3 M379.8,561.3 h2.3 M678.3,561.3 h-2.3 M379.8,548.4 h2.3 M678.3,548.4 h-2.3 M379.8,522.5 h2.3 M678.3,522.5 h-2.3 M379.8,509.5 h2.3 M678.3,509.5 h-2.3 M379.8,496.6 h2.3 M678.3,496.6 h-2.3 M379.8,470.7 h2.3 M678.3,470.7 h-2.3 M379.8,457.8 h2.3 M678.3,457.8 h-2.3 M379.8,444.8 h2.3 M678.3,444.8 h-2.3 M379.8,418.9 h2.3 M678.3,418.9 h-2.3 M379.8,406 h2.3 M678.3,406 h-2.3 M379.8,393 h2.3 M678.3,393 h-2.3" stroke="#5a5a5a" stroke-width="0.9" fill="none"/>
<text transform="translate(379.8,688.2) scale(0.86,1)" class="tk" text-anchor="middle">1.0</text>
<text transform="translate(429.6,688.2) scale(0.86,1)" class="tk" text-anchor="middle">1.5</text>
<text transform="translate(479.3,688.2) scale(0.86,1)" class="tk" text-anchor="middle">2.0</text>
<text transform="translate(529,688.2) scale(0.86,1)" class="tk" text-anchor="middle">2.5</text>
<text transform="translate(578.8,688.2) scale(0.86,1)" class="tk" text-anchor="middle">3.0</text>
<text transform="translate(628.5,688.2) scale(0.86,1)" class="tk" text-anchor="middle">3.5</text>
<text transform="translate(678.3,688.2) scale(0.86,1)" class="tk" text-anchor="middle">4.0</text>
<text transform="translate(376.8,642.2) scale(0.86,1)" class="tk" text-anchor="end">20</text>
<text transform="translate(376.8,590.4) scale(0.86,1)" class="tk" text-anchor="end">40</text>
<text transform="translate(376.8,538.6) scale(0.86,1)" class="tk" text-anchor="end">60</text>
<text transform="translate(376.8,486.8) scale(0.86,1)" class="tk" text-anchor="end">80</text>
<text transform="translate(376.8,435.1) scale(0.86,1)" class="tk" text-anchor="end">100</text>
<text transform="translate(376.8,383.3) scale(0.86,1)" class="tk" text-anchor="end">120</text>
<text x="177.7" y="10.8" class="ti" text-anchor="middle">tan<tspan class="th" dx="1">&#952;</tspan>=0</text>
<text x="525.2" y="10.8" class="ti" text-anchor="middle">tan<tspan class="th" dx="1">&#952;</tspan>=&#8722;0.1</text>
<text x="177.4" y="372.7" class="ti" text-anchor="middle">tan<tspan class="th" dx="1">&#952;</tspan>=&#8722;0.4</text>
<text x="529" y="372.7" class="ti" text-anchor="middle">tan<tspan class="th" dx="1">&#952;</tspan>=&#8722;0.7</text>
<text x="177.9" y="345.6" class="ax" text-anchor="middle">c</text>
<text x="525.2" y="345.6" class="ax" text-anchor="middle">c</text>
<text x="177.4" y="708" class="ax" text-anchor="middle">c</text>
<text x="529" y="708" class="ax" text-anchor="middle">c</text>
<path transform="translate(-347,-362.2)" d="M357.5,524.4 C356,523.7 353.4,524.1 353.4,525.7 C353.4,526.9 355,527.2 356.7,527.1 M355.3,527.2 C352.8,527.6 351.7,529.5 352.3,530.9 C353,532.3 355.9,532.1 355.8,533.6 C355.7,534.6 354.4,535 353.8,535.6" fill="none" stroke="#111" stroke-width="1.15" stroke-linecap="round"/>
<path transform="translate(0.5,-362.4)" d="M357.5,524.4 C356,523.7 353.4,524.1 353.4,525.7 C353.4,526.9 355,527.2 356.7,527.1 M355.3,527.2 C352.8,527.6 351.7,529.5 352.3,530.9 C353,532.3 355.9,532.1 355.8,533.6 C355.7,534.6 354.4,535 353.8,535.6" fill="none" stroke="#111" stroke-width="1.15" stroke-linecap="round"/>
<path transform="translate(-351.9,0.1)" d="M357.5,524.4 C356,523.7 353.4,524.1 353.4,525.7 C353.4,526.9 355,527.2 356.7,527.1 M355.3,527.2 C352.8,527.6 351.7,529.5 352.3,530.9 C353,532.3 355.9,532.1 355.8,533.6 C355.7,534.6 354.4,535 353.8,535.6" fill="none" stroke="#111" stroke-width="1.15" stroke-linecap="round"/>
<path transform="translate(0,0)" d="M357.5,524.4 C356,523.7 353.4,524.1 353.4,525.7 C353.4,526.9 355,527.2 356.7,527.1 M355.3,527.2 C352.8,527.6 351.7,529.5 352.3,530.9 C353,532.3 355.9,532.1 355.8,533.6 C355.7,534.6 354.4,535 353.8,535.6" fill="none" stroke="#111" stroke-width="1.15" stroke-linecap="round"/>
</svg></body></html>
